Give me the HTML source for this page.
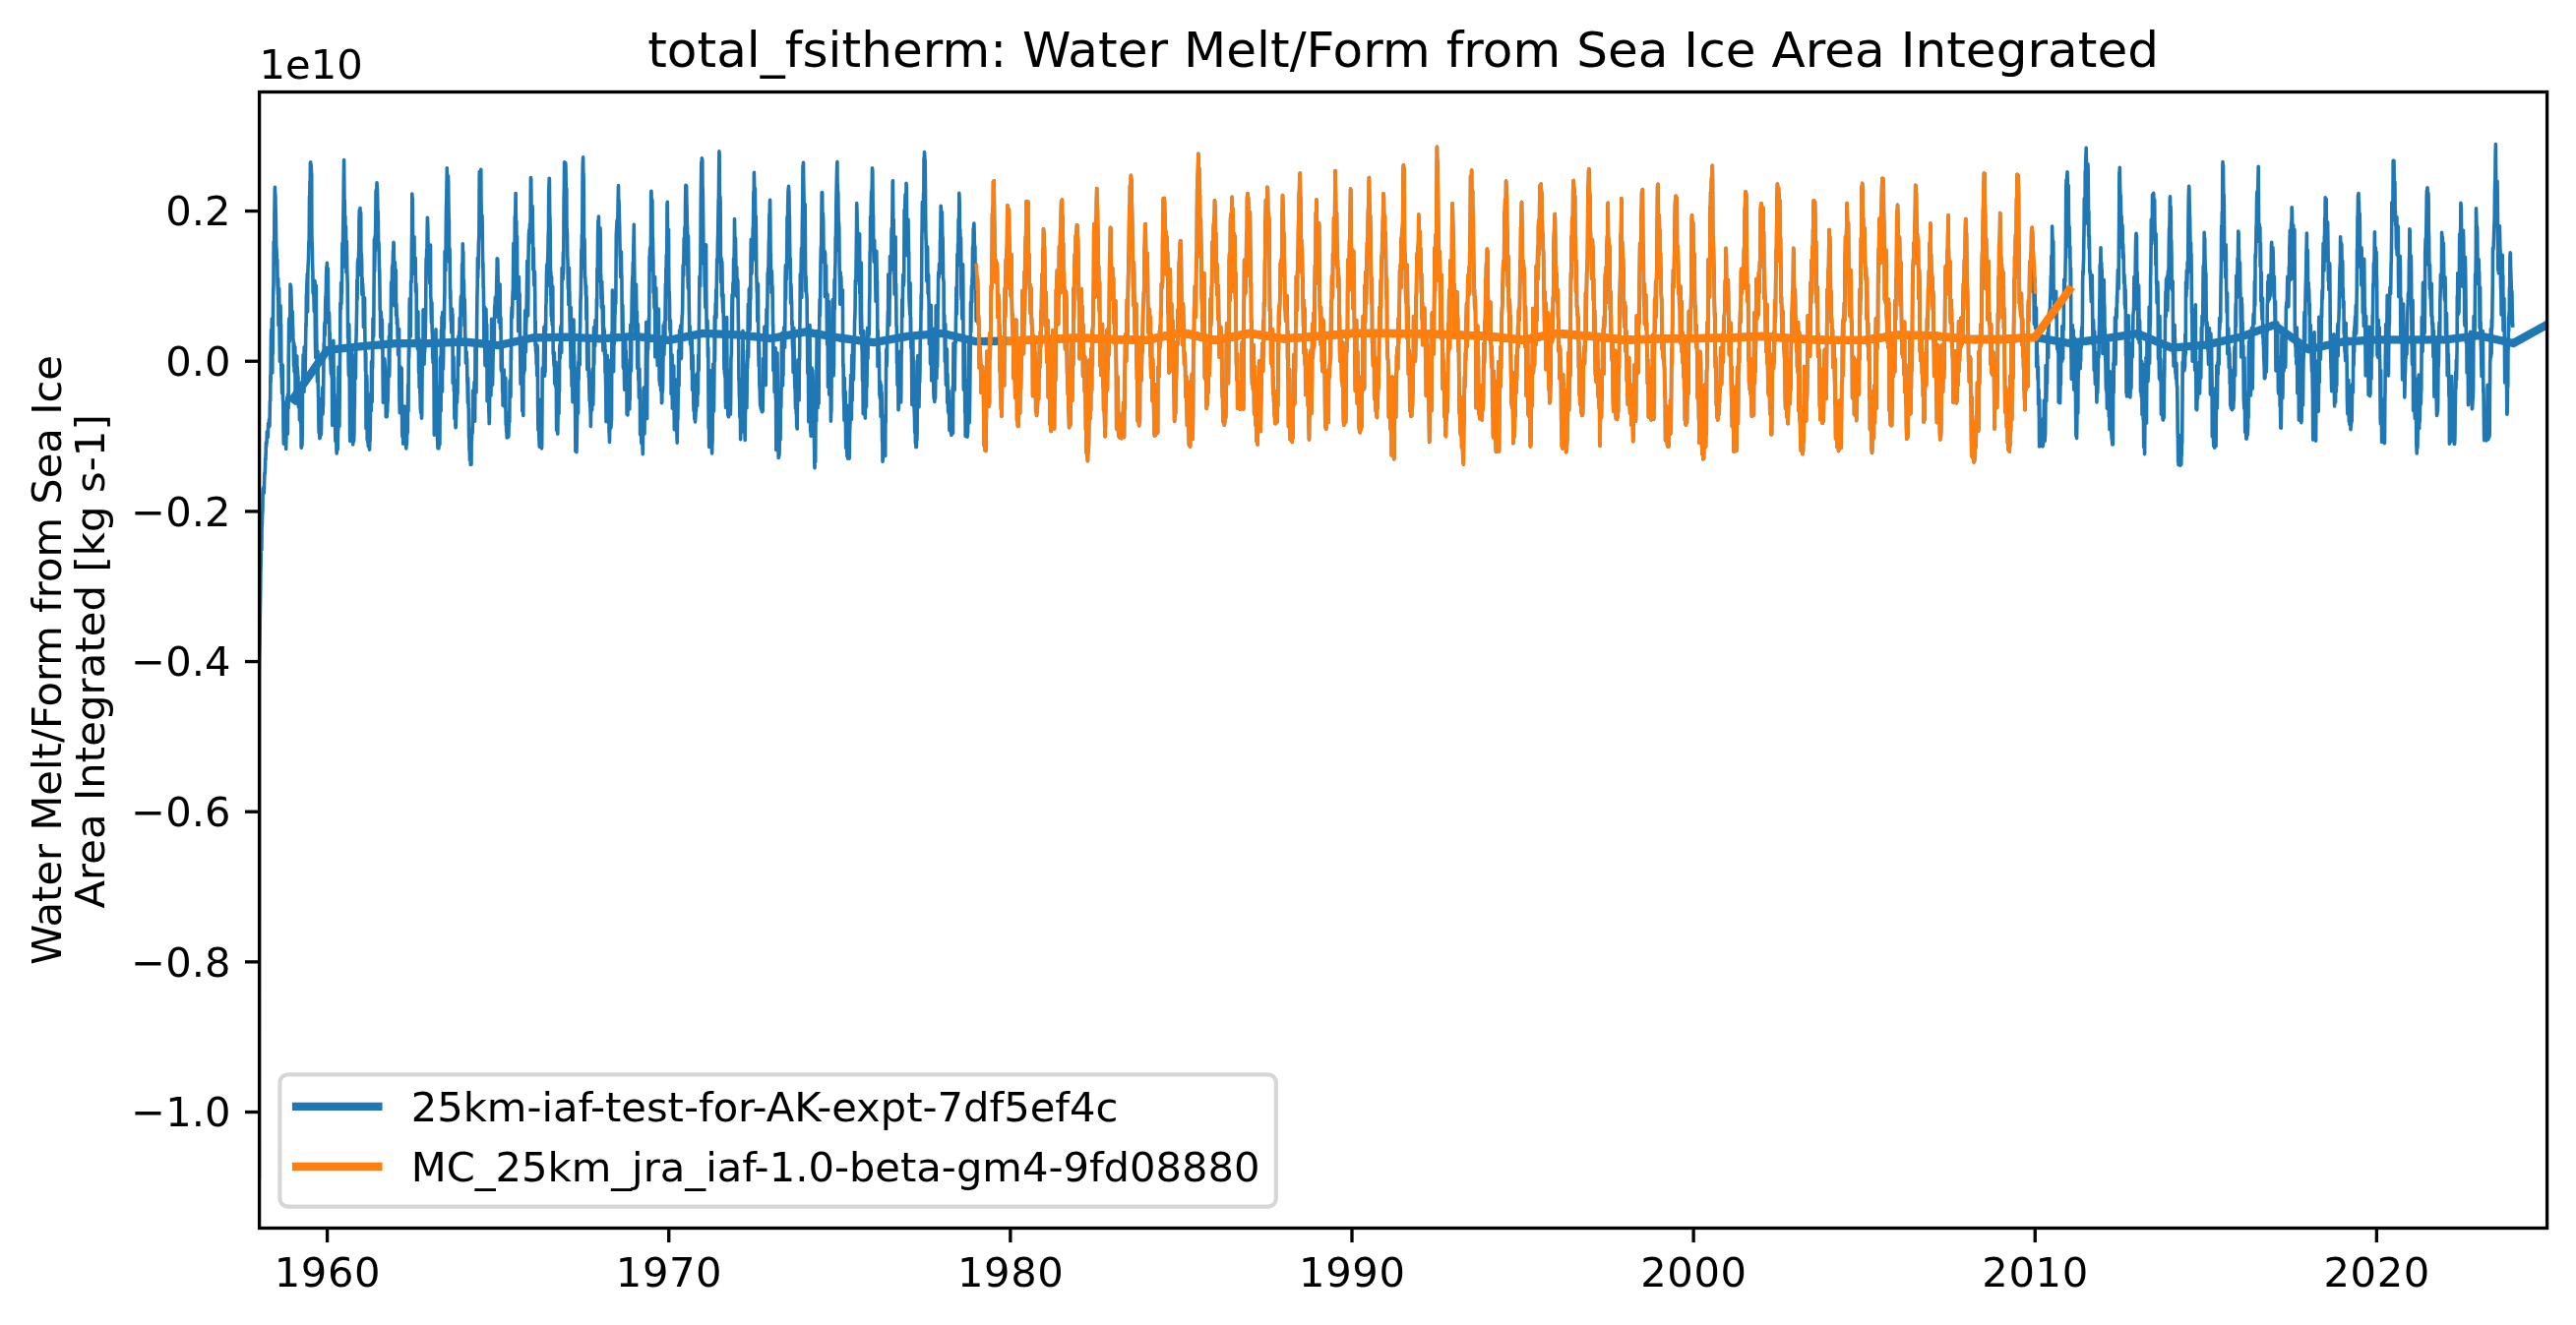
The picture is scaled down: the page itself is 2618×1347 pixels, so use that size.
<!DOCTYPE html>
<html lang="en"><head><meta charset="utf-8"><title>total_fsitherm</title>
<style>html,body{margin:0;padding:0;background:#fff}body{width:2618px;height:1347px;overflow:hidden}</style>
</head><body>
<svg width="2618" height="1347" viewBox="0 0 2618 1347" style="display:block;font-family:'DejaVu Sans','Liberation Sans',sans-serif" font-size="41.667" fill="#000">
<rect width="2618" height="1347" fill="#fff"/>
<clipPath id="ax"><rect x="263.6" y="93.5" width="2325.0" height="1155.0"/></clipPath>
<g clip-path="url(#ax)" fill="none" stroke-linejoin="round">
<polyline stroke="#1f77b4" stroke-width="3.6" stroke-linecap="square" points="263.4,1196.1 263.5,687.8 263.7,666.6 264.0,654.7 264.2,637.2 264.4,618.9 264.7,603.5 264.9,582.9 265.2,572.3 265.4,547.4 265.6,541.1 265.9,559.0 266.1,535.9 266.4,531.7 266.6,523.3 266.9,519.7 267.1,503.4 267.4,496.9 267.6,501.0 267.9,497.6 268.1,494.7 268.3,501.2 268.6,492.3 268.8,484.3 269.0,480.3 269.2,481.8 269.5,475.7 269.7,465.1 269.9,467.4 270.2,459.7 270.4,449.7 270.6,454.1 270.9,450.0 271.1,449.6 271.4,438.6 271.6,444.6 271.9,441.8 272.1,444.8 272.4,443.6 272.6,430.3 272.8,435.3 273.1,430.4 273.3,432.5 273.5,426.4 273.8,427.2 274.0,433.4 274.2,420.7 274.4,407.8 274.7,407.2 274.9,381.0 275.1,389.4 275.4,347.9 275.6,335.4 275.8,362.7 276.1,357.7 276.3,324.1 276.6,353.8 276.8,379.0 277.0,325.2 277.3,359.8 277.5,320.7 277.7,297.4 278.0,289.0 278.2,245.5 278.4,265.4 278.7,259.6 278.9,219.5 279.1,204.9 279.4,190.2 279.6,196.6 279.9,198.4 280.1,212.1 280.3,216.3 280.6,241.7 280.8,252.2 281.1,254.9 281.3,268.8 281.5,267.4 281.8,264.0 282.0,287.1 282.3,293.1 282.5,299.8 282.7,283.3 283.0,330.7 283.2,309.5 283.5,320.7 283.7,293.4 283.9,326.2 284.2,348.3 284.4,367.5 284.7,364.1 284.9,310.3 285.1,312.9 285.4,335.8 285.6,329.7 285.9,378.1 286.1,383.8 286.3,382.5 286.6,399.7 286.8,387.2 287.1,370.8 287.3,372.1 287.5,404.8 287.8,410.3 288.0,434.4 288.3,451.3 288.5,414.7 288.7,421.5 289.0,436.6 289.2,409.0 289.5,424.1 289.7,451.4 289.9,441.7 290.2,439.2 290.4,448.1 290.7,456.5 290.9,443.4 291.2,439.2 291.4,426.6 291.6,409.5 291.9,403.8 292.1,414.9 292.4,441.3 292.6,402.4 292.8,400.4 293.1,415.3 293.3,362.2 293.6,333.2 293.8,323.7 294.1,323.8 294.3,347.3 294.5,334.9 294.8,326.1 295.0,289.0 295.3,292.5 295.5,291.3 295.8,294.0 296.0,301.0 296.2,305.0 296.5,322.5 296.7,329.4 297.0,327.8 297.2,316.5 297.4,327.3 297.7,334.5 297.9,343.9 298.2,347.6 298.4,362.3 298.6,372.1 298.9,348.9 299.1,378.1 299.4,368.8 299.6,357.7 299.8,352.5 300.1,396.5 300.3,410.2 300.6,377.2 300.8,386.3 301.0,391.7 301.3,384.1 301.5,382.8 301.8,362.1 302.0,387.2 302.2,373.3 302.5,377.4 302.7,380.7 303.0,383.4 303.2,409.8 303.4,413.8 303.7,404.5 303.9,394.1 304.2,403.5 304.4,427.0 304.6,415.7 304.9,418.3 305.1,421.7 305.4,422.4 305.6,430.2 305.8,405.9 306.1,453.9 306.3,455.2 306.6,453.3 306.8,424.0 307.0,452.7 307.3,435.1 307.5,390.6 307.8,395.1 308.0,369.5 308.2,360.6 308.5,385.1 308.7,361.5 309.0,398.4 309.2,352.8 309.4,368.0 309.7,375.2 309.9,384.6 310.2,376.3 310.4,359.9 310.6,349.8 310.9,329.0 311.1,332.4 311.4,299.1 311.6,304.7 311.8,290.8 312.1,285.1 312.3,278.2 312.6,316.9 312.8,284.6 313.0,272.7 313.3,266.7 313.5,263.5 313.8,247.4 314.0,244.5 314.2,244.3 314.5,199.5 314.7,204.6 315.0,183.8 315.2,187.5 315.4,165.5 315.7,164.9 315.9,170.9 316.2,167.9 316.4,174.0 316.7,177.1 316.9,237.4 317.1,245.4 317.4,253.2 317.6,270.4 317.9,276.2 318.1,297.9 318.4,284.5 318.6,299.5 318.8,294.4 319.1,308.8 319.3,316.7 319.6,299.2 319.8,285.3 320.1,287.1 320.3,331.5 320.5,350.7 320.8,363.8 321.0,323.4 321.3,290.3 321.5,323.3 321.8,347.5 322.0,357.3 322.3,380.7 322.5,388.1 322.7,369.4 323.0,357.2 323.2,386.8 323.5,399.6 323.7,412.5 324.0,436.2 324.2,439.9 324.4,440.4 324.7,434.7 324.9,445.6 325.2,445.0 325.4,434.7 325.6,431.4 325.9,434.5 326.1,442.4 326.4,440.8 326.6,432.5 326.8,404.7 327.1,408.7 327.3,408.7 327.6,405.1 327.8,393.7 328.0,421.2 328.3,414.1 328.5,413.0 328.8,382.1 329.0,361.3 329.2,349.1 329.5,351.8 329.7,334.4 330.0,327.7 330.2,341.1 330.4,334.0 330.7,309.9 330.9,302.6 331.2,299.7 331.4,295.1 331.6,280.0 331.9,271.4 332.1,276.6 332.4,267.4 332.6,285.4 332.8,273.1 333.1,276.2 333.3,273.0 333.6,303.9 333.8,320.4 334.1,328.6 334.3,326.8 334.5,317.8 334.8,328.0 335.0,350.9 335.3,338.5 335.5,365.5 335.7,347.1 336.0,367.0 336.2,373.9 336.5,380.1 336.7,375.6 336.9,366.3 337.2,383.5 337.4,372.6 337.7,432.5 337.9,413.2 338.2,398.5 338.4,385.2 338.6,372.7 338.9,346.4 339.1,375.2 339.4,400.7 339.6,383.8 339.8,408.5 340.1,400.7 340.3,414.8 340.6,433.8 340.8,445.7 341.0,448.7 341.3,423.3 341.5,449.2 341.8,436.9 342.0,457.8 342.2,461.0 342.5,439.1 342.7,428.4 343.0,455.4 343.2,457.2 343.5,438.9 343.7,436.7 344.0,373.1 344.2,421.3 344.4,407.9 344.7,423.3 344.9,433.5 345.2,396.7 345.4,371.4 345.7,349.8 345.9,308.1 346.1,313.3 346.4,313.9 346.6,287.6 346.9,309.2 347.1,298.2 347.4,297.7 347.6,277.9 347.9,247.4 348.1,269.8 348.3,272.0 348.6,240.1 348.8,223.8 349.1,203.8 349.3,180.4 349.6,162.6 349.8,183.4 350.0,209.3 350.3,203.8 350.5,227.7 350.8,219.8 351.0,244.8 351.2,239.0 351.5,230.0 351.7,258.1 352.0,277.2 352.2,255.5 352.4,245.2 352.7,273.2 352.9,279.4 353.2,289.3 353.4,313.9 353.6,344.1 353.9,334.6 354.1,366.5 354.4,381.4 354.6,360.9 354.8,329.9 355.1,370.3 355.3,395.5 355.6,441.5 355.8,448.4 356.0,428.4 356.3,439.3 356.5,386.9 356.8,386.4 357.0,383.5 357.2,436.3 357.5,432.2 357.7,353.9 358.0,418.3 358.2,417.7 358.4,441.9 358.7,452.0 358.9,437.9 359.2,426.7 359.4,448.8 359.6,448.2 359.9,441.0 360.1,416.0 360.4,414.6 360.6,376.8 360.9,361.6 361.1,379.4 361.4,384.8 361.6,365.9 361.8,348.7 362.1,340.7 362.3,329.0 362.6,315.4 362.8,285.1 363.1,304.5 363.3,280.8 363.5,266.1 363.8,264.9 364.0,262.8 364.3,280.1 364.5,259.2 364.8,251.9 365.0,224.4 365.3,213.6 365.5,215.7 365.7,223.7 366.0,211.6 366.2,235.2 366.5,215.6 366.7,216.4 366.9,253.1 367.2,264.3 367.4,258.3 367.7,270.2 367.9,299.5 368.1,282.6 368.4,293.4 368.6,288.1 368.9,296.4 369.1,296.5 369.4,332.6 369.6,310.0 369.8,306.6 370.1,331.3 370.3,322.7 370.6,302.9 370.8,333.0 371.0,347.5 371.3,360.6 371.5,377.0 371.8,359.0 372.0,435.6 372.2,395.4 372.5,394.2 372.7,381.9 373.0,390.7 373.2,447.0 373.4,436.3 373.7,449.4 373.9,424.9 374.2,452.2 374.4,453.8 374.6,409.6 374.9,445.6 375.1,439.9 375.4,454.0 375.6,457.1 375.8,441.7 376.1,448.3 376.3,437.9 376.6,400.7 376.8,403.7 377.0,398.7 377.3,417.7 377.5,367.5 377.8,378.7 378.0,374.4 378.2,408.6 378.5,356.4 378.7,374.1 379.0,323.9 379.2,342.8 379.4,333.6 379.7,342.2 379.9,318.7 380.2,275.1 380.4,243.4 380.6,276.4 380.9,264.4 381.1,240.4 381.4,255.6 381.6,238.9 381.8,221.1 382.1,193.5 382.3,225.8 382.6,239.3 382.8,197.6 383.0,185.7 383.3,191.0 383.5,193.3 383.8,209.5 384.0,224.4 384.3,215.2 384.5,235.6 384.7,252.4 385.0,246.2 385.2,255.3 385.5,275.2 385.7,273.4 386.0,296.3 386.2,315.1 386.5,315.7 386.7,343.1 386.9,339.8 387.2,317.1 387.4,321.0 387.7,337.9 387.9,353.9 388.2,324.7 388.4,328.6 388.6,352.5 388.9,350.0 389.1,378.3 389.4,409.2 389.6,397.4 389.9,395.0 390.1,366.2 390.3,393.3 390.6,388.6 390.8,364.9 391.1,369.6 391.3,372.4 391.6,389.1 391.8,406.2 392.0,402.1 392.3,423.8 392.5,415.4 392.8,413.1 393.0,417.0 393.2,423.6 393.5,413.5 393.7,418.8 394.0,397.7 394.2,408.9 394.5,391.0 394.7,379.7 394.9,378.8 395.2,371.0 395.4,341.7 395.7,382.5 395.9,370.9 396.1,329.8 396.4,352.5 396.6,341.9 396.9,344.1 397.1,347.2 397.3,322.8 397.6,286.9 397.8,288.0 398.1,292.3 398.3,291.5 398.5,273.2 398.8,269.9 399.0,275.0 399.3,265.3 399.5,254.9 399.7,258.5 400.0,246.4 400.2,248.4 400.5,267.1 400.7,270.6 401.0,311.0 401.2,267.8 401.4,266.5 401.7,277.7 401.9,306.6 402.2,302.6 402.4,274.6 402.6,320.8 402.9,308.7 403.1,316.3 403.4,329.3 403.6,322.9 403.9,325.8 404.1,341.8 404.3,343.2 404.6,360.7 404.8,344.4 405.1,348.4 405.3,345.4 405.6,334.3 405.8,388.4 406.0,407.0 406.3,419.8 406.5,390.6 406.8,396.6 407.0,394.3 407.2,373.1 407.5,402.0 407.7,388.7 408.0,394.3 408.2,374.3 408.5,417.5 408.7,437.8 408.9,444.0 409.2,419.7 409.4,417.9 409.7,451.2 409.9,436.8 410.2,448.5 410.4,438.3 410.6,415.0 410.9,442.4 411.1,413.0 411.4,443.7 411.6,438.4 411.8,416.1 412.1,448.6 412.3,451.3 412.6,453.9 412.8,455.9 413.1,448.4 413.3,452.0 413.5,447.3 413.8,426.1 414.0,425.1 414.3,440.4 414.5,403.6 414.7,390.8 415.0,418.0 415.2,374.9 415.5,349.9 415.7,363.3 415.9,351.2 416.2,310.7 416.4,303.5 416.7,327.8 416.9,334.3 417.2,342.2 417.4,325.0 417.6,286.0 417.9,286.0 418.1,287.3 418.4,249.9 418.6,237.6 418.8,197.0 419.1,205.9 419.3,201.3 419.6,252.3 419.8,278.4 420.0,257.6 420.3,255.5 420.5,270.0 420.8,242.9 421.0,240.8 421.2,276.0 421.5,266.9 421.7,270.1 422.0,263.8 422.2,262.4 422.5,296.6 422.7,290.0 422.9,288.4 423.2,295.8 423.4,350.9 423.7,344.2 423.9,333.6 424.1,345.5 424.4,354.6 424.6,354.2 424.9,316.7 425.1,347.9 425.3,345.9 425.6,379.0 425.8,344.3 426.1,394.0 426.3,387.8 426.5,350.5 426.8,400.0 427.0,399.8 427.3,416.3 427.5,413.6 427.7,419.5 428.0,416.2 428.2,415.9 428.5,425.1 428.7,421.7 428.9,398.4 429.2,371.2 429.4,353.8 429.6,360.5 429.9,367.9 430.1,314.8 430.4,355.7 430.6,360.4 430.8,343.0 431.1,370.2 431.3,350.5 431.5,358.8 431.8,353.9 432.0,330.6 432.2,344.2 432.5,327.0 432.7,312.6 433.0,268.7 433.2,262.4 433.4,275.6 433.7,253.5 433.9,264.2 434.1,240.5 434.4,221.2 434.6,225.0 434.8,231.0 435.1,252.2 435.3,265.4 435.6,279.8 435.8,273.1 436.1,279.8 436.3,269.7 436.5,275.9 436.8,288.1 437.0,260.0 437.3,257.3 437.5,249.1 437.7,302.0 438.0,304.1 438.2,318.9 438.5,328.5 438.7,315.1 438.9,307.6 439.2,337.9 439.4,337.0 439.7,364.5 439.9,359.6 440.1,368.7 440.4,362.5 440.6,365.7 440.9,370.7 441.1,399.0 441.3,442.2 441.6,390.9 441.8,396.5 442.1,414.3 442.3,391.8 442.5,373.9 442.8,379.2 443.0,334.8 443.3,385.3 443.5,392.0 443.8,393.3 444.0,408.2 444.2,417.9 444.5,446.8 444.7,448.6 445.0,455.7 445.2,434.1 445.4,437.4 445.7,440.7 445.9,455.9 446.2,449.9 446.4,446.1 446.6,447.7 446.9,452.1 447.1,426.2 447.3,365.5 447.6,362.9 447.8,389.4 448.1,417.9 448.3,364.6 448.5,335.5 448.8,364.1 449.0,322.0 449.3,366.4 449.5,397.9 449.7,317.6 450.0,356.1 450.2,346.7 450.4,375.1 450.7,359.7 450.9,331.1 451.2,329.4 451.4,333.4 451.6,311.9 451.9,297.7 452.1,255.5 452.3,267.2 452.6,258.8 452.8,275.2 453.1,254.4 453.3,227.9 453.5,211.5 453.8,202.8 454.0,189.7 454.3,170.9 454.5,188.2 454.7,196.5 455.0,206.5 455.2,180.2 455.5,179.1 455.7,186.6 455.9,206.1 456.2,223.0 456.4,223.8 456.6,266.6 456.9,252.4 457.1,254.3 457.4,288.2 457.6,303.5 457.8,295.2 458.1,316.8 458.3,326.6 458.6,327.8 458.8,338.3 459.0,319.9 459.3,335.8 459.5,314.1 459.8,326.5 460.0,319.5 460.2,389.6 460.5,381.7 460.7,389.8 461.0,362.7 461.2,385.4 461.4,398.0 461.7,386.1 461.9,425.6 462.2,391.6 462.4,425.6 462.6,410.3 462.9,432.8 463.1,434.7 463.3,433.2 463.6,419.5 463.8,394.3 464.1,388.7 464.3,402.1 464.5,409.2 464.8,395.1 465.0,400.8 465.3,367.8 465.5,361.9 465.7,357.8 466.0,341.6 466.2,371.5 466.5,358.3 466.7,336.8 466.9,344.0 467.2,323.0 467.4,329.9 467.7,347.2 467.9,346.5 468.1,311.1 468.4,301.6 468.6,321.3 468.9,300.3 469.1,310.0 469.3,306.3 469.6,268.4 469.8,274.5 470.1,273.5 470.3,247.7 470.5,260.5 470.8,255.9 471.0,300.3 471.3,284.5 471.5,289.7 471.7,303.9 472.0,331.3 472.2,304.1 472.5,317.8 472.7,338.0 472.9,343.4 473.2,346.4 473.4,368.9 473.7,363.4 473.9,360.7 474.2,357.7 474.4,370.5 474.6,364.3 474.9,388.2 475.1,390.5 475.4,409.6 475.6,384.2 475.8,394.5 476.1,413.4 476.3,415.5 476.6,445.3 476.8,441.5 477.0,456.9 477.3,458.9 477.5,468.0 477.8,447.8 478.0,446.6 478.2,472.5 478.5,460.0 478.7,466.4 479.0,472.3 479.2,437.3 479.4,447.6 479.7,436.6 479.9,440.7 480.2,439.8 480.4,426.5 480.6,397.1 480.9,405.2 481.1,402.1 481.4,404.7 481.6,419.1 481.8,398.3 482.1,388.2 482.3,425.3 482.6,428.2 482.8,394.8 483.0,355.4 483.3,346.3 483.5,349.0 483.7,373.6 484.0,399.0 484.2,355.9 484.5,344.9 484.7,321.9 484.9,303.0 485.2,289.2 485.4,262.4 485.7,281.9 485.9,265.7 486.1,273.6 486.4,247.5 486.6,243.8 486.9,238.4 487.1,193.7 487.3,174.6 487.6,195.2 487.8,190.8 488.1,182.3 488.3,179.7 488.5,180.7 488.8,172.2 489.0,203.7 489.3,218.9 489.5,228.4 489.7,225.4 490.0,219.1 490.2,227.0 490.5,256.9 490.7,272.0 490.9,266.8 491.2,292.8 491.4,292.0 491.7,320.1 491.9,349.8 492.2,339.4 492.4,329.3 492.6,312.3 492.9,369.5 493.1,371.7 493.4,337.9 493.6,360.2 493.9,314.3 494.1,321.8 494.3,334.1 494.6,334.7 494.8,329.8 495.1,407.8 495.3,387.7 495.5,387.0 495.8,386.3 496.0,351.7 496.3,357.2 496.5,380.9 496.8,418.3 497.0,420.8 497.2,430.8 497.5,421.8 497.7,395.0 498.0,396.0 498.2,400.4 498.4,372.6 498.7,368.2 498.9,402.1 499.2,389.6 499.4,370.1 499.6,324.3 499.9,353.5 500.1,360.5 500.4,369.8 500.6,391.2 500.9,372.5 501.1,362.5 501.3,348.6 501.6,338.6 501.8,342.0 502.1,349.2 502.3,346.9 502.5,322.3 502.8,310.3 503.0,321.4 503.3,302.5 503.5,308.5 503.7,322.4 504.0,316.1 504.2,300.7 504.5,301.7 504.7,287.9 505.0,277.2 505.2,262.9 505.4,263.4 505.7,263.2 505.9,267.3 506.1,282.9 506.4,290.3 506.6,304.3 506.9,299.3 507.1,327.8 507.3,318.6 507.6,293.2 507.8,289.8 508.1,288.9 508.3,310.8 508.5,334.2 508.8,326.1 509.0,323.1 509.2,373.5 509.5,377.0 509.7,368.1 510.0,377.1 510.2,353.8 510.4,377.2 510.7,398.7 510.9,391.6 511.1,412.2 511.4,397.2 511.6,403.4 511.9,387.9 512.1,388.3 512.3,376.1 512.6,401.9 512.8,406.5 513.1,413.6 513.3,396.8 513.5,385.2 513.8,384.2 514.0,417.4 514.2,432.0 514.5,427.7 514.7,438.6 515.0,438.6 515.2,445.0 515.4,444.9 515.7,441.9 515.9,423.9 516.2,419.8 516.4,437.9 516.6,444.4 516.9,443.2 517.1,433.2 517.4,420.3 517.6,423.2 517.8,428.7 518.1,387.9 518.3,386.6 518.5,393.7 518.8,389.9 519.0,403.5 519.3,356.5 519.5,365.9 519.7,322.1 520.0,316.3 520.2,312.2 520.5,323.0 520.7,316.0 520.9,303.6 521.2,295.7 521.4,294.7 521.7,264.3 521.9,247.4 522.1,257.4 522.4,261.3 522.6,267.2 522.9,303.4 523.1,254.9 523.3,221.0 523.6,219.6 523.8,215.7 524.1,196.6 524.3,215.6 524.5,228.3 524.8,224.9 525.0,247.4 525.3,248.7 525.5,240.2 525.7,277.8 526.0,304.4 526.2,299.6 526.5,308.6 526.7,336.8 526.9,323.9 527.2,290.3 527.4,281.6 527.7,317.0 527.9,322.1 528.1,298.6 528.4,350.2 528.6,353.8 528.9,372.1 529.1,390.3 529.3,371.6 529.6,380.0 529.8,367.9 530.1,348.3 530.3,365.9 530.5,391.7 530.8,417.7 531.0,394.7 531.3,415.4 531.5,416.8 531.8,422.5 532.0,373.0 532.2,358.0 532.5,379.7 532.7,355.6 533.0,345.2 533.2,376.4 533.4,335.7 533.7,315.7 533.9,322.2 534.2,349.2 534.4,357.9 534.6,331.9 534.9,323.9 535.1,314.7 535.4,298.3 535.6,279.9 535.8,265.2 536.1,288.2 536.3,278.7 536.6,321.0 536.8,298.6 537.0,263.9 537.3,245.4 537.5,237.9 537.8,233.7 538.0,238.4 538.2,235.7 538.5,227.6 538.7,232.3 539.0,241.7 539.2,204.9 539.4,180.6 539.7,181.6 539.9,196.8 540.2,238.4 540.4,227.9 540.6,244.0 540.9,247.1 541.1,209.6 541.4,229.8 541.6,240.3 541.8,274.2 542.1,261.4 542.3,252.2 542.6,280.5 542.8,290.2 543.0,282.8 543.3,275.9 543.5,278.7 543.8,311.5 544.0,350.9 544.2,326.6 544.5,356.7 544.7,357.4 545.0,359.8 545.2,370.5 545.4,352.0 545.7,381.7 545.9,350.7 546.2,353.4 546.4,355.4 546.6,410.8 546.9,437.2 547.1,436.4 547.4,431.7 547.6,405.9 547.8,442.5 548.1,451.5 548.3,454.2 548.6,430.2 548.8,426.5 549.0,433.4 549.3,447.4 549.5,434.0 549.8,443.5 550.0,447.9 550.2,449.5 550.5,455.9 550.7,452.4 551.0,413.3 551.2,379.6 551.4,373.8 551.7,374.3 551.9,382.5 552.2,380.1 552.4,373.0 552.6,355.5 552.9,332.5 553.1,340.6 553.4,371.0 553.6,382.1 553.9,365.7 554.1,378.1 554.3,328.9 554.6,336.3 554.8,310.8 555.1,307.6 555.3,290.5 555.5,277.0 555.8,269.0 556.0,291.0 556.3,267.5 556.5,270.6 556.7,262.8 557.0,252.8 557.2,238.8 557.5,234.5 557.7,193.7 557.9,190.7 558.2,181.2 558.4,181.5 558.7,219.1 558.9,219.9 559.1,229.3 559.4,263.5 559.6,300.1 559.9,276.5 560.1,311.5 560.3,321.8 560.6,281.5 560.8,326.5 561.0,302.7 561.3,330.5 561.5,310.3 561.8,291.4 562.0,336.8 562.2,359.9 562.5,358.2 562.7,364.2 563.0,371.5 563.2,371.9 563.4,358.6 563.7,389.9 563.9,390.0 564.2,388.1 564.4,388.6 564.6,392.5 564.9,368.1 565.1,386.8 565.3,383.8 565.6,437.5 565.8,420.2 566.1,423.5 566.3,438.2 566.5,437.4 566.8,441.1 567.0,424.8 567.3,409.6 567.5,384.7 567.7,371.8 568.0,420.5 568.2,394.9 568.5,397.9 568.7,353.6 569.0,350.1 569.2,364.1 569.4,356.8 569.7,336.2 569.9,333.0 570.2,331.1 570.4,344.2 570.7,358.5 570.9,312.0 571.1,272.6 571.4,282.2 571.6,278.4 571.9,282.3 572.1,284.1 572.4,256.2 572.6,278.6 572.8,262.6 573.1,201.4 573.3,195.3 573.6,164.9 573.8,183.5 574.1,173.3 574.3,192.2 574.5,171.6 574.8,165.5 575.0,170.8 575.3,196.7 575.5,194.7 575.8,191.9 576.0,238.3 576.2,232.3 576.5,238.4 576.7,260.5 577.0,265.2 577.2,284.2 577.4,293.6 577.7,285.1 577.9,309.8 578.2,291.0 578.4,272.3 578.7,299.3 578.9,296.9 579.1,324.7 579.4,337.9 579.6,340.6 579.9,354.9 580.1,374.1 580.3,312.6 580.6,338.6 580.8,370.4 581.1,392.5 581.3,390.9 581.6,373.3 581.8,390.0 582.0,408.8 582.3,361.8 582.5,342.3 582.8,359.5 583.0,325.0 583.2,351.1 583.5,387.3 583.7,360.4 584.0,388.3 584.2,373.6 584.5,410.3 584.7,427.8 584.9,458.8 585.2,438.1 585.4,454.9 585.7,455.3 585.9,459.7 586.1,454.9 586.4,434.5 586.6,421.5 586.9,400.2 587.1,393.9 587.3,383.5 587.6,420.2 587.8,368.0 588.1,385.8 588.3,370.5 588.5,348.5 588.8,370.4 589.0,348.3 589.2,371.0 589.5,337.3 589.7,331.9 590.0,306.5 590.2,302.2 590.4,292.5 590.7,268.3 590.9,253.5 591.1,266.9 591.4,238.2 591.6,252.8 591.9,215.8 592.1,177.7 592.3,166.3 592.6,159.8 592.8,174.1 593.1,178.5 593.3,196.2 593.5,246.9 593.8,272.9 594.0,243.0 594.2,250.3 594.5,282.2 594.7,281.5 594.9,285.6 595.2,292.9 595.4,300.4 595.7,290.7 595.9,324.7 596.1,301.1 596.4,314.0 596.6,360.2 596.8,375.7 597.1,359.0 597.3,347.3 597.6,349.2 597.8,341.8 598.0,345.3 598.3,383.5 598.5,374.3 598.7,387.6 599.0,399.7 599.2,407.8 599.5,391.0 599.7,413.5 599.9,412.2 600.2,421.5 600.4,433.4 600.6,413.1 600.9,410.3 601.1,402.0 601.4,416.5 601.6,417.3 601.9,409.7 602.1,379.7 602.3,377.7 602.6,374.5 602.8,411.6 603.1,389.9 603.3,347.0 603.5,332.7 603.8,370.5 604.0,338.7 604.3,348.4 604.5,343.6 604.7,352.0 605.0,325.5 605.2,327.1 605.5,326.3 605.7,339.2 605.9,344.3 606.2,332.4 606.4,303.8 606.7,311.2 606.9,273.0 607.2,287.0 607.4,264.1 607.6,240.1 607.9,224.2 608.1,233.6 608.4,220.1 608.6,233.7 608.8,254.6 609.1,243.2 609.3,240.8 609.5,249.0 609.8,246.9 610.0,231.8 610.3,241.8 610.5,281.7 610.7,278.7 611.0,303.8 611.2,297.6 611.4,312.8 611.7,286.1 611.9,293.7 612.2,303.1 612.4,323.3 612.6,331.4 612.9,356.4 613.1,311.1 613.3,331.2 613.6,353.0 613.8,333.4 614.1,337.3 614.3,336.5 614.5,360.7 614.8,350.0 615.0,378.8 615.2,355.7 615.5,385.7 615.7,391.6 616.0,428.7 616.2,419.1 616.4,390.3 616.7,389.0 616.9,379.1 617.1,361.2 617.4,378.8 617.6,383.7 617.9,367.8 618.1,370.7 618.3,366.0 618.6,393.9 618.8,367.7 619.0,438.2 619.3,442.1 619.5,449.4 619.8,426.9 620.0,431.3 620.2,399.6 620.5,420.9 620.7,435.3 621.0,434.0 621.2,428.4 621.5,426.2 621.7,376.6 621.9,337.7 622.2,349.9 622.4,295.1 622.7,319.5 622.9,343.2 623.2,349.7 623.4,360.2 623.6,377.7 623.9,344.8 624.1,351.4 624.4,346.1 624.6,342.0 624.9,313.2 625.1,319.0 625.3,295.7 625.6,299.3 625.8,308.8 626.1,266.6 626.3,239.2 626.6,233.3 626.8,229.0 627.0,225.0 627.3,223.7 627.5,236.5 627.8,226.6 628.0,213.2 628.3,197.6 628.5,188.6 628.7,203.8 629.0,203.5 629.2,210.7 629.5,224.8 629.7,230.9 629.9,244.4 630.2,260.5 630.4,262.9 630.7,281.7 630.9,259.2 631.1,263.9 631.4,256.1 631.6,278.0 631.9,281.2 632.1,309.1 632.3,337.6 632.6,315.2 632.8,310.4 633.1,330.5 633.3,372.5 633.5,374.2 633.8,374.3 634.0,375.0 634.3,364.6 634.5,386.9 634.7,396.1 635.0,393.0 635.2,377.4 635.5,345.6 635.7,347.9 635.9,360.4 636.2,356.5 636.4,390.3 636.7,365.4 636.9,377.0 637.1,421.1 637.4,412.8 637.6,414.8 637.9,421.9 638.1,412.5 638.3,410.8 638.6,414.5 638.8,412.0 639.1,389.2 639.3,399.0 639.5,415.5 639.8,415.9 640.0,391.9 640.2,406.2 640.5,363.7 640.7,330.2 641.0,333.7 641.2,339.2 641.4,377.2 641.7,357.5 641.9,329.0 642.1,313.3 642.4,293.7 642.6,286.1 642.9,281.3 643.1,278.8 643.3,266.7 643.6,273.5 643.8,254.1 644.0,245.4 644.3,228.3 644.5,252.5 644.8,275.5 645.0,297.8 645.3,326.2 645.5,332.9 645.7,339.7 646.0,315.7 646.2,310.6 646.5,289.1 646.7,303.3 647.0,328.9 647.2,317.4 647.4,317.1 647.7,371.7 647.9,374.5 648.2,338.9 648.4,329.6 648.7,349.0 648.9,386.5 649.1,379.6 649.4,404.2 649.6,402.5 649.9,374.9 650.1,403.7 650.4,396.3 650.6,441.9 650.8,411.4 651.1,416.8 651.3,411.0 651.6,428.8 651.8,450.5 652.1,446.7 652.3,451.3 652.5,446.6 652.8,438.9 653.0,452.7 653.3,461.6 653.5,439.8 653.8,428.4 654.0,428.6 654.2,394.0 654.5,405.3 654.7,411.5 655.0,441.1 655.2,415.5 655.4,397.7 655.7,400.4 655.9,401.6 656.2,408.6 656.4,372.9 656.7,327.6 656.9,405.3 657.1,401.5 657.4,383.8 657.6,425.6 657.9,368.7 658.1,358.2 658.4,347.8 658.6,355.9 658.8,341.1 659.1,347.7 659.3,323.9 659.6,343.5 659.8,316.5 660.1,260.2 660.3,272.2 660.5,253.0 660.8,254.1 661.0,250.5 661.3,274.8 661.5,235.9 661.7,194.4 662.0,194.4 662.2,213.9 662.5,233.0 662.7,202.8 662.9,204.3 663.2,243.5 663.4,242.1 663.7,259.7 663.9,264.7 664.1,297.5 664.4,290.5 664.6,281.1 664.9,309.2 665.1,313.5 665.3,310.3 665.6,281.5 665.8,362.9 666.1,345.5 666.3,341.6 666.5,302.5 666.8,292.7 667.0,309.3 667.3,325.6 667.5,346.2 667.7,334.3 668.0,354.9 668.2,371.5 668.4,346.1 668.7,347.8 668.9,318.9 669.2,322.3 669.4,314.1 669.6,346.7 669.9,348.0 670.1,387.2 670.4,381.0 670.6,391.4 670.8,387.6 671.1,376.9 671.3,348.4 671.6,397.1 671.8,394.7 672.0,375.2 672.3,391.0 672.5,409.7 672.8,408.8 673.0,384.9 673.2,398.9 673.5,395.3 673.7,385.6 674.0,361.2 674.2,330.8 674.4,342.3 674.7,356.7 674.9,360.6 675.2,345.4 675.4,327.1 675.6,334.0 675.9,348.9 676.1,315.2 676.4,288.6 676.6,325.5 676.8,273.0 677.1,272.9 677.3,259.0 677.6,270.4 677.8,250.0 678.0,207.9 678.3,205.2 678.5,234.3 678.8,247.1 679.0,260.3 679.2,266.4 679.5,233.3 679.7,279.0 680.0,299.1 680.2,296.5 680.5,307.3 680.7,334.8 680.9,332.4 681.2,337.6 681.4,325.7 681.7,349.9 681.9,364.4 682.1,400.7 682.4,370.2 682.6,376.8 682.9,368.3 683.1,360.9 683.3,415.3 683.6,384.3 683.8,383.5 684.1,373.2 684.3,405.6 684.5,399.9 684.8,371.9 685.0,402.2 685.3,436.6 685.5,431.3 685.8,429.5 686.0,406.7 686.2,398.4 686.5,411.7 686.7,388.8 687.0,393.6 687.2,386.0 687.4,404.2 687.7,438.4 687.9,439.4 688.2,450.1 688.4,436.9 688.6,416.2 688.9,426.3 689.1,408.9 689.4,398.2 689.6,356.2 689.9,389.1 690.1,392.0 690.3,361.8 690.6,335.7 690.8,335.7 691.1,357.1 691.3,349.9 691.6,332.3 691.8,330.7 692.0,343.2 692.3,364.6 692.5,363.0 692.8,336.5 693.0,325.8 693.3,320.5 693.5,319.5 693.7,311.2 694.0,284.0 694.2,269.5 694.5,275.2 694.7,280.3 694.9,260.4 695.2,242.1 695.4,259.6 695.7,268.7 695.9,231.6 696.2,230.5 696.4,231.6 696.6,204.5 696.9,188.3 697.1,198.9 697.4,191.2 697.6,188.9 697.9,206.3 698.1,212.9 698.3,227.9 698.6,231.5 698.8,265.8 699.1,286.9 699.3,293.1 699.5,239.7 699.8,268.0 700.0,282.9 700.3,312.0 700.5,321.6 700.7,342.4 701.0,336.4 701.2,331.9 701.5,350.0 701.7,343.6 701.9,349.2 702.2,343.3 702.4,355.0 702.7,359.4 702.9,375.5 703.1,339.1 703.4,355.0 703.6,396.6 703.9,394.3 704.1,361.1 704.3,365.0 704.6,395.7 704.8,409.7 705.1,417.8 705.3,405.9 705.5,408.1 705.8,425.9 706.0,409.8 706.3,411.7 706.5,428.9 706.8,424.3 707.0,421.4 707.2,408.6 707.5,418.0 707.7,381.6 708.0,412.6 708.2,389.5 708.5,379.5 708.7,412.4 708.9,380.8 709.2,395.2 709.4,400.8 709.7,360.8 709.9,377.2 710.2,375.0 710.4,337.1 710.6,317.8 710.9,281.7 711.1,280.9 711.4,291.2 711.6,290.3 711.9,266.3 712.1,232.6 712.3,204.0 712.6,180.3 712.8,164.9 713.1,171.3 713.3,160.9 713.6,169.6 713.8,162.4 714.0,188.6 714.3,194.8 714.5,210.5 714.7,231.2 715.0,260.4 715.2,252.0 715.5,268.9 715.7,266.2 715.9,261.8 716.2,291.5 716.4,284.5 716.7,306.9 716.9,312.8 717.1,292.2 717.4,275.6 717.6,248.9 717.8,297.4 718.1,333.8 718.3,331.5 718.6,338.9 718.8,328.3 719.0,325.9 719.3,351.8 719.5,363.3 719.8,353.5 720.0,404.8 720.2,435.2 720.5,407.2 720.7,454.4 721.0,446.9 721.2,449.3 721.4,453.7 721.7,424.4 721.9,404.6 722.1,376.7 722.4,390.9 722.6,438.8 722.9,428.6 723.1,417.5 723.3,454.2 723.6,461.0 723.8,452.2 724.1,447.3 724.3,399.3 724.6,383.8 724.8,370.1 725.0,383.6 725.3,377.5 725.5,418.1 725.8,388.8 726.0,368.4 726.3,321.5 726.5,367.1 726.7,346.2 727.0,323.2 727.2,308.6 727.5,315.8 727.7,294.6 728.0,322.7 728.2,299.6 728.5,275.6 728.7,263.4 728.9,267.4 729.2,264.1 729.4,246.2 729.7,236.9 729.9,221.5 730.2,203.1 730.4,202.0 730.6,179.1 730.9,153.9 731.1,156.5 731.4,199.9 731.6,199.8 731.9,200.0 732.1,205.6 732.3,238.2 732.6,284.8 732.8,287.3 733.1,262.5 733.3,266.5 733.5,301.3 733.8,266.0 734.0,275.3 734.3,307.2 734.5,309.0 734.7,317.2 735.0,299.5 735.2,317.5 735.5,333.1 735.7,348.4 735.9,375.3 736.2,362.3 736.4,380.0 736.7,372.8 736.9,383.4 737.1,369.9 737.4,409.0 737.6,414.4 737.9,409.4 738.1,375.8 738.3,385.5 738.6,322.6 738.8,353.2 739.1,380.8 739.3,380.7 739.5,394.5 739.8,422.3 740.0,403.6 740.3,418.2 740.5,423.8 740.8,419.0 741.0,387.4 741.2,382.8 741.5,376.6 741.7,398.4 742.0,393.5 742.2,421.2 742.4,421.2 742.7,403.0 742.9,365.4 743.2,361.1 743.4,359.0 743.6,321.8 743.9,309.5 744.1,299.6 744.4,335.8 744.6,309.4 744.9,287.9 745.1,295.7 745.3,299.9 745.6,262.9 745.8,292.6 746.1,264.1 746.3,251.6 746.5,222.5 746.8,242.3 747.0,272.4 747.3,250.5 747.5,242.3 747.8,262.9 748.0,298.1 748.2,300.5 748.5,289.8 748.7,271.4 749.0,286.6 749.2,302.1 749.4,283.4 749.7,299.6 749.9,285.6 750.2,316.8 750.4,328.3 750.7,354.8 750.9,386.6 751.1,384.5 751.4,404.0 751.6,404.3 751.9,424.1 752.1,398.6 752.4,406.4 752.6,446.7 752.8,439.3 753.1,399.4 753.3,404.2 753.6,439.4 753.8,423.3 754.0,406.3 754.3,426.3 754.5,411.0 754.8,361.6 755.0,336.4 755.3,366.8 755.5,367.1 755.7,409.7 756.0,395.5 756.2,375.0 756.5,388.4 756.7,394.0 756.9,436.5 757.2,447.5 757.4,422.9 757.7,413.4 757.9,371.4 758.2,407.2 758.4,399.8 758.7,407.1 758.9,414.8 759.1,397.7 759.4,356.4 759.6,374.7 759.9,360.8 760.1,337.0 760.4,309.1 760.6,363.3 760.8,338.8 761.1,329.9 761.3,293.8 761.6,323.3 761.8,317.8 762.1,335.4 762.3,316.7 762.5,290.8 762.8,304.2 763.0,264.1 763.3,243.3 763.5,249.8 763.8,271.2 764.0,278.3 764.2,266.7 764.5,264.4 764.7,266.3 765.0,247.2 765.2,231.9 765.5,230.5 765.7,212.9 765.9,194.8 766.2,197.9 766.4,175.4 766.7,191.6 766.9,193.4 767.1,201.7 767.4,191.5 767.6,214.9 767.9,256.1 768.1,263.8 768.3,219.9 768.6,251.5 768.8,280.3 769.0,283.2 769.3,297.2 769.5,296.6 769.8,326.6 770.0,322.5 770.2,288.4 770.5,289.9 770.7,338.2 770.9,357.7 771.2,372.4 771.4,346.0 771.7,359.6 771.9,392.3 772.1,392.7 772.4,404.8 772.6,411.9 772.8,412.5 773.1,412.2 773.3,415.5 773.6,392.9 773.8,392.4 774.0,417.5 774.3,410.3 774.5,418.7 774.8,416.6 775.0,396.6 775.2,417.9 775.5,394.5 775.7,364.3 775.9,376.5 776.2,366.1 776.4,377.0 776.7,366.2 776.9,332.0 777.1,358.4 777.4,359.3 777.6,361.2 777.8,355.8 778.1,345.1 778.3,391.6 778.6,339.8 778.8,336.4 779.0,314.2 779.3,320.9 779.5,344.2 779.7,321.7 780.0,301.7 780.2,277.4 780.5,288.4 780.7,272.7 780.9,280.7 781.2,257.1 781.4,244.1 781.6,244.7 781.9,217.6 782.1,230.7 782.4,204.8 782.6,203.4 782.8,221.3 783.1,258.8 783.3,257.5 783.6,283.7 783.8,275.2 784.0,297.8 784.3,275.4 784.5,278.8 784.7,291.8 785.0,290.7 785.2,304.7 785.5,331.4 785.7,329.8 785.9,376.8 786.2,369.8 786.4,375.8 786.7,354.7 786.9,366.5 787.1,398.5 787.4,377.2 787.6,371.9 787.8,370.8 788.1,353.9 788.3,403.1 788.6,407.6 788.8,457.5 789.0,408.4 789.3,408.8 789.5,414.1 789.8,389.6 790.0,358.8 790.2,380.1 790.5,405.4 790.7,419.1 791.0,450.6 791.2,465.5 791.4,465.0 791.7,458.1 791.9,462.8 792.1,460.4 792.4,427.2 792.6,413.5 792.9,403.8 793.1,447.0 793.3,414.5 793.6,406.9 793.8,414.5 794.1,390.4 794.3,366.5 794.5,338.7 794.8,383.2 795.0,354.2 795.2,373.9 795.5,391.9 795.7,362.5 796.0,381.8 796.2,337.0 796.4,353.2 796.7,332.8 796.9,341.8 797.2,340.2 797.4,344.1 797.6,353.5 797.9,321.2 798.1,283.2 798.4,269.6 798.6,304.2 798.8,280.1 799.1,277.9 799.3,284.1 799.5,275.6 799.8,251.0 800.0,220.5 800.3,247.5 800.5,230.2 800.7,209.0 801.0,194.0 801.2,193.9 801.5,189.3 801.7,194.0 801.9,194.6 802.2,221.9 802.4,219.4 802.7,254.6 802.9,272.8 803.2,262.5 803.4,281.1 803.6,308.2 803.9,288.9 804.1,292.0 804.4,306.8 804.6,305.5 804.8,329.9 805.1,326.0 805.3,345.8 805.6,354.7 805.8,343.9 806.1,378.4 806.3,364.6 806.5,346.0 806.8,333.2 807.0,345.3 807.3,377.4 807.5,380.2 807.8,394.4 808.0,386.3 808.2,398.0 808.5,415.2 808.7,378.2 809.0,395.5 809.2,420.5 809.5,419.6 809.7,433.5 809.9,434.2 810.2,436.0 810.4,412.4 810.7,392.6 810.9,365.8 811.1,370.5 811.4,365.9 811.6,395.7 811.9,389.1 812.1,406.9 812.4,364.1 812.6,366.0 812.8,340.3 813.1,314.3 813.3,278.7 813.6,288.1 813.8,285.8 814.0,285.5 814.3,261.5 814.5,252.4 814.8,302.5 815.0,281.3 815.3,229.9 815.5,218.5 815.7,205.9 816.0,168.2 816.2,178.7 816.5,165.4 816.7,183.8 816.9,193.4 817.2,208.6 817.4,207.2 817.7,238.0 817.9,260.2 818.2,207.6 818.4,240.1 818.6,273.6 818.9,296.2 819.1,281.3 819.4,294.2 819.6,299.0 819.8,298.8 820.1,303.7 820.3,326.6 820.6,351.1 820.8,379.5 821.0,366.2 821.3,365.2 821.5,380.0 821.8,428.8 822.0,385.8 822.2,378.7 822.5,417.3 822.7,371.5 823.0,330.5 823.2,376.1 823.4,414.4 823.7,438.3 823.9,431.6 824.2,443.4 824.4,408.8 824.6,424.5 824.9,398.5 825.1,374.1 825.4,395.3 825.6,380.7 825.9,376.5 826.1,381.5 826.3,394.8 826.6,411.8 826.8,396.0 827.1,404.5 827.3,424.9 827.5,449.6 827.8,469.9 828.0,475.7 828.3,458.8 828.5,416.1 828.7,469.7 829.0,425.3 829.2,409.3 829.5,414.1 829.7,428.3 829.9,376.2 830.2,336.6 830.4,372.4 830.7,358.1 830.9,366.8 831.1,414.7 831.4,381.6 831.6,391.0 831.9,361.0 832.1,410.2 832.3,366.3 832.6,342.9 832.8,321.9 833.1,304.6 833.3,321.1 833.5,312.4 833.8,286.7 834.0,269.0 834.3,254.1 834.5,249.9 834.7,249.8 835.0,214.9 835.2,195.7 835.5,195.6 835.7,196.0 835.9,221.4 836.2,218.7 836.4,216.7 836.7,225.3 836.9,244.7 837.2,266.4 837.4,263.3 837.6,263.5 837.9,256.0 838.1,255.3 838.4,301.8 838.6,257.4 838.9,287.0 839.1,277.3 839.3,288.9 839.6,269.8 839.8,297.4 840.1,297.6 840.3,322.4 840.6,350.2 840.8,316.2 841.0,299.3 841.3,353.9 841.5,393.5 841.8,373.8 842.0,323.1 842.3,306.2 842.5,351.3 842.7,401.3 843.0,382.5 843.2,349.3 843.5,398.1 843.7,358.5 844.0,369.5 844.2,393.6 844.4,428.3 844.7,416.6 844.9,417.9 845.2,356.9 845.4,377.3 845.6,362.5 845.9,344.7 846.1,313.9 846.3,304.6 846.6,316.9 846.8,366.7 847.1,381.9 847.3,376.0 847.5,372.6 847.8,327.4 848.0,284.3 848.2,314.5 848.5,300.2 848.7,274.5 849.0,267.0 849.2,241.1 849.4,255.9 849.7,219.3 849.9,202.5 850.1,194.1 850.4,179.1 850.6,171.3 850.9,164.5 851.1,193.4 851.3,187.6 851.6,199.9 851.8,195.5 852.0,214.8 852.3,227.1 852.5,226.4 852.8,230.9 853.0,254.5 853.2,276.5 853.5,287.6 853.7,309.2 854.0,307.6 854.2,276.9 854.4,296.4 854.7,281.1 854.9,284.9 855.2,308.3 855.4,305.9 855.6,309.3 855.9,300.8 856.1,309.4 856.4,294.7 856.6,339.6 856.8,372.8 857.1,370.1 857.3,399.7 857.5,404.5 857.8,413.0 858.0,427.4 858.3,384.3 858.5,404.8 858.7,397.1 859.0,412.7 859.2,398.4 859.5,440.5 859.7,455.6 859.9,442.2 860.2,448.4 860.4,453.1 860.7,453.8 860.9,463.8 861.1,441.0 861.4,412.2 861.6,466.1 861.8,461.9 862.1,462.6 862.3,449.4 862.6,445.7 862.8,459.4 863.0,466.1 863.3,465.2 863.5,443.1 863.8,433.1 864.0,429.3 864.2,399.0 864.5,391.8 864.7,381.3 865.0,410.3 865.2,391.2 865.4,426.5 865.7,361.0 865.9,392.0 866.2,407.2 866.4,377.5 866.7,342.5 866.9,363.8 867.1,353.1 867.4,385.9 867.6,376.9 867.9,361.3 868.1,348.2 868.3,348.2 868.6,325.4 868.8,323.7 869.1,312.4 869.3,285.0 869.5,285.1 869.8,289.5 870.0,275.2 870.3,250.5 870.5,235.3 870.7,206.5 871.0,215.2 871.2,228.5 871.5,240.6 871.7,239.3 871.9,243.3 872.2,267.6 872.4,267.4 872.7,285.3 872.9,254.7 873.1,269.1 873.4,258.0 873.6,237.8 873.8,298.3 874.1,285.1 874.3,316.0 874.6,336.5 874.8,339.1 875.0,320.3 875.3,267.0 875.5,317.8 875.8,332.9 876.0,356.3 876.2,354.2 876.5,386.0 876.7,387.3 876.9,375.1 877.2,420.7 877.4,394.0 877.7,336.6 877.9,372.6 878.1,392.7 878.4,403.7 878.6,400.4 878.9,406.4 879.1,405.6 879.3,425.1 879.6,408.8 879.8,376.8 880.1,408.6 880.3,410.3 880.5,413.6 880.8,350.0 881.0,393.1 881.3,367.5 881.5,341.6 881.7,333.4 882.0,364.5 882.2,349.4 882.5,343.5 882.7,340.0 882.9,336.8 883.2,340.5 883.4,331.9 883.6,308.2 883.9,299.5 884.1,256.2 884.4,254.3 884.6,220.2 884.8,229.6 885.1,222.7 885.3,208.9 885.6,194.7 885.8,213.9 886.0,198.8 886.3,186.3 886.5,170.7 886.8,173.8 887.0,193.2 887.2,216.0 887.5,219.5 887.7,248.0 888.0,260.6 888.2,266.2 888.4,260.6 888.7,244.2 888.9,265.6 889.2,266.2 889.4,256.8 889.6,272.6 889.9,294.6 890.1,306.4 890.3,295.9 890.6,274.5 890.8,255.3 891.1,274.1 891.3,295.3 891.5,285.2 891.8,329.2 892.0,372.5 892.3,335.9 892.5,355.9 892.7,343.3 893.0,354.2 893.2,357.0 893.5,359.2 893.7,384.1 893.9,402.0 894.2,387.3 894.4,405.1 894.7,388.2 894.9,392.6 895.1,423.4 895.4,423.3 895.6,391.5 895.8,418.4 896.1,398.9 896.3,414.5 896.6,448.8 896.8,441.8 897.0,469.3 897.3,465.5 897.5,440.9 897.8,437.5 898.0,446.5 898.3,433.4 898.5,431.7 898.7,453.3 899.0,454.7 899.2,433.7 899.5,430.1 899.7,463.5 899.9,421.9 900.2,429.2 900.4,398.0 900.7,356.1 900.9,354.7 901.2,371.8 901.4,367.3 901.6,349.3 901.9,342.8 902.1,332.2 902.4,316.4 902.6,319.1 902.8,278.9 903.1,313.2 903.3,327.4 903.6,321.7 903.8,330.6 904.1,305.5 904.3,299.3 904.5,260.6 904.8,278.6 905.0,265.7 905.3,274.8 905.5,274.7 905.8,269.9 906.0,235.3 906.2,232.1 906.5,240.0 906.7,233.6 907.0,205.6 907.2,184.8 907.4,183.8 907.7,215.3 907.9,249.2 908.2,223.2 908.4,247.1 908.6,266.7 908.9,271.7 909.1,299.2 909.4,293.6 909.6,291.3 909.8,258.3 910.1,240.7 910.3,289.8 910.6,288.2 910.8,309.0 911.0,331.5 911.3,331.6 911.5,369.6 911.8,359.5 912.0,391.4 912.2,384.5 912.5,363.3 912.7,371.6 913.0,416.7 913.2,415.4 913.4,409.9 913.7,399.4 913.9,383.5 914.2,402.7 914.4,382.4 914.6,384.9 914.9,357.1 915.1,361.8 915.3,366.7 915.6,408.9 915.8,397.7 916.1,358.9 916.3,358.1 916.5,337.7 916.8,304.2 917.0,322.1 917.2,321.6 917.5,294.6 917.7,279.4 918.0,287.8 918.2,282.9 918.4,290.1 918.7,285.1 918.9,249.5 919.1,213.4 919.4,232.5 919.6,225.5 919.9,202.3 920.1,197.6 920.3,214.1 920.6,206.9 920.8,224.9 921.0,186.3 921.3,189.6 921.5,210.0 921.8,259.7 922.0,241.5 922.3,226.8 922.5,247.3 922.7,228.3 923.0,223.1 923.2,237.6 923.5,259.4 923.7,255.9 923.9,300.8 924.2,308.9 924.4,311.7 924.7,316.5 924.9,320.2 925.1,287.8 925.4,341.0 925.6,322.8 925.9,353.7 926.1,354.1 926.3,351.5 926.6,369.2 926.8,411.5 927.1,402.6 927.3,386.3 927.6,389.2 927.8,341.5 928.0,362.5 928.3,364.4 928.5,376.9 928.8,367.0 929.0,414.2 929.2,417.9 929.5,425.0 929.7,439.5 930.0,440.1 930.2,430.9 930.4,450.5 930.7,449.5 930.9,454.6 931.2,453.0 931.4,454.4 931.6,440.6 931.9,447.5 932.1,440.3 932.4,394.4 932.6,372.1 932.8,361.6 933.1,386.2 933.3,386.7 933.6,396.1 933.8,383.2 934.0,413.8 934.3,391.1 934.5,378.5 934.7,388.8 935.0,376.0 935.2,348.9 935.5,334.9 935.7,342.5 935.9,326.1 936.2,298.9 936.4,314.8 936.7,277.7 936.9,240.8 937.1,233.4 937.4,205.4 937.6,218.4 937.8,232.4 938.1,234.7 938.3,214.2 938.6,196.0 938.8,202.6 939.0,160.9 939.3,162.7 939.5,154.6 939.8,159.7 940.0,164.8 940.2,162.7 940.5,193.1 940.7,219.5 941.0,242.9 941.2,245.7 941.4,253.5 941.7,285.5 941.9,259.3 942.1,286.3 942.4,270.1 942.6,250.9 942.9,279.6 943.1,298.5 943.3,297.1 943.6,279.4 943.8,300.2 944.1,308.0 944.3,349.6 944.5,338.5 944.8,339.7 945.0,319.6 945.3,337.7 945.5,370.0 945.7,344.4 946.0,347.5 946.2,310.4 946.4,334.9 946.7,386.9 946.9,352.8 947.2,353.8 947.4,335.4 947.6,346.0 947.9,335.4 948.1,342.5 948.4,334.4 948.6,366.3 948.8,396.1 949.1,404.9 949.3,379.9 949.5,404.7 949.8,408.4 950.0,400.2 950.3,396.8 950.5,405.3 950.7,394.1 951.0,352.1 951.2,310.7 951.4,316.5 951.7,354.3 951.9,384.8 952.2,365.6 952.4,373.2 952.6,372.6 952.9,353.2 953.1,314.1 953.3,313.6 953.6,285.1 953.8,276.7 954.1,279.3 954.3,281.6 954.5,268.4 954.8,276.8 955.0,278.3 955.3,268.7 955.5,244.0 955.7,245.9 956.0,224.4 956.2,209.4 956.4,211.6 956.7,221.0 956.9,222.2 957.2,235.7 957.4,215.6 957.7,237.5 957.9,249.0 958.1,241.1 958.4,260.8 958.6,282.7 958.9,285.0 959.1,287.6 959.3,333.7 959.6,322.1 959.8,320.6 960.1,342.7 960.3,367.5 960.6,341.6 960.8,329.5 961.0,367.4 961.3,386.8 961.5,391.4 961.8,374.1 962.0,387.7 962.3,354.9 962.5,358.5 962.7,409.4 963.0,379.9 963.2,399.1 963.5,413.9 963.7,419.0 963.9,399.0 964.2,397.2 964.4,421.6 964.7,407.6 964.9,437.4 965.2,429.6 965.4,424.3 965.6,435.8 965.9,426.0 966.1,428.2 966.4,440.1 966.6,427.1 966.9,442.4 967.1,434.8 967.3,432.1 967.6,431.3 967.8,421.9 968.1,395.6 968.3,393.1 968.5,440.4 968.8,377.7 969.0,348.9 969.3,387.3 969.5,396.1 969.7,371.1 970.0,388.2 970.2,396.6 970.5,366.6 970.7,357.5 970.9,338.8 971.2,348.8 971.4,329.5 971.7,310.1 971.9,292.0 972.2,300.0 972.4,319.3 972.6,289.0 972.9,258.2 973.1,264.1 973.4,270.3 973.6,248.0 973.8,260.6 974.1,222.9 974.3,233.1 974.6,226.6 974.8,196.3 975.0,200.5 975.3,210.4 975.5,238.5 975.8,233.3 976.0,247.6 976.2,249.8 976.5,241.6 976.7,258.0 976.9,298.9 977.2,304.5 977.4,282.4 977.7,320.1 977.9,324.1 978.1,280.2 978.4,291.5 978.6,268.9 978.8,290.7 979.1,371.5 979.3,396.3 979.6,377.9 979.8,362.7 980.0,345.7 980.3,352.7 980.5,374.3 980.7,419.5 981.0,415.1 981.2,443.5 981.5,436.0 981.7,391.8 981.9,428.6 982.2,443.1 982.4,442.0 982.7,438.7 982.9,444.3 983.1,443.8 983.4,435.9 983.6,439.8 983.9,401.8 984.1,385.4 984.3,390.5 984.6,344.8 984.8,408.5 985.1,429.9 985.3,423.8 985.6,405.8 985.8,393.0 986.1,362.9 986.3,344.0 986.5,307.4 986.8,337.8 987.0,328.5 987.3,293.8 987.5,290.2 987.8,307.2 988.0,282.7 988.2,285.7 988.5,252.6 988.7,250.5 989.0,250.8 989.2,232.3 989.5,236.9 989.7,228.3 989.9,227.0 990.2,238.2 990.4,256.8 990.7,261.6 990.9,250.4 991.1,272.1 991.4,269.8 991.6,292.4 991.9,298.7 992.1,326.3 992.3,298.6 992.6,296.0 992.8,288.0 993.0,281.3 993.3,294.7 993.5,283.2 993.8,298.0 994.0,321.7 994.2,329.5 994.5,320.8 994.7,324.8 995.0,345.9 995.2,373.9 995.4,360.5 995.7,363.8 995.9,362.3 996.1,352.7 996.4,363.4 996.6,368.7 996.9,399.1 997.1,381.0 997.3,384.4 997.6,390.5 997.8,383.5 998.1,379.0 998.3,386.5 998.5,372.6 998.8,383.8 999.0,377.3 999.3,386.0 999.5,393.7 999.7,414.1 1000.0,442.9 1000.2,453.3 1000.4,447.2 1000.7,451.6 1000.9,457.6 1001.2,424.5 1001.4,451.9 1001.6,457.0 1001.9,458.4 1002.1,420.7 1002.4,425.9 1002.6,383.5 1002.8,357.4 1003.1,377.6 1003.3,398.8 1003.5,365.7 1003.8,377.9 1004.0,394.9 1004.3,382.6 1004.5,357.4 1004.7,362.1 1005.0,383.6 1005.2,412.9 1005.5,409.2 1005.7,339.1 1005.9,355.2 1006.2,364.7 1006.4,353.5 1006.6,340.6 1006.9,348.5 1007.1,316.8 1007.4,291.4 1007.6,289.3 1007.8,293.8 1008.1,272.1 1008.3,255.3 1008.5,217.3 1008.8,234.5 1009.0,211.1 1009.3,212.3 1009.5,184.4 1009.7,207.2 1010.0,208.5 1010.2,183.8 1010.5,218.2 1010.7,233.2 1010.9,256.2 1011.2,263.7 1011.4,286.7 1011.7,279.0 1011.9,272.4 1012.1,264.6 1012.4,270.5 1012.6,279.1 1012.9,275.7 1013.1,280.0 1013.3,267.4 1013.6,276.8 1013.8,322.4 1014.1,313.2 1014.3,302.6 1014.5,302.7 1014.8,299.7 1015.0,312.0 1015.3,306.3 1015.5,342.8 1015.7,329.5 1016.0,340.2 1016.2,377.8 1016.5,369.0 1016.7,396.6 1017.0,387.0 1017.2,401.5 1017.4,416.1 1017.7,409.3 1017.9,423.1 1018.2,414.5 1018.4,401.0 1018.6,344.3 1018.9,343.2 1019.1,347.4 1019.4,354.9 1019.6,353.4 1019.8,357.1 1020.1,380.6 1020.3,382.0 1020.6,392.3 1020.8,341.6 1021.1,315.7 1021.3,292.9 1021.5,322.4 1021.8,317.2 1022.0,290.8 1022.3,266.7 1022.5,263.2 1022.7,294.2 1023.0,286.0 1023.2,254.9 1023.5,248.0 1023.7,222.9 1023.9,208.8 1024.2,216.4 1024.4,246.3 1024.7,236.0 1024.9,234.3 1025.2,218.6 1025.4,212.9 1025.6,236.4 1025.9,246.8 1026.1,291.6 1026.4,274.2 1026.6,264.6 1026.9,299.5 1027.1,270.4 1027.3,301.4 1027.6,292.3 1027.8,258.5 1028.1,259.4 1028.3,304.6 1028.6,320.6 1028.8,333.1 1029.0,319.0 1029.3,338.1 1029.5,349.8 1029.8,351.4 1030.0,382.0 1030.2,384.8 1030.5,352.6 1030.7,351.0 1031.0,343.1 1031.2,357.0 1031.5,390.1 1031.7,404.5 1031.9,391.1 1032.2,382.2 1032.4,347.7 1032.7,325.1 1032.9,398.5 1033.2,397.5 1033.4,395.2 1033.6,428.0 1033.9,420.3 1034.1,425.9 1034.4,433.1 1034.6,408.7 1034.9,433.4 1035.1,400.3 1035.3,348.1 1035.6,377.1 1035.8,410.5 1036.1,405.9 1036.3,382.4 1036.6,420.2 1036.8,403.5 1037.0,362.0 1037.3,367.4 1037.5,395.8 1037.8,374.3 1038.0,375.3 1038.2,357.8 1038.5,354.3 1038.7,354.7 1039.0,295.5 1039.2,343.9 1039.5,357.9 1039.7,354.5 1039.9,351.0 1040.2,329.9 1040.4,359.7 1040.7,332.1 1040.9,326.1 1041.2,276.2 1041.4,315.9 1041.6,304.6 1041.9,283.5 1042.1,254.9 1042.4,240.4 1042.6,261.9 1042.9,205.0 1043.1,227.8 1043.3,205.2 1043.6,210.8 1043.8,204.5 1044.1,209.9 1044.3,236.2 1044.6,235.4 1044.8,205.1 1045.0,239.9 1045.3,268.5 1045.5,264.0 1045.8,258.4 1046.0,279.5 1046.2,287.9 1046.5,294.7 1046.7,288.8 1047.0,297.7 1047.2,318.5 1047.4,315.0 1047.7,292.0 1047.9,293.2 1048.2,313.9 1048.4,328.9 1048.6,323.8 1048.9,347.7 1049.1,333.5 1049.4,361.3 1049.6,402.8 1049.8,396.1 1050.1,382.5 1050.3,392.4 1050.6,341.2 1050.8,387.9 1051.0,359.0 1051.3,346.4 1051.5,361.2 1051.8,357.6 1052.0,375.6 1052.3,377.7 1052.5,385.1 1052.7,418.4 1053.0,414.4 1053.2,406.3 1053.5,422.5 1053.7,410.3 1053.9,415.5 1054.2,419.0 1054.4,413.0 1054.7,405.6 1054.9,406.0 1055.2,377.1 1055.4,386.5 1055.6,405.4 1055.9,365.8 1056.1,383.5 1056.4,350.5 1056.6,374.4 1056.9,367.6 1057.1,365.4 1057.3,337.5 1057.6,352.8 1057.8,337.7 1058.1,316.0 1058.3,332.6 1058.6,300.3 1058.8,288.1 1059.1,282.7 1059.3,278.2 1059.5,282.1 1059.8,288.4 1060.0,252.5 1060.3,263.8 1060.5,232.8 1060.8,237.1 1061.0,236.8 1061.2,251.4 1061.5,250.7 1061.7,263.3 1062.0,291.3 1062.2,317.7 1062.4,331.4 1062.7,312.5 1062.9,297.1 1063.2,326.5 1063.4,329.6 1063.6,352.7 1063.9,368.3 1064.1,364.3 1064.4,354.6 1064.6,336.1 1064.8,325.2 1065.1,359.2 1065.3,404.1 1065.6,360.7 1065.8,347.2 1066.0,365.6 1066.3,393.8 1066.5,356.9 1066.8,385.4 1067.0,431.3 1067.2,384.1 1067.5,390.4 1067.7,422.1 1068.0,437.5 1068.2,438.5 1068.4,424.2 1068.7,422.4 1068.9,419.6 1069.2,392.5 1069.4,406.4 1069.6,423.8 1069.9,389.5 1070.1,335.6 1070.3,336.9 1070.6,349.8 1070.8,388.0 1071.1,376.9 1071.3,379.2 1071.5,435.9 1071.8,397.2 1072.0,362.7 1072.2,369.2 1072.5,379.2 1072.7,387.2 1073.0,367.4 1073.2,328.8 1073.4,295.0 1073.7,294.0 1073.9,303.5 1074.1,283.6 1074.4,274.8 1074.6,287.5 1074.9,295.4 1075.1,294.5 1075.3,329.7 1075.6,329.4 1075.8,287.8 1076.0,302.7 1076.3,274.6 1076.5,250.5 1076.8,254.2 1077.0,298.8 1077.2,281.6 1077.5,250.3 1077.7,235.4 1077.9,241.3 1078.2,231.0 1078.4,214.6 1078.7,204.2 1078.9,204.4 1079.1,211.1 1079.4,203.0 1079.6,222.4 1079.9,219.3 1080.1,260.9 1080.3,271.9 1080.6,247.3 1080.8,297.3 1081.0,297.4 1081.3,277.3 1081.5,289.9 1081.8,293.6 1082.0,316.4 1082.2,329.3 1082.5,354.9 1082.7,319.1 1083.0,337.8 1083.2,325.6 1083.4,296.3 1083.7,304.0 1083.9,312.2 1084.2,352.2 1084.4,364.0 1084.6,380.2 1084.9,380.0 1085.1,389.0 1085.4,401.2 1085.6,385.2 1085.8,402.7 1086.1,416.4 1086.3,420.7 1086.6,434.7 1086.8,431.3 1087.0,430.1 1087.3,430.4 1087.5,409.6 1087.8,432.2 1088.0,424.9 1088.2,408.4 1088.5,344.6 1088.7,342.5 1089.0,361.8 1089.2,343.7 1089.5,373.4 1089.7,407.4 1089.9,383.3 1090.2,361.7 1090.4,367.1 1090.7,371.4 1090.9,304.0 1091.1,292.7 1091.4,324.0 1091.6,306.7 1091.9,269.6 1092.1,287.7 1092.3,258.5 1092.6,276.1 1092.8,285.5 1093.1,261.1 1093.3,240.0 1093.5,239.0 1093.8,239.6 1094.0,237.6 1094.3,232.1 1094.5,228.7 1094.8,229.0 1095.0,243.6 1095.2,239.7 1095.5,244.2 1095.7,251.1 1096.0,271.0 1096.2,297.7 1096.5,305.9 1096.7,297.5 1096.9,335.5 1097.2,364.7 1097.4,348.2 1097.7,317.1 1097.9,330.4 1098.1,358.7 1098.4,327.5 1098.6,307.2 1098.9,293.6 1099.1,315.2 1099.4,317.1 1099.6,328.4 1099.8,332.1 1100.1,311.4 1100.3,345.5 1100.6,382.4 1100.8,329.8 1101.1,349.0 1101.3,356.4 1101.5,360.3 1101.8,383.1 1102.0,362.0 1102.3,398.2 1102.5,387.3 1102.8,363.3 1103.0,390.9 1103.2,397.6 1103.5,436.7 1103.7,425.5 1104.0,414.5 1104.2,460.7 1104.4,449.7 1104.7,455.7 1104.9,463.2 1105.2,463.3 1105.4,468.7 1105.7,458.0 1105.9,460.1 1106.1,456.3 1106.4,454.8 1106.6,441.0 1106.9,417.1 1107.1,366.0 1107.4,381.3 1107.6,377.9 1107.8,426.1 1108.1,404.3 1108.3,411.8 1108.6,417.1 1108.8,378.5 1109.1,354.4 1109.3,386.9 1109.6,396.7 1109.8,336.0 1110.0,342.4 1110.3,371.8 1110.5,335.9 1110.8,329.3 1111.0,319.9 1111.3,299.0 1111.5,280.5 1111.7,235.9 1112.0,227.5 1112.2,247.8 1112.5,262.5 1112.7,287.8 1113.0,302.0 1113.2,294.2 1113.4,262.6 1113.7,235.6 1113.9,222.7 1114.2,228.8 1114.4,205.4 1114.7,191.5 1114.9,213.5 1115.1,207.4 1115.4,214.4 1115.6,227.6 1115.8,239.4 1116.1,244.1 1116.3,282.8 1116.6,270.3 1116.8,295.2 1117.0,296.7 1117.3,316.4 1117.5,286.3 1117.8,341.5 1118.0,372.1 1118.2,351.7 1118.5,362.6 1118.7,360.3 1118.9,381.5 1119.2,375.9 1119.4,345.4 1119.7,346.3 1119.9,352.5 1120.1,358.4 1120.4,329.5 1120.6,346.6 1120.9,386.4 1121.1,393.9 1121.3,369.6 1121.6,417.0 1121.8,410.3 1122.0,414.6 1122.3,415.9 1122.5,420.9 1122.8,435.3 1123.0,443.7 1123.2,443.5 1123.5,426.7 1123.7,413.6 1124.0,400.9 1124.2,401.8 1124.4,371.3 1124.7,349.8 1124.9,335.7 1125.2,368.2 1125.4,396.8 1125.6,378.5 1125.9,373.8 1126.1,367.9 1126.4,333.4 1126.6,338.4 1126.8,361.3 1127.1,354.4 1127.3,317.3 1127.6,282.6 1127.8,261.0 1128.0,279.8 1128.3,246.7 1128.5,231.2 1128.8,239.6 1129.0,232.1 1129.2,264.7 1129.5,276.7 1129.7,275.2 1129.9,295.6 1130.2,280.3 1130.4,276.0 1130.7,272.7 1130.9,304.7 1131.1,303.4 1131.4,282.5 1131.6,282.7 1131.8,312.3 1132.1,328.7 1132.3,323.5 1132.6,320.4 1132.8,348.9 1133.0,343.3 1133.3,333.5 1133.5,329.5 1133.7,305.7 1134.0,347.6 1134.2,353.2 1134.5,379.5 1134.7,436.0 1134.9,404.8 1135.2,409.1 1135.4,391.5 1135.6,382.2 1135.9,384.3 1136.1,391.8 1136.4,411.1 1136.6,438.3 1136.8,443.3 1137.1,427.0 1137.3,438.4 1137.5,429.9 1137.8,439.6 1138.0,444.9 1138.3,435.1 1138.5,439.9 1138.7,430.1 1139.0,432.6 1139.2,433.7 1139.4,428.2 1139.7,445.6 1139.9,441.6 1140.2,441.0 1140.4,420.0 1140.6,431.3 1140.9,426.4 1141.1,419.9 1141.3,423.0 1141.6,416.0 1141.8,409.2 1142.1,423.6 1142.3,411.2 1142.5,444.4 1142.8,377.9 1143.0,416.1 1143.2,379.8 1143.5,356.2 1143.7,339.8 1144.0,345.3 1144.2,362.2 1144.4,363.1 1144.7,367.1 1144.9,340.6 1145.1,323.1 1145.4,304.9 1145.6,313.2 1145.9,314.8 1146.1,339.8 1146.3,305.4 1146.6,283.0 1146.8,274.4 1147.0,262.8 1147.3,254.7 1147.5,234.8 1147.8,212.6 1148.0,209.2 1148.2,212.7 1148.5,188.4 1148.7,188.3 1149.0,199.2 1149.2,189.6 1149.4,178.2 1149.7,184.6 1149.9,182.2 1150.2,203.1 1150.4,209.6 1150.6,221.8 1150.9,243.3 1151.1,243.9 1151.4,277.6 1151.6,291.8 1151.8,297.4 1152.1,310.5 1152.3,266.6 1152.6,278.9 1152.8,318.7 1153.0,301.6 1153.3,336.2 1153.5,339.4 1153.8,342.9 1154.0,343.4 1154.3,329.5 1154.5,316.5 1154.7,308.5 1155.0,350.2 1155.2,366.6 1155.5,385.8 1155.7,367.0 1155.9,389.0 1156.2,428.1 1156.4,407.8 1156.7,404.2 1156.9,408.9 1157.2,422.8 1157.4,423.4 1157.6,432.8 1157.9,427.9 1158.1,413.2 1158.4,428.2 1158.6,380.6 1158.8,366.4 1159.1,354.4 1159.3,346.9 1159.6,381.5 1159.8,387.0 1160.1,381.4 1160.3,374.8 1160.5,359.7 1160.8,352.3 1161.0,358.4 1161.3,335.1 1161.5,327.1 1161.8,309.9 1162.0,310.2 1162.2,309.6 1162.5,296.8 1162.7,297.2 1163.0,269.1 1163.2,253.8 1163.5,246.2 1163.7,227.7 1163.9,238.1 1164.2,227.6 1164.4,244.3 1164.7,266.7 1164.9,257.3 1165.2,258.9 1165.4,269.6 1165.6,278.3 1165.9,270.0 1166.1,257.6 1166.4,282.2 1166.6,307.6 1166.9,316.1 1167.1,338.2 1167.3,315.2 1167.6,336.3 1167.8,341.4 1168.1,332.0 1168.3,314.2 1168.6,326.6 1168.8,339.1 1169.0,361.8 1169.3,322.6 1169.5,369.7 1169.8,383.5 1170.0,370.2 1170.3,340.5 1170.5,344.5 1170.7,381.1 1171.0,401.7 1171.2,407.8 1171.5,365.0 1171.7,369.6 1172.0,392.8 1172.2,403.2 1172.4,399.8 1172.7,419.4 1172.9,441.1 1173.2,433.9 1173.4,443.0 1173.7,428.3 1173.9,416.2 1174.1,415.5 1174.4,442.6 1174.6,402.1 1174.9,415.3 1175.1,397.8 1175.3,403.7 1175.6,390.5 1175.8,410.0 1176.1,410.9 1176.3,427.1 1176.6,440.1 1176.8,382.2 1177.0,373.2 1177.3,375.3 1177.5,379.0 1177.8,370.4 1178.0,341.0 1178.2,382.5 1178.5,336.2 1178.7,353.8 1179.0,340.0 1179.2,330.9 1179.4,347.6 1179.7,315.6 1179.9,321.3 1180.2,314.3 1180.4,288.3 1180.6,293.4 1180.9,291.6 1181.1,288.7 1181.4,287.5 1181.6,248.8 1181.9,223.3 1182.1,222.1 1182.3,201.5 1182.6,237.0 1182.8,216.7 1183.1,209.4 1183.3,201.5 1183.5,205.8 1183.8,218.4 1184.0,225.7 1184.3,248.8 1184.5,244.6 1184.7,278.2 1185.0,268.9 1185.2,235.9 1185.4,252.8 1185.7,256.9 1185.9,241.0 1186.2,280.3 1186.4,279.2 1186.6,256.3 1186.9,276.2 1187.1,318.2 1187.4,309.2 1187.6,345.9 1187.8,349.6 1188.1,378.9 1188.3,367.0 1188.6,374.8 1188.8,284.8 1189.0,273.8 1189.3,281.5 1189.5,314.3 1189.7,365.4 1190.0,376.8 1190.2,376.0 1190.5,317.3 1190.7,309.0 1190.9,331.3 1191.2,357.0 1191.4,362.8 1191.7,348.2 1191.9,325.8 1192.1,375.8 1192.4,363.6 1192.6,369.3 1192.8,380.7 1193.1,397.0 1193.3,403.0 1193.6,428.3 1193.8,424.2 1194.0,397.2 1194.3,348.1 1194.5,383.0 1194.7,420.6 1195.0,390.2 1195.2,389.1 1195.5,380.8 1195.7,372.9 1195.9,356.6 1196.2,352.8 1196.4,351.1 1196.6,350.3 1196.9,350.2 1197.1,314.9 1197.3,335.2 1197.6,321.2 1197.8,310.0 1198.0,295.9 1198.3,266.4 1198.5,269.7 1198.8,257.4 1199.0,255.4 1199.2,253.2 1199.5,244.7 1199.7,251.0 1199.9,244.8 1200.2,245.3 1200.4,262.2 1200.7,298.2 1200.9,312.3 1201.2,312.7 1201.4,325.3 1201.6,350.4 1201.9,321.9 1202.1,326.4 1202.4,308.8 1202.6,314.4 1202.8,326.7 1203.1,351.7 1203.3,356.9 1203.6,370.5 1203.8,358.1 1204.1,360.0 1204.3,360.3 1204.5,369.6 1204.8,392.6 1205.0,403.8 1205.3,384.4 1205.5,385.0 1205.7,382.5 1206.0,401.5 1206.2,416.7 1206.5,432.7 1206.7,408.1 1206.9,415.3 1207.2,402.0 1207.4,388.1 1207.7,409.2 1207.9,418.4 1208.2,434.6 1208.4,452.2 1208.6,440.2 1208.9,453.2 1209.1,452.0 1209.4,449.5 1209.6,453.9 1209.8,443.2 1210.1,420.6 1210.3,445.0 1210.6,430.2 1210.8,394.7 1211.0,414.2 1211.3,380.3 1211.5,409.3 1211.7,400.9 1212.0,398.8 1212.2,446.3 1212.5,420.8 1212.7,373.4 1212.9,335.9 1213.2,354.2 1213.4,346.3 1213.7,312.5 1213.9,314.3 1214.1,321.4 1214.4,291.0 1214.6,301.2 1214.8,307.1 1215.1,295.4 1215.3,322.2 1215.6,285.2 1215.8,262.4 1216.0,272.3 1216.3,250.8 1216.5,218.0 1216.7,192.6 1217.0,197.7 1217.2,182.1 1217.5,172.7 1217.7,163.4 1217.9,156.2 1218.2,192.2 1218.4,205.6 1218.7,170.8 1218.9,192.0 1219.1,197.5 1219.4,199.0 1219.6,228.4 1219.8,260.9 1220.1,259.6 1220.3,222.9 1220.6,242.2 1220.8,259.3 1221.0,261.2 1221.3,301.4 1221.5,305.0 1221.8,316.1 1222.0,317.3 1222.2,337.0 1222.5,324.7 1222.7,301.5 1223.0,321.9 1223.2,315.9 1223.4,291.5 1223.7,277.5 1223.9,306.5 1224.1,331.0 1224.4,384.3 1224.6,362.9 1224.9,350.6 1225.1,359.2 1225.3,386.3 1225.6,349.4 1225.8,366.8 1226.1,409.4 1226.3,415.4 1226.5,408.4 1226.8,408.6 1227.0,411.7 1227.3,382.7 1227.5,366.7 1227.7,352.6 1228.0,399.2 1228.2,365.6 1228.5,353.7 1228.7,373.7 1228.9,364.6 1229.2,381.7 1229.4,367.9 1229.7,355.6 1229.9,342.8 1230.2,303.9 1230.4,332.1 1230.6,330.8 1230.9,325.6 1231.1,320.3 1231.4,290.9 1231.6,291.9 1231.8,267.5 1232.1,262.0 1232.3,245.5 1232.6,247.9 1232.8,265.9 1233.1,261.9 1233.3,231.8 1233.5,227.0 1233.8,232.7 1234.0,220.3 1234.3,226.0 1234.5,203.7 1234.7,207.9 1235.0,220.6 1235.2,233.6 1235.5,243.3 1235.7,236.7 1235.9,267.4 1236.2,287.3 1236.4,286.9 1236.6,286.9 1236.9,299.7 1237.1,268.7 1237.4,293.0 1237.6,297.4 1237.8,324.2 1238.1,290.2 1238.3,293.5 1238.5,315.9 1238.8,335.3 1239.0,331.3 1239.3,363.3 1239.5,349.7 1239.7,360.5 1240.0,360.2 1240.2,347.4 1240.4,334.2 1240.7,332.4 1240.9,334.7 1241.2,361.4 1241.4,351.6 1241.6,346.8 1241.9,384.4 1242.1,393.0 1242.4,404.3 1242.6,397.0 1242.8,427.8 1243.1,428.9 1243.3,424.5 1243.5,423.2 1243.8,418.3 1244.0,427.9 1244.3,432.1 1244.5,430.6 1244.7,428.9 1245.0,414.1 1245.2,411.0 1245.5,405.3 1245.7,424.7 1245.9,410.8 1246.2,389.3 1246.4,352.5 1246.7,328.7 1246.9,357.4 1247.1,356.6 1247.4,372.8 1247.6,372.5 1247.9,378.1 1248.1,357.1 1248.4,389.8 1248.6,371.2 1248.8,347.3 1249.1,333.9 1249.3,265.8 1249.6,257.8 1249.8,289.8 1250.0,305.5 1250.3,271.9 1250.5,225.8 1250.8,218.1 1251.0,239.1 1251.2,227.2 1251.5,239.1 1251.7,216.1 1252.0,210.4 1252.2,200.2 1252.4,221.4 1252.7,215.4 1252.9,212.0 1253.2,212.4 1253.4,261.3 1253.6,296.4 1253.9,272.9 1254.1,237.4 1254.4,253.1 1254.6,273.1 1254.8,239.2 1255.1,248.5 1255.3,289.8 1255.5,304.0 1255.8,277.2 1256.0,307.2 1256.3,337.3 1256.5,368.4 1256.7,372.0 1257.0,382.7 1257.2,386.6 1257.5,359.4 1257.7,415.1 1257.9,402.3 1258.2,398.9 1258.4,387.2 1258.6,402.8 1258.9,413.3 1259.1,413.7 1259.4,413.3 1259.6,413.2 1259.8,394.8 1260.1,399.7 1260.3,411.9 1260.5,416.1 1260.8,402.1 1261.0,401.3 1261.3,410.8 1261.5,410.7 1261.7,394.3 1262.0,374.6 1262.2,349.2 1262.5,347.5 1262.7,392.3 1262.9,375.1 1263.2,348.5 1263.4,361.6 1263.7,416.0 1263.9,371.0 1264.1,327.7 1264.4,297.6 1264.6,264.4 1264.9,289.1 1265.1,299.3 1265.3,289.0 1265.6,295.3 1265.8,297.8 1266.1,265.3 1266.3,271.0 1266.5,273.0 1266.8,236.8 1267.0,249.4 1267.3,244.5 1267.5,200.0 1267.7,228.4 1268.0,196.9 1268.2,222.5 1268.5,216.8 1268.7,201.4 1269.0,231.3 1269.2,230.6 1269.4,242.9 1269.7,280.5 1269.9,235.8 1270.2,222.5 1270.4,215.8 1270.6,244.1 1270.9,269.5 1271.1,291.5 1271.4,287.1 1271.6,327.8 1271.9,325.4 1272.1,345.4 1272.3,381.0 1272.6,390.8 1272.8,380.0 1273.1,367.7 1273.3,376.8 1273.5,395.9 1273.8,367.8 1274.0,350.5 1274.3,363.8 1274.5,409.1 1274.7,421.1 1275.0,413.5 1275.2,388.5 1275.5,372.6 1275.7,407.4 1276.0,395.7 1276.2,432.6 1276.4,408.7 1276.7,433.5 1276.9,448.3 1277.2,447.8 1277.4,449.0 1277.6,422.8 1277.9,443.3 1278.1,452.0 1278.4,432.6 1278.6,392.1 1278.8,389.1 1279.1,388.5 1279.3,409.9 1279.6,383.0 1279.8,395.3 1280.0,366.8 1280.3,385.1 1280.5,372.3 1280.7,384.7 1281.0,438.6 1281.2,436.1 1281.5,413.6 1281.7,404.1 1281.9,390.7 1282.2,379.8 1282.4,374.9 1282.7,355.0 1282.9,349.0 1283.1,367.5 1283.4,371.1 1283.6,377.5 1283.8,348.3 1284.1,325.2 1284.3,362.9 1284.6,307.3 1284.8,312.0 1285.0,309.4 1285.3,303.6 1285.5,268.8 1285.8,260.1 1286.0,225.9 1286.2,220.9 1286.5,203.4 1286.7,237.2 1286.9,228.4 1287.2,213.5 1287.4,233.4 1287.7,218.7 1287.9,191.3 1288.1,190.4 1288.4,192.1 1288.6,207.3 1288.8,221.5 1289.1,216.6 1289.3,235.1 1289.6,220.3 1289.8,224.5 1290.0,242.0 1290.3,278.6 1290.5,316.4 1290.8,314.0 1291.0,343.6 1291.2,339.5 1291.5,335.9 1291.7,367.9 1291.9,369.3 1292.2,352.1 1292.4,357.8 1292.7,334.8 1292.9,372.9 1293.1,369.6 1293.4,334.7 1293.6,388.1 1293.9,400.7 1294.1,383.7 1294.3,393.2 1294.6,408.8 1294.8,397.1 1295.0,409.3 1295.3,423.0 1295.5,420.7 1295.8,430.3 1296.0,404.4 1296.2,425.0 1296.5,430.8 1296.7,418.0 1297.0,419.4 1297.2,413.8 1297.4,414.4 1297.7,402.2 1297.9,410.8 1298.2,428.7 1298.4,396.9 1298.7,412.7 1298.9,384.1 1299.1,346.0 1299.4,356.1 1299.6,317.5 1299.9,310.8 1300.1,330.1 1300.4,315.1 1300.6,311.0 1300.9,297.0 1301.1,297.3 1301.3,267.6 1301.6,271.4 1301.8,281.0 1302.1,264.4 1302.3,276.1 1302.6,272.5 1302.8,252.1 1303.0,223.8 1303.3,213.0 1303.5,198.5 1303.8,207.3 1304.0,231.5 1304.3,217.3 1304.5,244.4 1304.7,236.3 1305.0,239.5 1305.2,260.3 1305.5,275.3 1305.7,303.0 1305.9,308.2 1306.2,313.8 1306.4,316.9 1306.7,326.2 1306.9,319.1 1307.1,308.7 1307.4,304.7 1307.6,312.7 1307.9,300.6 1308.1,322.6 1308.3,318.8 1308.6,365.0 1308.8,336.7 1309.1,377.4 1309.3,389.2 1309.5,433.7 1309.8,397.4 1310.0,401.3 1310.3,380.3 1310.5,375.6 1310.7,392.5 1311.0,421.8 1311.2,446.9 1311.5,428.7 1311.7,406.1 1311.9,409.9 1312.2,436.8 1312.4,439.4 1312.7,447.5 1312.9,443.6 1313.2,449.4 1313.4,440.0 1313.6,445.6 1313.9,430.3 1314.1,445.0 1314.3,404.0 1314.6,406.2 1314.8,412.6 1315.1,360.4 1315.3,382.4 1315.5,369.9 1315.8,410.5 1316.0,401.9 1316.2,381.7 1316.5,374.5 1316.7,339.4 1317.0,328.6 1317.2,324.6 1317.4,281.0 1317.7,303.4 1317.9,309.5 1318.1,310.2 1318.4,315.2 1318.6,275.5 1318.9,276.6 1319.1,261.5 1319.3,253.3 1319.6,230.6 1319.8,223.2 1320.0,221.7 1320.3,196.0 1320.5,197.7 1320.8,181.9 1321.0,185.3 1321.2,176.1 1321.5,199.5 1321.7,200.2 1322.0,219.0 1322.2,247.9 1322.5,276.9 1322.7,243.6 1322.9,259.0 1323.2,250.7 1323.4,258.8 1323.7,282.7 1323.9,281.4 1324.2,308.1 1324.4,316.4 1324.6,331.4 1324.9,305.1 1325.1,359.1 1325.4,325.2 1325.6,322.8 1325.9,313.6 1326.1,361.0 1326.3,370.8 1326.6,363.8 1326.8,401.4 1327.1,373.7 1327.3,355.7 1327.6,372.6 1327.8,364.4 1328.0,367.2 1328.3,373.1 1328.5,378.0 1328.8,389.6 1329.0,361.8 1329.3,412.6 1329.5,408.2 1329.7,400.0 1330.0,402.8 1330.2,433.1 1330.5,446.9 1330.7,425.7 1331.0,417.2 1331.2,415.7 1331.4,396.7 1331.7,408.0 1331.9,362.8 1332.2,356.6 1332.4,355.9 1332.6,392.7 1332.9,420.5 1333.1,403.5 1333.4,390.3 1333.6,347.6 1333.8,329.0 1334.1,343.0 1334.3,363.6 1334.6,352.4 1334.8,325.4 1335.0,318.4 1335.3,338.5 1335.5,352.9 1335.8,336.0 1336.0,306.2 1336.2,296.8 1336.5,269.8 1336.7,269.8 1337.0,275.7 1337.2,257.9 1337.4,216.0 1337.7,238.6 1337.9,203.0 1338.2,218.1 1338.4,237.0 1338.6,256.4 1338.9,259.1 1339.1,281.0 1339.4,281.1 1339.6,254.0 1339.8,250.2 1340.1,289.0 1340.3,264.4 1340.6,227.0 1340.8,251.9 1341.0,278.9 1341.3,310.8 1341.5,315.0 1341.8,330.6 1342.0,334.7 1342.3,350.8 1342.5,312.4 1342.7,338.1 1343.0,348.7 1343.2,349.3 1343.5,367.9 1343.7,323.9 1343.9,355.6 1344.2,377.7 1344.4,349.2 1344.7,358.8 1344.9,370.8 1345.1,325.9 1345.4,353.3 1345.6,357.4 1345.9,368.9 1346.1,337.9 1346.3,369.0 1346.6,410.7 1346.8,431.7 1347.1,428.4 1347.3,435.4 1347.6,433.5 1347.8,436.0 1348.0,424.3 1348.3,422.1 1348.5,405.8 1348.8,411.8 1349.0,393.9 1349.3,394.2 1349.5,376.9 1349.7,381.6 1350.0,410.1 1350.2,429.3 1350.5,375.4 1350.7,384.9 1351.0,382.2 1351.2,383.1 1351.4,371.9 1351.7,368.1 1351.9,339.4 1352.2,344.2 1352.4,364.8 1352.7,312.1 1352.9,339.8 1353.1,305.9 1353.4,305.4 1353.6,280.7 1353.9,296.6 1354.1,287.0 1354.4,302.0 1354.6,257.8 1354.8,259.0 1355.1,269.2 1355.3,262.7 1355.6,221.2 1355.8,225.6 1356.1,247.8 1356.3,238.2 1356.5,232.9 1356.8,189.2 1357.0,173.5 1357.3,190.6 1357.5,203.0 1357.8,231.2 1358.0,221.9 1358.2,221.0 1358.5,216.5 1358.7,241.3 1359.0,254.8 1359.2,272.6 1359.5,264.8 1359.7,291.3 1359.9,273.8 1360.2,273.5 1360.4,279.4 1360.7,284.4 1360.9,321.1 1361.2,339.2 1361.4,320.7 1361.6,356.4 1361.9,367.3 1362.1,356.6 1362.4,348.2 1362.6,338.8 1362.8,348.3 1363.1,361.9 1363.3,370.2 1363.6,385.3 1363.8,388.8 1364.1,369.2 1364.3,387.3 1364.5,393.2 1364.8,348.1 1365.0,382.2 1365.3,419.1 1365.5,428.4 1365.8,432.1 1366.0,424.0 1366.2,409.6 1366.5,409.7 1366.7,404.0 1367.0,355.4 1367.2,380.4 1367.5,386.6 1367.7,428.9 1367.9,393.4 1368.2,384.9 1368.4,354.2 1368.7,357.9 1368.9,338.4 1369.2,335.0 1369.4,343.9 1369.6,300.7 1369.9,264.1 1370.1,276.4 1370.4,278.8 1370.6,293.0 1370.9,294.9 1371.1,269.3 1371.3,261.9 1371.6,244.3 1371.8,243.9 1372.1,246.6 1372.3,215.0 1372.6,192.1 1372.8,194.2 1373.0,221.7 1373.3,255.5 1373.5,264.0 1373.8,253.0 1374.0,262.1 1374.2,272.1 1374.5,293.3 1374.7,293.8 1375.0,299.2 1375.2,314.0 1375.4,275.7 1375.7,255.3 1375.9,300.5 1376.2,272.4 1376.4,323.9 1376.6,340.5 1376.9,348.9 1377.1,373.4 1377.4,397.6 1377.6,378.1 1377.8,381.1 1378.1,349.5 1378.3,328.7 1378.6,325.6 1378.8,377.3 1379.1,378.6 1379.3,410.6 1379.5,372.1 1379.8,357.5 1380.0,379.7 1380.3,407.2 1380.5,388.0 1380.7,396.7 1381.0,390.7 1381.2,433.4 1381.5,437.1 1381.7,434.2 1381.9,430.5 1382.2,439.8 1382.4,439.1 1382.7,410.2 1382.9,389.0 1383.2,436.4 1383.4,427.4 1383.6,428.2 1383.9,434.3 1384.1,382.2 1384.4,384.5 1384.6,389.0 1384.9,383.5 1385.1,343.9 1385.3,321.4 1385.6,383.8 1385.8,360.8 1386.1,378.3 1386.3,395.8 1386.6,394.4 1386.8,301.4 1387.0,290.1 1387.3,292.7 1387.5,327.4 1387.8,304.6 1388.0,276.3 1388.3,298.5 1388.5,308.9 1388.7,296.0 1389.0,262.4 1389.2,264.0 1389.5,246.4 1389.7,253.0 1390.0,251.9 1390.2,235.0 1390.4,216.8 1390.7,210.0 1390.9,211.3 1391.2,194.9 1391.4,180.6 1391.7,201.0 1391.9,216.7 1392.1,215.3 1392.4,240.6 1392.6,219.0 1392.9,237.5 1393.1,250.4 1393.3,275.8 1393.6,294.9 1393.8,306.9 1394.1,308.4 1394.3,282.7 1394.6,348.7 1394.8,339.7 1395.0,351.7 1395.3,363.6 1395.5,371.9 1395.8,360.0 1396.0,366.3 1396.2,342.1 1396.5,339.6 1396.7,402.6 1397.0,405.9 1397.2,380.6 1397.4,366.4 1397.7,363.7 1397.9,375.0 1398.2,417.7 1398.4,415.2 1398.6,409.5 1398.9,378.3 1399.1,421.7 1399.4,424.4 1399.6,393.5 1399.9,415.4 1400.1,411.4 1400.3,404.0 1400.6,393.3 1400.8,395.6 1401.1,393.2 1401.3,375.1 1401.6,348.7 1401.8,312.7 1402.0,328.3 1402.3,314.5 1402.5,320.1 1402.8,337.0 1403.0,305.4 1403.3,284.9 1403.5,312.3 1403.7,285.7 1404.0,267.9 1404.2,259.5 1404.5,263.0 1404.7,248.6 1404.9,237.1 1405.2,247.5 1405.4,224.9 1405.7,218.5 1405.9,196.9 1406.2,198.3 1406.4,199.9 1406.6,222.5 1406.9,249.8 1407.1,239.9 1407.4,219.4 1407.6,248.4 1407.8,236.7 1408.1,236.8 1408.3,245.3 1408.6,280.8 1408.8,302.2 1409.0,297.7 1409.3,282.7 1409.5,310.0 1409.7,349.1 1410.0,347.4 1410.2,362.0 1410.5,366.3 1410.7,365.9 1410.9,378.9 1411.2,375.0 1411.4,424.2 1411.7,412.3 1411.9,397.7 1412.1,405.5 1412.4,422.8 1412.6,419.4 1412.9,429.4 1413.1,436.5 1413.3,431.4 1413.6,386.1 1413.8,432.5 1414.1,433.9 1414.3,462.9 1414.5,397.7 1414.8,431.0 1415.0,383.1 1415.3,403.5 1415.5,412.6 1415.7,444.7 1416.0,395.2 1416.2,436.6 1416.5,430.8 1416.7,466.8 1416.9,464.2 1417.2,398.4 1417.4,395.3 1417.6,410.9 1417.9,415.9 1418.1,387.1 1418.4,385.7 1418.6,424.5 1418.8,406.2 1419.1,379.3 1419.3,381.8 1419.5,360.9 1419.8,362.0 1420.0,353.6 1420.3,366.9 1420.5,356.1 1420.7,375.0 1421.0,337.1 1421.2,323.8 1421.5,348.7 1421.7,337.9 1421.9,331.4 1422.2,310.2 1422.4,299.2 1422.6,274.8 1422.9,287.9 1423.1,283.0 1423.4,268.3 1423.6,275.5 1423.8,292.8 1424.1,242.1 1424.3,267.4 1424.5,245.8 1424.8,232.9 1425.0,238.1 1425.3,236.4 1425.5,229.3 1425.7,224.8 1426.0,186.9 1426.2,170.0 1426.4,167.7 1426.7,173.4 1426.9,170.7 1427.2,187.0 1427.4,236.8 1427.6,261.3 1427.9,273.4 1428.1,258.0 1428.3,268.7 1428.6,295.8 1428.8,307.2 1429.0,275.0 1429.3,293.1 1429.5,300.6 1429.8,343.6 1430.0,320.5 1430.2,269.3 1430.5,302.0 1430.7,342.5 1430.9,312.0 1431.2,354.3 1431.4,380.5 1431.6,376.8 1431.9,355.7 1432.1,366.9 1432.4,363.5 1432.6,387.4 1432.8,417.4 1433.1,417.6 1433.3,403.9 1433.5,416.6 1433.8,413.2 1434.0,423.1 1434.3,416.1 1434.5,411.6 1434.7,422.6 1435.0,406.4 1435.2,361.2 1435.4,412.6 1435.7,401.8 1435.9,397.5 1436.1,389.5 1436.4,368.5 1436.6,321.6 1436.9,343.4 1437.1,337.5 1437.3,344.0 1437.6,354.4 1437.8,348.1 1438.0,335.7 1438.3,367.2 1438.5,362.4 1438.8,344.7 1439.0,305.3 1439.2,301.3 1439.5,297.5 1439.7,279.1 1439.9,268.8 1440.2,257.5 1440.4,268.3 1440.7,264.0 1440.9,255.9 1441.1,251.0 1441.4,249.4 1441.6,244.1 1441.8,218.0 1442.1,231.6 1442.3,250.3 1442.6,240.3 1442.8,245.0 1443.1,235.0 1443.3,273.9 1443.5,260.7 1443.8,252.5 1444.0,276.8 1444.3,285.0 1444.5,297.9 1444.7,278.2 1445.0,298.1 1445.2,324.7 1445.5,307.8 1445.7,350.7 1446.0,331.7 1446.2,337.1 1446.4,338.1 1446.7,324.9 1446.9,350.0 1447.2,313.3 1447.4,333.2 1447.7,313.1 1447.9,349.0 1448.1,323.1 1448.4,351.0 1448.6,345.2 1448.9,376.0 1449.1,363.2 1449.4,402.5 1449.6,397.4 1449.8,386.1 1450.1,370.0 1450.3,365.9 1450.6,342.4 1450.8,383.5 1451.1,351.4 1451.3,384.1 1451.5,383.1 1451.8,396.9 1452.0,402.2 1452.3,418.8 1452.5,435.0 1452.7,449.4 1453.0,434.4 1453.2,401.5 1453.5,406.0 1453.7,377.4 1453.9,390.9 1454.2,418.3 1454.4,391.1 1454.7,404.4 1454.9,417.6 1455.2,369.5 1455.4,318.0 1455.6,335.3 1455.9,355.9 1456.1,333.1 1456.4,343.5 1456.6,347.1 1456.8,354.4 1457.1,359.9 1457.3,344.7 1457.6,307.9 1457.8,285.7 1458.0,252.0 1458.3,271.3 1458.5,295.3 1458.8,243.6 1459.0,243.6 1459.2,238.6 1459.5,255.9 1459.7,245.8 1460.0,195.9 1460.2,183.4 1460.4,149.4 1460.7,169.0 1460.9,163.1 1461.2,182.7 1461.4,195.6 1461.7,225.3 1461.9,246.7 1462.1,285.5 1462.4,253.7 1462.6,269.5 1462.9,266.5 1463.1,255.2 1463.4,268.3 1463.6,297.3 1463.8,311.9 1464.1,339.1 1464.3,331.6 1464.6,344.0 1464.8,339.0 1465.1,279.2 1465.3,316.4 1465.5,333.6 1465.8,338.6 1466.0,369.5 1466.3,395.7 1466.5,358.5 1466.8,380.5 1467.0,366.6 1467.2,377.8 1467.5,381.6 1467.7,382.1 1468.0,423.7 1468.2,411.9 1468.5,412.9 1468.7,379.4 1468.9,442.4 1469.2,441.6 1469.4,443.7 1469.7,422.3 1469.9,427.8 1470.1,413.8 1470.4,397.2 1470.6,396.1 1470.9,419.3 1471.1,397.0 1471.3,405.9 1471.6,362.1 1471.8,345.7 1472.0,328.2 1472.3,357.4 1472.5,317.0 1472.8,295.0 1473.0,320.4 1473.2,339.3 1473.5,354.2 1473.7,293.0 1474.0,264.8 1474.2,295.5 1474.4,299.5 1474.7,280.2 1474.9,277.8 1475.1,285.9 1475.4,282.2 1475.6,235.2 1475.9,221.6 1476.1,206.9 1476.3,211.4 1476.6,228.2 1476.8,234.7 1477.0,245.0 1477.3,254.5 1477.5,292.6 1477.8,336.7 1478.0,315.2 1478.2,289.5 1478.5,303.5 1478.7,299.8 1478.9,326.0 1479.2,313.9 1479.4,302.6 1479.7,310.0 1479.9,309.1 1480.1,314.5 1480.4,323.3 1480.6,328.9 1480.8,296.9 1481.1,322.6 1481.3,343.0 1481.6,323.5 1481.8,350.8 1482.0,344.7 1482.3,357.8 1482.5,345.3 1482.7,376.5 1483.0,393.5 1483.2,420.2 1483.5,416.1 1483.7,424.4 1483.9,427.2 1484.2,440.4 1484.4,424.1 1484.6,442.7 1484.9,404.0 1485.1,427.9 1485.4,420.4 1485.6,454.9 1485.8,453.2 1486.1,426.4 1486.3,450.3 1486.5,453.3 1486.8,469.0 1487.0,468.9 1487.3,471.9 1487.5,447.9 1487.7,431.1 1488.0,424.0 1488.2,403.4 1488.5,382.9 1488.7,393.7 1488.9,383.5 1489.2,378.9 1489.4,358.4 1489.6,366.5 1489.9,345.7 1490.1,331.6 1490.4,315.8 1490.6,308.6 1490.8,336.6 1491.1,352.4 1491.3,344.1 1491.5,311.5 1491.8,280.1 1492.0,282.9 1492.3,279.4 1492.5,290.0 1492.7,282.8 1493.0,294.8 1493.2,271.2 1493.5,298.9 1493.7,261.6 1493.9,246.4 1494.2,234.0 1494.4,207.4 1494.6,179.0 1494.9,216.2 1495.1,244.8 1495.4,221.1 1495.6,173.1 1495.8,198.9 1496.1,205.2 1496.3,195.6 1496.6,194.1 1496.8,224.3 1497.1,214.7 1497.3,226.0 1497.5,253.8 1497.8,273.6 1498.0,284.6 1498.3,300.5 1498.5,294.1 1498.7,311.9 1499.0,314.0 1499.2,302.1 1499.5,315.2 1499.7,339.1 1500.0,368.2 1500.2,414.7 1500.4,372.3 1500.7,350.6 1500.9,337.9 1501.2,367.2 1501.4,333.5 1501.7,331.2 1501.9,360.7 1502.1,385.4 1502.4,361.1 1502.6,393.2 1502.9,408.4 1503.1,421.0 1503.3,410.4 1503.6,422.2 1503.8,425.6 1504.1,415.4 1504.3,409.8 1504.6,423.2 1504.8,391.8 1505.0,424.6 1505.3,421.2 1505.5,422.7 1505.8,424.6 1506.0,418.4 1506.2,427.0 1506.5,413.7 1506.7,402.0 1507.0,395.7 1507.2,416.1 1507.5,403.1 1507.7,370.9 1508.0,373.9 1508.2,348.6 1508.4,369.9 1508.7,363.4 1508.9,339.8 1509.2,325.5 1509.4,330.2 1509.7,307.9 1509.9,283.7 1510.2,297.6 1510.4,274.6 1510.6,268.0 1510.9,267.4 1511.1,282.7 1511.4,253.0 1511.6,256.6 1511.9,255.7 1512.1,294.3 1512.4,305.6 1512.6,340.1 1512.8,321.1 1513.1,311.6 1513.3,308.0 1513.6,345.2 1513.8,345.2 1514.1,310.6 1514.3,307.3 1514.5,310.4 1514.8,307.3 1515.0,349.4 1515.3,347.5 1515.5,359.4 1515.8,372.9 1516.0,352.2 1516.2,360.0 1516.5,363.1 1516.7,407.2 1517.0,422.9 1517.2,406.2 1517.5,443.4 1517.7,444.6 1517.9,425.8 1518.2,377.6 1518.4,406.0 1518.7,426.8 1518.9,391.7 1519.1,387.0 1519.4,404.0 1519.6,441.0 1519.9,448.8 1520.1,442.4 1520.4,459.1 1520.6,455.0 1520.8,441.6 1521.1,451.4 1521.3,441.1 1521.6,456.0 1521.8,456.5 1522.0,411.8 1522.3,422.5 1522.5,395.6 1522.8,367.8 1523.0,435.4 1523.2,444.8 1523.5,458.9 1523.7,433.6 1523.9,406.0 1524.2,393.2 1524.4,387.6 1524.7,387.4 1524.9,352.9 1525.1,393.3 1525.4,358.1 1525.6,374.2 1525.9,334.7 1526.1,334.2 1526.3,318.7 1526.6,312.6 1526.8,311.1 1527.0,289.2 1527.3,290.0 1527.5,276.7 1527.8,265.9 1528.0,267.0 1528.2,268.8 1528.5,274.7 1528.7,252.3 1529.0,217.9 1529.2,215.3 1529.4,216.0 1529.7,202.6 1529.9,211.5 1530.1,226.8 1530.4,207.4 1530.6,184.0 1530.9,190.4 1531.1,193.9 1531.4,201.5 1531.6,224.9 1531.8,238.4 1532.1,235.7 1532.3,290.9 1532.6,274.2 1532.8,260.3 1533.1,282.1 1533.3,308.2 1533.6,318.1 1533.8,304.2 1534.0,341.3 1534.3,305.8 1534.5,312.5 1534.8,336.1 1535.0,320.7 1535.3,353.8 1535.5,368.9 1535.7,383.4 1536.0,395.5 1536.2,411.1 1536.5,411.4 1536.7,414.4 1537.0,378.4 1537.2,403.8 1537.5,411.6 1537.7,428.6 1537.9,450.7 1538.2,441.4 1538.4,445.7 1538.7,444.3 1538.9,443.5 1539.1,442.9 1539.4,428.5 1539.6,423.5 1539.9,423.1 1540.1,416.7 1540.3,400.5 1540.6,385.1 1540.8,399.8 1541.0,378.9 1541.3,361.3 1541.5,386.6 1541.8,366.5 1542.0,355.1 1542.2,360.6 1542.5,343.3 1542.7,331.2 1543.0,339.9 1543.2,352.4 1543.4,316.6 1543.7,313.6 1543.9,314.3 1544.2,325.5 1544.4,313.7 1544.6,296.9 1544.9,265.3 1545.1,266.4 1545.4,262.7 1545.6,231.4 1545.8,231.0 1546.1,228.2 1546.3,211.0 1546.5,205.6 1546.8,226.9 1547.0,239.8 1547.3,266.5 1547.5,279.2 1547.8,280.5 1548.0,271.3 1548.2,265.2 1548.5,270.7 1548.7,287.8 1549.0,281.2 1549.2,273.3 1549.5,306.9 1549.7,330.9 1549.9,352.4 1550.2,323.1 1550.4,311.7 1550.7,338.9 1550.9,377.2 1551.2,402.6 1551.4,400.5 1551.6,399.8 1551.9,355.6 1552.1,389.0 1552.4,390.7 1552.6,344.6 1552.9,397.1 1553.1,421.8 1553.3,402.7 1553.6,371.5 1553.8,423.3 1554.1,419.2 1554.3,392.4 1554.6,399.4 1554.8,427.6 1555.0,429.3 1555.3,453.4 1555.5,453.9 1555.8,449.6 1556.0,427.5 1556.3,412.5 1556.5,403.3 1556.7,386.2 1557.0,413.1 1557.2,392.1 1557.5,339.5 1557.7,354.0 1557.9,313.5 1558.2,341.9 1558.4,379.0 1558.7,365.1 1558.9,333.5 1559.2,337.4 1559.4,371.5 1559.6,366.7 1559.9,329.6 1560.1,314.2 1560.4,329.9 1560.6,336.2 1560.9,350.4 1561.1,328.4 1561.3,270.3 1561.6,293.3 1561.8,326.0 1562.1,324.9 1562.3,270.5 1562.5,269.9 1562.8,250.2 1563.0,283.6 1563.3,268.7 1563.5,230.8 1563.8,223.7 1564.0,259.0 1564.2,258.3 1564.5,237.8 1564.7,208.2 1565.0,188.7 1565.2,233.6 1565.5,208.9 1565.7,192.0 1565.9,190.1 1566.2,187.0 1566.4,194.0 1566.7,195.4 1566.9,197.1 1567.1,216.4 1567.4,230.6 1567.6,236.4 1567.8,237.5 1568.1,242.0 1568.3,253.3 1568.6,256.0 1568.8,275.7 1569.0,299.4 1569.3,304.4 1569.5,320.6 1569.8,336.8 1570.0,296.8 1570.2,309.1 1570.5,317.5 1570.7,320.5 1571.0,307.7 1571.2,375.7 1571.4,325.6 1571.7,334.5 1571.9,360.8 1572.1,321.7 1572.4,332.5 1572.6,356.8 1572.9,349.1 1573.1,372.2 1573.3,318.0 1573.6,318.6 1573.8,392.0 1574.1,389.6 1574.3,396.6 1574.5,381.7 1574.8,409.7 1575.0,393.9 1575.3,408.7 1575.5,402.0 1575.8,388.0 1576.0,390.5 1576.2,355.5 1576.5,341.3 1576.7,324.3 1577.0,327.1 1577.2,341.5 1577.5,348.0 1577.7,314.3 1578.0,323.3 1578.2,344.9 1578.4,302.1 1578.7,302.1 1578.9,267.9 1579.2,246.9 1579.4,239.4 1579.7,232.9 1579.9,226.3 1580.2,217.5 1580.4,222.7 1580.6,238.6 1580.9,266.4 1581.1,277.2 1581.4,270.4 1581.6,280.4 1581.8,283.6 1582.1,278.9 1582.3,303.0 1582.6,307.0 1582.8,305.5 1583.0,299.7 1583.3,294.8 1583.5,321.7 1583.8,325.3 1584.0,357.1 1584.3,347.0 1584.5,352.9 1584.7,353.9 1585.0,384.9 1585.2,352.4 1585.5,354.4 1585.7,366.1 1585.9,362.9 1586.2,369.6 1586.4,381.3 1586.7,425.7 1586.9,439.1 1587.1,437.0 1587.4,454.2 1587.6,443.6 1587.9,450.4 1588.1,455.9 1588.3,405.8 1588.6,380.8 1588.8,391.0 1589.1,389.5 1589.3,417.7 1589.5,406.8 1589.8,437.1 1590.0,423.2 1590.3,434.7 1590.5,410.0 1590.7,431.4 1591.0,397.3 1591.2,430.0 1591.5,456.7 1591.7,459.7 1592.0,458.3 1592.2,459.1 1592.4,452.4 1592.7,448.4 1592.9,428.8 1593.2,420.4 1593.4,396.1 1593.6,394.4 1593.9,358.7 1594.1,385.8 1594.4,415.6 1594.6,416.9 1594.8,404.0 1595.1,378.4 1595.3,336.9 1595.6,339.6 1595.8,382.1 1596.0,375.8 1596.3,309.6 1596.5,277.3 1596.8,283.9 1597.0,258.5 1597.2,239.7 1597.5,264.9 1597.7,224.1 1598.0,221.0 1598.2,235.3 1598.4,235.9 1598.7,194.1 1598.9,188.2 1599.2,183.5 1599.4,187.9 1599.6,191.4 1599.9,205.9 1600.1,192.0 1600.4,213.5 1600.6,199.0 1600.8,235.4 1601.1,246.3 1601.3,242.3 1601.6,296.5 1601.8,293.8 1602.1,288.3 1602.3,265.3 1602.5,312.4 1602.8,311.4 1603.0,314.5 1603.3,320.9 1603.5,318.9 1603.8,346.0 1604.0,322.2 1604.2,332.9 1604.5,373.7 1604.7,347.1 1605.0,368.0 1605.2,401.7 1605.5,365.8 1605.7,410.0 1605.9,411.1 1606.2,406.1 1606.4,402.6 1606.7,402.2 1606.9,418.5 1607.1,419.6 1607.4,396.4 1607.6,407.5 1607.9,422.5 1608.1,421.4 1608.4,421.5 1608.6,420.2 1608.8,402.2 1609.1,393.4 1609.3,372.2 1609.5,362.3 1609.8,354.8 1610.0,355.3 1610.3,351.9 1610.5,369.9 1610.7,339.5 1611.0,357.3 1611.2,348.2 1611.5,297.5 1611.7,305.8 1611.9,343.5 1612.2,320.7 1612.4,295.0 1612.7,276.0 1612.9,276.3 1613.1,269.3 1613.4,260.2 1613.6,237.7 1613.8,205.4 1614.1,190.6 1614.3,188.8 1614.6,173.2 1614.8,171.8 1615.0,173.5 1615.3,194.6 1615.5,195.9 1615.8,198.6 1616.0,221.0 1616.2,232.6 1616.5,239.3 1616.7,258.9 1617.0,256.1 1617.2,247.6 1617.4,267.5 1617.7,283.2 1617.9,275.8 1618.2,274.2 1618.4,243.8 1618.6,252.5 1618.9,250.6 1619.1,280.3 1619.4,305.4 1619.6,283.6 1619.8,301.1 1620.1,341.1 1620.3,345.2 1620.6,315.6 1620.8,323.9 1621.1,349.5 1621.3,376.4 1621.5,381.4 1621.8,380.8 1622.0,383.1 1622.3,388.4 1622.5,371.4 1622.7,381.4 1623.0,372.6 1623.2,389.3 1623.5,341.9 1623.7,366.4 1623.9,365.7 1624.2,403.5 1624.4,377.0 1624.7,403.0 1624.9,399.3 1625.1,410.6 1625.4,415.6 1625.6,408.8 1625.9,446.7 1626.1,453.3 1626.3,432.6 1626.6,417.6 1626.8,389.3 1627.0,395.0 1627.3,413.0 1627.5,424.6 1627.8,393.1 1628.0,408.1 1628.2,375.6 1628.5,380.2 1628.7,347.4 1628.9,373.0 1629.2,366.4 1629.4,334.1 1629.7,367.6 1629.9,380.3 1630.1,328.8 1630.4,321.6 1630.6,332.3 1630.9,325.8 1631.1,300.7 1631.3,284.1 1631.6,277.6 1631.8,278.2 1632.0,308.2 1632.3,271.4 1632.5,274.8 1632.8,278.1 1633.0,248.3 1633.2,248.8 1633.5,239.9 1633.7,255.1 1633.9,214.2 1634.2,206.2 1634.4,236.0 1634.7,253.3 1634.9,246.1 1635.2,243.1 1635.4,267.3 1635.6,254.0 1635.9,249.7 1636.1,294.1 1636.4,314.9 1636.6,305.8 1636.9,296.4 1637.1,337.6 1637.3,320.4 1637.6,344.9 1637.8,348.1 1638.1,356.4 1638.3,366.4 1638.6,350.4 1638.8,349.1 1639.0,353.1 1639.3,399.1 1639.5,410.9 1639.8,418.2 1640.0,394.9 1640.3,395.8 1640.5,358.2 1640.7,372.0 1641.0,386.4 1641.2,357.3 1641.5,372.6 1641.7,356.3 1642.0,385.3 1642.2,422.6 1642.4,425.8 1642.7,415.6 1642.9,423.9 1643.2,425.6 1643.4,426.4 1643.7,416.3 1643.9,424.6 1644.1,393.4 1644.4,413.2 1644.6,419.1 1644.8,378.7 1645.1,381.0 1645.3,365.8 1645.5,373.7 1645.8,330.6 1646.0,303.3 1646.3,299.6 1646.5,288.1 1646.7,280.0 1647.0,254.8 1647.2,238.2 1647.4,241.3 1647.7,220.0 1647.9,201.7 1648.1,232.7 1648.4,251.6 1648.6,245.0 1648.9,257.1 1649.1,252.5 1649.4,263.9 1649.6,263.7 1649.8,274.9 1650.1,273.6 1650.3,318.9 1650.6,326.1 1650.8,329.6 1651.0,332.3 1651.3,307.4 1651.5,324.0 1651.8,311.2 1652.0,325.1 1652.2,357.6 1652.5,345.5 1652.7,335.8 1653.0,349.3 1653.2,365.2 1653.4,387.8 1653.7,383.1 1653.9,402.6 1654.2,400.5 1654.4,411.4 1654.7,382.5 1654.9,370.3 1655.1,387.0 1655.4,387.2 1655.6,363.6 1655.9,394.0 1656.1,402.0 1656.3,411.1 1656.6,420.1 1656.8,413.7 1657.1,400.0 1657.3,412.2 1657.5,406.1 1657.8,418.1 1658.0,432.1 1658.3,430.8 1658.5,403.9 1658.7,391.3 1659.0,421.3 1659.2,408.4 1659.5,437.4 1659.7,448.8 1660.0,438.6 1660.2,429.4 1660.4,395.3 1660.7,409.3 1660.9,393.1 1661.2,370.8 1661.4,399.0 1661.6,384.8 1661.9,402.3 1662.1,395.6 1662.4,428.1 1662.6,419.4 1662.8,371.3 1663.1,381.5 1663.3,321.0 1663.6,330.8 1663.8,368.0 1664.0,350.3 1664.3,360.0 1664.5,371.7 1664.8,371.1 1665.0,378.9 1665.2,337.0 1665.5,325.8 1665.7,326.1 1666.0,328.4 1666.2,286.3 1666.4,267.4 1666.7,247.2 1666.9,260.4 1667.2,274.5 1667.4,259.1 1667.7,248.9 1667.9,257.7 1668.1,218.3 1668.4,210.1 1668.6,195.3 1668.9,212.0 1669.1,204.1 1669.3,192.5 1669.6,228.6 1669.8,259.8 1670.1,249.3 1670.3,264.1 1670.5,299.9 1670.8,310.4 1671.0,296.4 1671.3,288.8 1671.5,329.8 1671.8,319.1 1672.0,314.6 1672.2,317.3 1672.5,315.4 1672.7,299.8 1673.0,330.5 1673.2,335.5 1673.5,328.6 1673.7,351.2 1673.9,356.8 1674.2,366.3 1674.4,390.0 1674.7,365.2 1674.9,387.4 1675.2,372.5 1675.4,424.1 1675.6,383.4 1675.9,402.6 1676.1,374.1 1676.4,414.9 1676.6,415.9 1676.8,417.5 1677.1,402.8 1677.3,397.3 1677.6,397.2 1677.8,408.2 1678.1,427.0 1678.3,420.0 1678.5,425.3 1678.8,419.3 1679.0,419.2 1679.3,396.2 1679.5,349.8 1679.8,360.6 1680.0,340.0 1680.2,351.2 1680.5,374.5 1680.7,426.3 1681.0,408.9 1681.2,367.2 1681.5,340.2 1681.7,303.8 1681.9,310.2 1682.2,336.8 1682.4,319.5 1682.7,286.2 1682.9,322.6 1683.2,307.9 1683.4,284.7 1683.6,282.7 1683.9,271.1 1684.1,245.3 1684.4,213.6 1684.6,189.7 1684.9,187.4 1685.1,215.4 1685.3,217.9 1685.6,224.5 1685.8,218.1 1686.1,225.9 1686.3,220.2 1686.5,235.1 1686.8,233.5 1687.0,282.6 1687.3,262.2 1687.5,257.2 1687.8,278.8 1688.0,271.9 1688.2,297.4 1688.5,303.1 1688.7,303.4 1689.0,328.9 1689.2,355.2 1689.4,353.7 1689.7,347.3 1689.9,362.0 1690.2,358.4 1690.4,365.0 1690.7,346.2 1690.9,362.1 1691.1,365.9 1691.4,372.8 1691.6,374.3 1691.9,403.8 1692.1,401.6 1692.3,395.7 1692.6,447.7 1692.8,434.6 1693.1,446.8 1693.3,434.7 1693.5,412.2 1693.8,431.0 1694.0,425.0 1694.3,442.8 1694.5,452.5 1694.8,440.6 1695.0,453.9 1695.2,453.7 1695.5,452.2 1695.7,450.4 1695.9,453.9 1696.2,415.3 1696.4,437.0 1696.7,428.3 1696.9,422.1 1697.1,413.9 1697.4,441.4 1697.6,406.5 1697.8,436.1 1698.1,440.3 1698.3,432.8 1698.6,390.8 1698.8,355.0 1699.0,369.6 1699.3,370.3 1699.5,341.1 1699.7,330.1 1700.0,289.2 1700.2,303.6 1700.5,274.2 1700.7,278.3 1700.9,283.8 1701.2,291.8 1701.4,277.5 1701.7,256.9 1701.9,257.0 1702.1,234.0 1702.4,210.4 1702.6,204.9 1702.8,201.2 1703.1,199.2 1703.3,227.0 1703.6,215.7 1703.8,215.9 1704.0,204.2 1704.3,201.3 1704.5,258.9 1704.7,262.2 1705.0,250.1 1705.2,254.1 1705.5,265.3 1705.7,271.5 1705.9,298.7 1706.2,286.5 1706.4,291.7 1706.7,308.3 1706.9,300.1 1707.1,311.0 1707.4,314.8 1707.6,338.4 1707.9,348.8 1708.1,291.2 1708.3,319.7 1708.6,337.6 1708.8,327.7 1709.0,306.2 1709.3,357.9 1709.5,336.9 1709.8,350.0 1710.0,338.5 1710.2,369.0 1710.5,352.8 1710.7,356.3 1711.0,383.4 1711.2,375.4 1711.4,363.9 1711.7,396.0 1711.9,342.7 1712.1,379.6 1712.4,427.2 1712.6,415.7 1712.9,430.1 1713.1,415.6 1713.3,432.1 1713.6,425.4 1713.8,419.3 1714.1,410.7 1714.3,427.6 1714.5,429.7 1714.8,402.4 1715.0,373.6 1715.2,354.1 1715.5,355.5 1715.7,370.1 1715.9,400.4 1716.2,366.2 1716.4,316.4 1716.7,323.0 1716.9,332.9 1717.1,340.0 1717.4,323.9 1717.6,344.2 1717.8,327.5 1718.1,334.1 1718.3,320.9 1718.6,306.6 1718.8,295.1 1719.0,256.4 1719.3,225.7 1719.5,218.7 1719.7,240.7 1720.0,239.3 1720.2,233.4 1720.5,225.8 1720.7,229.0 1720.9,248.9 1721.2,273.6 1721.4,267.9 1721.6,274.1 1721.9,257.9 1722.1,261.4 1722.4,296.9 1722.6,313.0 1722.8,313.1 1723.1,311.5 1723.3,329.5 1723.5,339.9 1723.8,352.6 1724.0,330.5 1724.3,353.2 1724.5,343.8 1724.7,358.8 1725.0,362.4 1725.2,402.2 1725.4,405.3 1725.7,366.6 1725.9,382.7 1726.2,400.2 1726.4,413.2 1726.6,427.0 1726.9,419.8 1727.1,450.4 1727.4,400.5 1727.6,392.2 1727.8,357.3 1728.1,360.2 1728.3,360.2 1728.5,368.9 1728.8,418.3 1729.0,414.6 1729.3,448.8 1729.5,445.4 1729.7,455.8 1730.0,462.0 1730.2,459.6 1730.4,460.8 1730.7,463.3 1730.9,466.8 1731.2,464.2 1731.4,464.2 1731.6,466.1 1731.9,433.7 1732.1,391.7 1732.4,412.4 1732.6,406.2 1732.8,391.1 1733.1,419.9 1733.3,447.5 1733.6,453.9 1733.8,410.0 1734.0,442.1 1734.3,437.9 1734.5,378.4 1734.8,373.9 1735.0,358.6 1735.2,327.6 1735.5,343.6 1735.7,345.0 1736.0,312.4 1736.2,263.6 1736.4,269.9 1736.7,277.9 1736.9,271.8 1737.2,279.8 1737.4,302.0 1737.6,283.6 1737.9,247.1 1738.1,209.4 1738.4,212.9 1738.6,195.3 1738.8,204.0 1739.1,216.8 1739.3,187.1 1739.6,179.9 1739.8,192.0 1740.0,185.1 1740.3,168.4 1740.5,187.1 1740.8,250.3 1741.0,240.3 1741.2,243.2 1741.5,256.4 1741.7,266.3 1742.0,277.2 1742.2,295.4 1742.4,309.8 1742.7,323.2 1742.9,318.8 1743.2,365.7 1743.4,373.8 1743.6,362.4 1743.9,371.2 1744.1,378.3 1744.4,412.0 1744.6,404.4 1744.8,413.5 1745.1,424.7 1745.3,420.8 1745.6,413.8 1745.8,427.0 1746.0,410.2 1746.3,418.3 1746.5,416.2 1746.8,421.8 1747.0,408.3 1747.2,389.5 1747.5,408.8 1747.7,388.7 1747.9,400.0 1748.2,395.0 1748.4,381.3 1748.7,353.7 1748.9,371.0 1749.1,384.8 1749.4,373.6 1749.6,391.0 1749.9,373.4 1750.1,361.1 1750.3,366.1 1750.6,344.5 1750.8,350.8 1751.0,368.7 1751.3,364.5 1751.5,338.1 1751.8,336.8 1752.0,340.7 1752.2,323.1 1752.5,320.5 1752.7,317.5 1753.0,315.4 1753.2,294.4 1753.4,285.1 1753.7,290.0 1753.9,272.7 1754.1,252.4 1754.4,258.9 1754.6,286.5 1754.9,283.5 1755.1,295.0 1755.3,290.9 1755.6,295.4 1755.8,294.5 1756.1,298.6 1756.3,284.6 1756.6,301.6 1756.8,323.8 1757.0,344.0 1757.3,346.2 1757.5,361.0 1757.8,343.4 1758.0,347.5 1758.2,343.3 1758.5,332.4 1758.7,341.3 1759.0,328.2 1759.2,360.0 1759.4,384.8 1759.7,403.2 1759.9,373.0 1760.2,422.5 1760.4,433.8 1760.7,412.0 1760.9,392.9 1761.1,416.6 1761.4,428.1 1761.6,433.0 1761.9,444.7 1762.1,459.1 1762.3,453.4 1762.6,456.1 1762.8,433.0 1763.1,427.2 1763.3,393.5 1763.5,426.7 1763.8,422.5 1764.0,424.8 1764.2,416.6 1764.5,433.2 1764.7,458.4 1765.0,453.0 1765.2,435.5 1765.4,402.5 1765.7,373.0 1765.9,393.1 1766.2,397.0 1766.4,430.5 1766.6,407.3 1766.9,355.2 1767.1,375.7 1767.3,356.4 1767.6,368.2 1767.8,336.8 1768.1,336.7 1768.3,329.9 1768.5,323.6 1768.8,312.0 1769.0,327.4 1769.3,307.3 1769.5,276.1 1769.7,273.3 1770.0,285.8 1770.2,298.2 1770.5,291.8 1770.7,285.5 1770.9,293.7 1771.2,290.9 1771.4,279.1 1771.6,279.9 1771.9,293.3 1772.1,279.2 1772.4,255.2 1772.6,251.8 1772.8,249.6 1773.1,227.2 1773.3,212.4 1773.6,209.7 1773.8,196.4 1774.0,194.9 1774.3,195.5 1774.5,204.0 1774.7,196.8 1775.0,227.6 1775.2,246.2 1775.5,274.0 1775.7,306.2 1775.9,296.9 1776.2,297.0 1776.4,295.7 1776.6,289.2 1776.9,363.6 1777.1,366.6 1777.4,348.0 1777.6,389.1 1777.8,370.0 1778.1,369.7 1778.3,396.0 1778.5,387.9 1778.8,397.2 1779.0,400.4 1779.3,364.7 1779.5,392.1 1779.7,403.9 1780.0,408.6 1780.2,420.0 1780.4,423.1 1780.7,419.8 1780.9,411.4 1781.2,421.4 1781.4,412.2 1781.6,395.2 1781.9,374.9 1782.1,376.0 1782.4,421.9 1782.6,355.4 1782.9,318.1 1783.1,341.8 1783.3,389.6 1783.6,362.9 1783.8,378.1 1784.1,356.3 1784.3,354.5 1784.5,345.4 1784.8,301.9 1785.0,283.5 1785.3,296.8 1785.5,307.5 1785.7,324.2 1786.0,313.7 1786.2,317.0 1786.5,300.6 1786.7,315.2 1786.9,320.5 1787.2,295.3 1787.4,277.0 1787.7,285.3 1787.9,297.7 1788.1,288.5 1788.4,269.7 1788.6,265.3 1788.9,271.8 1789.1,247.1 1789.3,213.8 1789.6,208.8 1789.8,225.2 1790.1,206.9 1790.3,232.4 1790.5,212.8 1790.8,214.8 1791.0,213.0 1791.3,213.2 1791.5,215.4 1791.7,217.3 1792.0,211.2 1792.2,235.0 1792.5,235.7 1792.7,260.6 1792.9,303.4 1793.2,274.9 1793.4,291.1 1793.7,300.1 1793.9,300.8 1794.1,322.6 1794.4,338.2 1794.6,337.1 1794.9,357.7 1795.1,321.1 1795.3,334.2 1795.6,336.8 1795.8,309.4 1796.0,369.4 1796.3,358.0 1796.5,362.2 1796.8,389.2 1797.0,399.5 1797.2,396.8 1797.5,401.8 1797.7,379.4 1798.0,355.6 1798.2,346.8 1798.4,374.4 1798.7,417.5 1798.9,381.2 1799.2,421.6 1799.4,392.5 1799.6,405.8 1799.9,441.6 1800.1,430.9 1800.3,420.1 1800.6,441.7 1800.8,416.6 1801.1,399.2 1801.3,372.2 1801.6,369.1 1801.8,372.8 1802.0,359.8 1802.3,364.6 1802.5,374.7 1802.8,349.9 1803.0,369.5 1803.2,336.5 1803.5,351.0 1803.7,305.5 1804.0,326.8 1804.2,324.8 1804.4,321.2 1804.7,283.7 1804.9,275.4 1805.2,253.6 1805.4,267.7 1805.6,237.6 1805.9,221.2 1806.1,201.3 1806.4,187.0 1806.6,197.3 1806.8,206.3 1807.1,199.9 1807.3,195.9 1807.6,191.1 1807.8,227.2 1808.1,196.7 1808.3,213.6 1808.5,220.8 1808.8,203.5 1809.0,252.4 1809.3,266.1 1809.5,242.0 1809.8,265.8 1810.0,277.2 1810.2,308.1 1810.5,301.7 1810.7,321.4 1811.0,343.6 1811.2,311.8 1811.4,323.1 1811.7,320.0 1811.9,316.5 1812.2,324.6 1812.4,345.0 1812.7,340.7 1812.9,355.3 1813.1,344.7 1813.4,357.8 1813.6,363.8 1813.9,365.0 1814.1,372.5 1814.3,400.7 1814.6,415.2 1814.8,403.7 1815.1,370.6 1815.3,346.8 1815.6,348.1 1815.8,366.6 1816.0,423.9 1816.3,417.3 1816.5,398.2 1816.8,418.1 1817.0,430.8 1817.2,426.2 1817.5,415.4 1817.7,392.1 1818.0,385.1 1818.2,391.1 1818.4,384.8 1818.7,365.6 1818.9,389.6 1819.1,410.6 1819.4,385.9 1819.6,379.0 1819.8,396.7 1820.1,382.7 1820.3,357.8 1820.5,340.9 1820.8,345.6 1821.0,333.9 1821.2,318.6 1821.5,311.9 1821.7,302.2 1822.0,295.7 1822.2,300.8 1822.4,284.2 1822.7,252.4 1822.9,256.9 1823.1,278.7 1823.4,292.2 1823.6,295.2 1823.9,298.6 1824.1,305.7 1824.3,294.2 1824.6,307.0 1824.8,339.8 1825.1,323.1 1825.3,340.0 1825.5,340.2 1825.8,357.2 1826.0,337.2 1826.3,328.4 1826.5,373.1 1826.7,360.7 1827.0,364.4 1827.2,378.7 1827.5,327.9 1827.7,369.0 1827.9,417.4 1828.2,409.1 1828.4,370.5 1828.7,337.7 1828.9,375.8 1829.1,428.0 1829.4,425.4 1829.6,432.0 1829.9,454.5 1830.1,430.8 1830.3,458.3 1830.6,413.6 1830.8,418.4 1831.1,424.8 1831.3,433.8 1831.5,419.5 1831.8,445.3 1832.0,461.6 1832.3,457.0 1832.5,458.8 1832.7,441.4 1833.0,441.9 1833.2,449.2 1833.5,406.2 1833.7,372.5 1833.9,405.0 1834.2,378.7 1834.4,401.5 1834.7,409.3 1834.9,396.7 1835.1,375.8 1835.4,402.7 1835.6,428.1 1835.9,388.6 1836.1,398.6 1836.3,406.7 1836.6,395.7 1836.8,366.8 1837.1,358.4 1837.3,320.9 1837.5,341.2 1837.8,323.4 1838.0,345.4 1838.3,350.5 1838.5,345.0 1838.7,342.8 1839.0,361.4 1839.2,333.8 1839.5,362.1 1839.7,348.3 1840.0,312.4 1840.2,286.7 1840.4,308.8 1840.7,307.3 1840.9,264.5 1841.2,279.7 1841.4,299.5 1841.6,293.4 1841.9,251.0 1842.1,259.2 1842.4,264.7 1842.6,233.4 1842.8,232.3 1843.1,204.9 1843.3,203.7 1843.6,208.7 1843.8,209.5 1844.0,217.7 1844.3,208.7 1844.5,205.1 1844.8,220.6 1845.0,261.5 1845.3,278.2 1845.5,272.8 1845.7,245.8 1846.0,277.1 1846.2,307.6 1846.5,296.0 1846.7,313.2 1847.0,291.5 1847.2,297.6 1847.4,341.5 1847.7,362.5 1847.9,353.3 1848.2,339.7 1848.4,359.7 1848.7,359.7 1848.9,355.6 1849.1,378.1 1849.4,413.1 1849.6,403.3 1849.9,426.8 1850.1,417.4 1850.4,418.3 1850.6,379.8 1850.8,375.4 1851.1,386.6 1851.3,379.1 1851.6,412.3 1851.8,430.0 1852.1,428.2 1852.3,430.2 1852.5,420.4 1852.8,416.1 1853.0,428.8 1853.2,423.3 1853.5,407.1 1853.7,388.6 1854.0,370.3 1854.2,360.6 1854.4,355.2 1854.7,371.3 1854.9,378.9 1855.2,381.0 1855.4,356.8 1855.6,357.9 1855.9,369.5 1856.1,405.5 1856.3,383.9 1856.6,343.3 1856.8,321.2 1857.1,294.2 1857.3,312.6 1857.5,293.5 1857.8,310.2 1858.0,278.7 1858.3,272.9 1858.5,273.3 1858.7,255.0 1859.0,233.5 1859.2,244.5 1859.4,242.1 1859.7,241.0 1859.9,249.9 1860.2,262.2 1860.4,294.4 1860.6,296.2 1860.9,295.6 1861.1,327.8 1861.3,322.2 1861.6,325.4 1861.8,334.8 1862.1,347.8 1862.3,339.4 1862.5,335.2 1862.8,373.4 1863.0,359.7 1863.2,349.9 1863.5,353.4 1863.7,347.5 1864.0,350.4 1864.2,368.1 1864.4,374.8 1864.7,390.5 1864.9,411.5 1865.1,364.9 1865.4,414.9 1865.6,445.9 1865.9,416.4 1866.1,429.1 1866.3,407.2 1866.6,422.9 1866.8,454.1 1867.0,438.0 1867.3,447.3 1867.5,426.4 1867.8,435.0 1868.0,415.1 1868.2,443.2 1868.5,458.4 1868.7,455.3 1868.9,456.2 1869.2,411.7 1869.4,407.3 1869.7,435.6 1869.9,436.4 1870.1,407.0 1870.4,421.5 1870.6,447.5 1870.9,428.5 1871.1,455.4 1871.3,434.6 1871.6,411.9 1871.8,387.4 1872.1,390.0 1872.3,389.4 1872.5,347.3 1872.8,325.9 1873.0,354.0 1873.2,381.8 1873.5,352.8 1873.7,322.4 1874.0,320.8 1874.2,319.8 1874.4,307.7 1874.7,326.1 1874.9,303.0 1875.2,263.2 1875.4,255.0 1875.6,240.6 1875.9,266.2 1876.1,264.4 1876.4,256.6 1876.6,235.7 1876.8,229.7 1877.1,206.5 1877.3,215.0 1877.5,223.8 1877.8,240.0 1878.0,250.6 1878.3,277.2 1878.5,226.8 1878.8,265.7 1879.0,280.7 1879.2,286.0 1879.5,307.4 1879.7,316.7 1880.0,321.1 1880.2,286.3 1880.4,315.8 1880.7,293.6 1880.9,274.5 1881.2,276.7 1881.4,311.2 1881.6,328.0 1881.9,325.3 1882.1,338.1 1882.4,363.8 1882.6,404.8 1882.8,393.7 1883.1,374.9 1883.3,373.8 1883.6,390.5 1883.8,363.6 1884.0,363.5 1884.3,383.5 1884.5,421.7 1884.8,412.4 1885.0,371.9 1885.2,366.1 1885.5,417.2 1885.7,379.8 1886.0,369.8 1886.2,384.1 1886.5,410.6 1886.7,427.6 1886.9,411.5 1887.2,391.4 1887.4,379.8 1887.6,367.9 1887.9,400.0 1888.1,376.9 1888.3,372.8 1888.6,366.2 1888.8,369.3 1889.1,363.5 1889.3,401.1 1889.5,342.9 1889.8,366.1 1890.0,338.6 1890.2,294.1 1890.5,320.1 1890.7,295.0 1890.9,305.0 1891.2,267.3 1891.4,242.1 1891.6,245.0 1891.9,245.5 1892.1,189.8 1892.4,203.6 1892.6,186.3 1892.8,193.9 1893.1,190.5 1893.3,221.6 1893.6,222.0 1893.8,239.7 1894.0,265.6 1894.3,249.5 1894.5,249.4 1894.8,235.5 1895.0,231.8 1895.2,246.8 1895.5,266.6 1895.7,273.7 1896.0,280.1 1896.2,284.2 1896.4,272.0 1896.7,286.8 1896.9,323.9 1897.2,306.1 1897.4,282.5 1897.7,317.5 1897.9,326.5 1898.1,329.4 1898.4,352.1 1898.6,328.5 1898.9,357.6 1899.1,366.3 1899.3,351.1 1899.6,350.1 1899.8,374.6 1900.1,405.9 1900.3,397.8 1900.5,436.7 1900.8,396.9 1901.0,400.3 1901.3,409.2 1901.5,414.9 1901.7,436.0 1902.0,429.3 1902.2,456.1 1902.5,460.4 1902.7,457.5 1903.0,431.0 1903.2,426.2 1903.4,416.6 1903.7,422.3 1903.9,398.7 1904.1,429.8 1904.4,445.8 1904.6,400.6 1904.9,392.0 1905.1,411.9 1905.3,429.8 1905.6,409.6 1905.8,407.1 1906.1,368.3 1906.3,338.8 1906.5,323.5 1906.8,377.6 1907.0,415.3 1907.3,353.9 1907.5,341.5 1907.7,346.3 1908.0,354.4 1908.2,345.5 1908.5,334.6 1908.7,278.4 1908.9,287.5 1909.2,260.0 1909.4,252.4 1909.6,254.5 1909.9,224.7 1910.1,222.1 1910.4,242.3 1910.6,260.2 1910.8,259.1 1911.1,267.6 1911.3,247.4 1911.6,255.8 1911.8,232.6 1912.0,226.0 1912.3,203.4 1912.5,194.3 1912.8,182.8 1913.0,181.2 1913.2,201.3 1913.5,195.8 1913.7,203.9 1914.0,196.1 1914.2,182.0 1914.4,213.6 1914.7,226.6 1914.9,239.7 1915.2,265.2 1915.4,304.3 1915.6,304.9 1915.9,300.9 1916.1,285.2 1916.4,308.1 1916.6,275.5 1916.8,254.1 1917.1,272.9 1917.3,319.7 1917.6,325.3 1917.8,334.1 1918.0,332.8 1918.3,348.0 1918.5,326.6 1918.8,353.2 1919.0,304.1 1919.2,315.1 1919.5,335.4 1919.7,307.7 1920.0,379.2 1920.2,417.6 1920.5,412.6 1920.7,384.0 1920.9,425.0 1921.2,427.9 1921.4,432.2 1921.7,423.5 1921.9,424.1 1922.1,423.2 1922.4,429.0 1922.6,432.8 1922.9,411.4 1923.1,388.5 1923.3,340.7 1923.6,352.6 1923.8,342.5 1924.0,373.8 1924.3,382.8 1924.5,368.4 1924.7,345.4 1925.0,347.0 1925.2,353.0 1925.4,370.1 1925.7,378.1 1925.9,322.5 1926.2,305.6 1926.4,313.2 1926.6,324.9 1926.9,288.7 1927.1,282.2 1927.3,285.7 1927.6,250.8 1927.8,214.8 1928.0,230.6 1928.3,227.0 1928.5,208.4 1928.8,217.0 1929.0,245.1 1929.2,256.6 1929.5,242.6 1929.7,261.0 1930.0,264.5 1930.2,267.5 1930.5,241.0 1930.7,254.7 1930.9,301.2 1931.2,302.0 1931.4,310.7 1931.7,279.2 1931.9,266.5 1932.2,281.9 1932.4,316.1 1932.7,336.3 1932.9,341.7 1933.1,360.0 1933.4,351.9 1933.6,350.6 1933.9,363.2 1934.1,362.2 1934.4,363.9 1934.6,348.8 1934.8,369.1 1935.1,381.2 1935.3,380.3 1935.6,327.3 1935.8,398.8 1936.1,389.7 1936.3,393.5 1936.5,380.9 1936.8,370.6 1937.0,411.3 1937.3,406.4 1937.5,433.1 1937.8,446.2 1938.0,444.0 1938.2,435.6 1938.5,420.1 1938.7,426.9 1939.0,444.2 1939.2,424.6 1939.5,409.6 1939.7,415.3 1939.9,393.2 1940.2,421.8 1940.4,388.8 1940.7,405.3 1940.9,359.8 1941.2,340.7 1941.4,394.9 1941.6,370.9 1941.9,420.6 1942.1,396.7 1942.4,395.0 1942.6,365.2 1942.9,377.1 1943.1,338.3 1943.3,356.9 1943.6,312.7 1943.8,282.5 1944.1,277.1 1944.3,269.1 1944.6,263.1 1944.8,268.8 1945.0,246.9 1945.3,249.2 1945.5,248.6 1945.8,250.9 1946.0,234.2 1946.3,221.6 1946.5,210.6 1946.7,188.3 1947.0,189.3 1947.2,222.7 1947.5,196.3 1947.7,214.4 1947.9,229.8 1948.2,266.4 1948.4,256.7 1948.6,237.6 1948.9,268.1 1949.1,266.9 1949.4,243.0 1949.6,255.1 1949.8,292.2 1950.1,303.6 1950.3,303.5 1950.5,274.1 1950.8,284.3 1951.0,305.1 1951.3,357.7 1951.5,346.3 1951.7,341.5 1952.0,366.7 1952.2,359.7 1952.5,355.6 1952.7,365.7 1952.9,370.4 1953.2,342.2 1953.4,380.1 1953.6,379.8 1953.9,386.1 1954.1,359.1 1954.4,402.7 1954.6,400.5 1954.8,405.3 1955.1,428.9 1955.3,424.7 1955.6,405.7 1955.8,415.6 1956.0,426.4 1956.3,401.8 1956.5,375.5 1956.8,360.1 1957.0,365.5 1957.3,373.1 1957.5,391.9 1957.7,391.3 1958.0,355.4 1958.2,352.3 1958.5,323.6 1958.7,335.2 1959.0,329.6 1959.2,318.3 1959.4,312.9 1959.7,292.0 1959.9,294.0 1960.2,293.1 1960.4,275.3 1960.7,282.6 1960.9,247.6 1961.1,248.1 1961.4,260.5 1961.6,250.3 1961.9,227.0 1962.1,230.7 1962.4,272.6 1962.6,258.8 1962.8,273.3 1963.1,281.2 1963.3,278.1 1963.6,285.3 1963.8,310.8 1964.0,282.1 1964.3,314.4 1964.5,295.5 1964.8,298.5 1965.0,318.6 1965.3,351.1 1965.5,355.9 1965.7,382.5 1966.0,367.8 1966.2,374.4 1966.5,379.7 1966.7,350.5 1966.9,343.3 1967.2,347.0 1967.4,348.6 1967.7,386.5 1967.9,385.2 1968.1,399.6 1968.4,429.6 1968.6,395.2 1968.9,414.7 1969.1,390.0 1969.3,396.6 1969.6,391.9 1969.8,351.1 1970.1,367.4 1970.3,390.0 1970.6,409.3 1970.8,383.0 1971.0,387.6 1971.3,426.1 1971.5,440.2 1971.8,446.9 1972.0,442.9 1972.2,444.0 1972.5,443.1 1972.7,436.9 1972.9,411.5 1973.2,411.4 1973.4,383.5 1973.7,366.6 1973.9,388.6 1974.1,350.2 1974.4,369.8 1974.6,398.2 1974.9,373.1 1975.1,373.9 1975.3,349.4 1975.6,384.8 1975.8,362.7 1976.0,375.9 1976.3,338.4 1976.5,335.5 1976.8,295.0 1977.0,286.6 1977.2,274.5 1977.5,270.3 1977.7,297.5 1978.0,298.6 1978.2,299.3 1978.4,291.4 1978.7,290.9 1978.9,282.9 1979.1,253.7 1979.4,266.9 1979.6,239.3 1979.9,229.7 1980.1,218.7 1980.3,249.6 1980.6,263.7 1980.8,268.8 1981.0,274.3 1981.3,281.7 1981.5,266.2 1981.8,265.5 1982.0,291.1 1982.2,321.6 1982.5,328.5 1982.7,322.8 1982.9,304.8 1983.2,324.3 1983.4,314.0 1983.7,353.1 1983.9,328.2 1984.1,351.3 1984.4,362.6 1984.6,365.7 1984.9,409.0 1985.1,359.4 1985.3,384.0 1985.6,379.3 1985.8,367.3 1986.0,376.2 1986.3,374.6 1986.5,372.9 1986.8,357.7 1987.0,357.0 1987.2,405.0 1987.5,402.3 1987.7,409.2 1987.9,408.5 1988.2,409.7 1988.4,409.0 1988.7,406.2 1988.9,408.2 1989.1,381.2 1989.4,373.7 1989.6,382.2 1989.9,385.0 1990.1,391.6 1990.3,362.2 1990.6,326.7 1990.8,377.8 1991.1,335.5 1991.3,356.1 1991.5,366.8 1991.8,356.5 1992.0,352.7 1992.3,348.5 1992.5,346.8 1992.8,331.1 1993.0,323.0 1993.2,352.5 1993.5,333.6 1993.7,345.1 1994.0,339.5 1994.2,349.9 1994.4,340.8 1994.7,341.4 1994.9,328.0 1995.2,302.1 1995.4,288.9 1995.6,314.5 1995.9,284.4 1996.1,294.1 1996.4,266.1 1996.6,263.5 1996.8,285.1 1997.1,264.0 1997.3,245.5 1997.6,225.8 1997.8,222.5 1998.0,257.2 1998.3,243.6 1998.5,237.1 1998.8,268.6 1999.0,283.2 1999.2,288.6 1999.5,295.7 1999.7,303.6 1999.9,336.2 2000.2,333.8 2000.4,345.6 2000.7,368.0 2000.9,362.2 2001.1,368.5 2001.4,388.2 2001.6,367.9 2001.9,377.4 2002.1,375.5 2002.3,362.9 2002.6,364.7 2002.8,406.4 2003.0,407.2 2003.3,413.7 2003.5,443.5 2003.8,463.7 2004.0,403.7 2004.2,423.7 2004.5,440.9 2004.7,459.3 2005.0,465.4 2005.2,428.8 2005.4,441.7 2005.7,432.2 2005.9,461.7 2006.1,470.0 2006.4,451.9 2006.6,468.9 2006.9,462.2 2007.1,460.5 2007.3,453.0 2007.6,456.0 2007.8,446.4 2008.1,454.3 2008.3,445.9 2008.5,422.7 2008.8,426.8 2009.0,421.3 2009.2,432.7 2009.5,389.1 2009.7,403.6 2010.0,425.2 2010.2,402.8 2010.4,401.8 2010.7,438.1 2010.9,433.9 2011.2,357.1 2011.4,373.0 2011.6,390.4 2011.9,376.4 2012.1,376.8 2012.3,351.2 2012.6,350.4 2012.8,330.1 2013.1,334.3 2013.3,351.5 2013.5,348.5 2013.8,339.1 2014.0,297.0 2014.3,270.4 2014.5,258.9 2014.7,255.7 2015.0,248.5 2015.2,239.2 2015.5,213.7 2015.7,209.5 2015.9,191.0 2016.2,184.5 2016.4,176.1 2016.6,185.4 2016.9,176.3 2017.1,197.9 2017.4,215.7 2017.6,218.3 2017.8,251.9 2018.1,293.8 2018.3,267.6 2018.6,242.8 2018.8,255.0 2019.0,287.1 2019.3,269.9 2019.5,282.7 2019.8,296.9 2020.0,325.0 2020.2,322.1 2020.5,290.4 2020.7,314.1 2020.9,265.6 2021.2,283.4 2021.4,322.2 2021.7,326.8 2021.9,318.1 2022.1,330.7 2022.4,329.2 2022.6,347.4 2022.9,349.5 2023.1,370.4 2023.3,357.1 2023.6,329.5 2023.8,378.9 2024.1,372.9 2024.3,351.5 2024.5,375.8 2024.8,375.6 2025.0,381.3 2025.3,371.2 2025.5,366.0 2025.7,358.5 2026.0,377.3 2026.2,358.3 2026.4,365.6 2026.7,399.5 2026.9,436.0 2027.2,417.0 2027.4,383.5 2027.6,411.5 2027.9,385.2 2028.1,401.2 2028.4,401.5 2028.6,412.2 2028.9,381.7 2029.1,369.8 2029.3,381.1 2029.6,414.6 2029.8,398.9 2030.1,382.0 2030.3,360.4 2030.5,318.2 2030.8,326.2 2031.0,314.0 2031.3,281.3 2031.5,290.0 2031.7,247.8 2032.0,253.9 2032.2,246.8 2032.5,234.4 2032.7,216.5 2032.9,222.0 2033.2,239.9 2033.4,259.9 2033.7,262.1 2033.9,272.0 2034.1,289.7 2034.4,268.3 2034.6,285.3 2034.9,273.5 2035.1,288.3 2035.3,323.4 2035.6,286.6 2035.8,276.3 2036.1,283.5 2036.3,291.3 2036.5,333.7 2036.8,313.6 2037.0,335.0 2037.3,366.4 2037.5,388.7 2037.8,419.1 2038.0,397.1 2038.2,397.1 2038.5,393.2 2038.7,414.4 2039.0,397.5 2039.2,415.0 2039.4,434.4 2039.7,428.8 2039.9,397.0 2040.2,430.6 2040.4,450.5 2040.6,438.6 2040.9,456.9 2041.1,438.2 2041.4,439.7 2041.6,437.2 2041.8,455.1 2042.1,450.9 2042.3,459.1 2042.6,447.9 2042.8,453.0 2043.0,382.0 2043.3,431.1 2043.5,438.7 2043.8,409.0 2044.0,382.0 2044.2,347.4 2044.5,398.4 2044.7,426.7 2045.0,386.1 2045.2,406.0 2045.5,361.5 2045.7,385.4 2045.9,380.8 2046.2,343.0 2046.4,349.7 2046.7,324.3 2046.9,283.5 2047.1,312.9 2047.4,304.2 2047.6,260.6 2047.9,283.5 2048.1,280.1 2048.3,245.1 2048.6,238.3 2048.8,253.6 2049.1,244.9 2049.3,220.7 2049.5,201.5 2049.8,205.1 2050.0,177.3 2050.3,191.7 2050.5,182.2 2050.7,180.3 2051.0,178.2 2051.2,183.9 2051.5,198.0 2051.7,242.8 2052.0,273.7 2052.2,276.8 2052.4,308.6 2052.7,298.8 2052.9,304.4 2053.2,311.4 2053.4,313.4 2053.6,319.8 2053.9,321.8 2054.1,307.6 2054.4,298.2 2054.6,313.0 2054.8,350.4 2055.1,339.2 2055.3,329.4 2055.6,324.0 2055.8,352.6 2056.0,363.5 2056.3,350.0 2056.5,371.7 2056.8,377.1 2057.0,396.5 2057.3,383.8 2057.5,404.9 2057.7,406.9 2058.0,416.7 2058.2,398.5 2058.5,390.7 2058.7,388.3 2058.9,388.6 2059.2,396.1 2059.4,363.1 2059.7,354.0 2059.9,360.2 2060.1,366.5 2060.4,343.8 2060.6,344.1 2060.9,393.1 2061.1,353.8 2061.3,310.0 2061.6,305.2 2061.8,318.9 2062.0,326.2 2062.3,309.0 2062.5,292.6 2062.8,266.1 2063.0,272.5 2063.2,289.4 2063.5,296.1 2063.7,279.1 2064.0,259.7 2064.2,259.7 2064.4,255.2 2064.7,233.1 2064.9,236.7 2065.2,231.2 2065.4,237.6 2065.6,235.0 2065.9,245.4 2066.1,246.4 2066.4,281.3 2066.6,296.9 2066.8,275.4 2067.1,303.6 2067.3,328.5 2067.6,330.0 2067.8,313.8 2068.0,282.8 2068.3,308.0 2068.5,333.5 2068.8,330.7 2069.0,315.8 2069.2,324.6 2069.5,312.9 2069.7,372.7 2070.0,366.9 2070.2,345.9 2070.4,364.0 2070.7,361.4 2070.9,381.1 2071.1,386.1 2071.4,373.3 2071.6,411.0 2071.9,407.8 2072.1,396.3 2072.3,417.8 2072.6,453.9 2072.8,405.8 2073.1,450.2 2073.3,443.3 2073.5,440.3 2073.8,447.0 2074.0,425.8 2074.3,448.3 2074.5,432.2 2074.7,453.3 2075.0,451.0 2075.2,448.7 2075.5,446.6 2075.7,447.5 2075.9,453.9 2076.2,445.2 2076.4,453.1 2076.7,449.6 2076.9,445.9 2077.1,437.4 2077.4,407.0 2077.6,433.6 2077.9,440.3 2078.1,448.5 2078.3,445.4 2078.6,442.9 2078.8,427.6 2079.1,371.5 2079.3,399.5 2079.5,398.9 2079.8,407.7 2080.0,394.4 2080.3,371.9 2080.5,389.8 2080.8,354.8 2081.0,338.0 2081.2,342.3 2081.5,343.6 2081.7,363.8 2082.0,319.7 2082.2,331.7 2082.4,318.1 2082.7,317.0 2082.9,318.7 2083.2,314.0 2083.4,318.2 2083.6,306.8 2083.9,300.5 2084.1,292.6 2084.4,280.4 2084.6,282.1 2084.8,260.3 2085.1,264.1 2085.3,278.0 2085.6,230.0 2085.8,237.6 2086.0,241.8 2086.3,259.5 2086.5,254.9 2086.8,245.4 2087.0,288.1 2087.2,303.9 2087.5,300.2 2087.7,302.3 2087.9,313.4 2088.2,301.5 2088.4,296.6 2088.7,322.1 2088.9,317.5 2089.1,309.6 2089.4,303.3 2089.6,296.4 2089.8,309.2 2090.1,317.3 2090.3,343.6 2090.6,351.6 2090.8,355.0 2091.0,347.0 2091.3,345.2 2091.5,347.5 2091.7,358.4 2092.0,356.8 2092.2,409.1 2092.5,400.0 2092.7,382.9 2092.9,396.2 2093.2,407.7 2093.4,397.1 2093.6,409.7 2093.9,392.4 2094.1,373.2 2094.4,391.1 2094.6,356.5 2094.9,360.7 2095.1,347.2 2095.4,359.1 2095.6,367.5 2095.8,331.5 2096.1,352.4 2096.3,342.3 2096.6,364.9 2096.8,336.0 2097.1,335.2 2097.3,329.8 2097.5,301.4 2097.8,284.0 2098.0,298.3 2098.3,299.4 2098.5,284.8 2098.8,286.1 2099.0,272.6 2099.3,258.7 2099.5,229.8 2099.7,195.8 2100.0,182.8 2100.2,194.3 2100.5,183.8 2100.7,179.2 2101.0,174.8 2101.2,181.8 2101.4,202.5 2101.7,227.4 2101.9,217.1 2102.2,188.6 2102.4,216.4 2102.6,236.1 2102.9,251.1 2103.1,230.5 2103.4,261.8 2103.6,262.1 2103.8,250.6 2104.1,273.8 2104.3,298.7 2104.6,272.8 2104.8,351.5 2105.0,359.8 2105.3,385.4 2105.5,378.9 2105.8,340.1 2106.0,359.9 2106.3,330.6 2106.5,376.9 2106.7,372.1 2107.0,373.6 2107.2,335.5 2107.5,368.3 2107.7,396.3 2107.9,374.6 2108.2,364.7 2108.4,343.5 2108.7,346.0 2108.9,356.2 2109.1,374.3 2109.4,390.0 2109.6,418.9 2109.9,443.2 2110.1,431.2 2110.3,420.7 2110.6,445.6 2110.8,430.2 2111.1,392.5 2111.3,401.9 2111.5,420.4 2111.8,420.0 2112.0,387.5 2112.3,379.3 2112.5,351.7 2112.7,348.3 2113.0,365.7 2113.2,364.9 2113.5,367.3 2113.7,366.4 2113.9,371.3 2114.2,374.6 2114.4,363.1 2114.7,367.0 2114.9,345.3 2115.2,353.9 2115.4,335.8 2115.6,340.7 2115.9,332.4 2116.1,344.7 2116.4,325.1 2116.6,288.4 2116.8,275.7 2117.1,279.1 2117.3,270.2 2117.6,264.4 2117.8,244.5 2118.0,237.1 2118.3,201.8 2118.5,218.8 2118.8,224.1 2119.0,227.7 2119.2,174.2 2119.5,178.6 2119.7,163.2 2120.0,156.8 2120.2,150.4 2120.4,161.7 2120.7,174.9 2120.9,199.9 2121.2,186.8 2121.4,183.2 2121.7,197.9 2121.9,166.9 2122.1,171.1 2122.4,199.3 2122.6,239.9 2122.9,214.7 2123.1,252.5 2123.4,240.1 2123.6,257.4 2123.8,275.1 2124.1,278.2 2124.3,275.4 2124.6,283.6 2124.8,290.6 2125.0,296.6 2125.3,306.7 2125.5,302.3 2125.8,300.1 2126.0,292.6 2126.3,279.7 2126.5,300.1 2126.7,326.2 2127.0,350.1 2127.2,327.7 2127.5,325.4 2127.7,329.3 2127.9,348.3 2128.2,376.4 2128.4,358.2 2128.7,336.9 2128.9,365.8 2129.2,383.4 2129.4,390.4 2129.6,373.1 2129.9,358.2 2130.1,375.6 2130.4,372.2 2130.6,391.4 2130.9,409.0 2131.1,400.0 2131.3,382.9 2131.6,388.4 2131.8,399.3 2132.1,386.5 2132.3,378.9 2132.5,359.4 2132.8,363.6 2133.0,362.2 2133.3,338.0 2133.5,330.2 2133.8,305.7 2134.0,302.1 2134.2,269.3 2134.5,280.9 2134.7,268.0 2135.0,251.8 2135.2,266.9 2135.4,270.6 2135.7,266.7 2135.9,273.5 2136.2,274.3 2136.4,293.8 2136.6,288.1 2136.9,359.5 2137.1,334.2 2137.3,307.4 2137.6,312.6 2137.8,323.1 2138.1,300.6 2138.3,284.6 2138.5,307.1 2138.8,311.5 2139.0,332.8 2139.3,334.4 2139.5,359.4 2139.7,363.1 2140.0,371.8 2140.2,385.8 2140.4,396.3 2140.7,384.0 2140.9,398.6 2141.2,397.0 2141.4,415.3 2141.6,393.7 2141.9,371.6 2142.1,411.1 2142.4,349.1 2142.6,408.4 2142.8,411.3 2143.1,407.4 2143.3,423.6 2143.6,394.8 2143.8,417.8 2144.0,436.8 2144.3,393.1 2144.5,377.8 2144.7,403.4 2145.0,413.3 2145.2,409.3 2145.5,419.2 2145.7,428.4 2145.9,441.0 2146.2,446.1 2146.4,446.7 2146.7,450.2 2146.9,452.0 2147.1,450.3 2147.4,451.8 2147.6,410.1 2147.9,369.1 2148.1,399.6 2148.3,374.3 2148.6,349.4 2148.8,351.8 2149.1,339.7 2149.3,343.0 2149.5,322.5 2149.8,338.8 2150.0,370.4 2150.3,356.2 2150.5,327.9 2150.7,314.1 2151.0,312.8 2151.2,323.1 2151.5,300.2 2151.7,307.6 2151.9,294.1 2152.2,283.5 2152.4,274.3 2152.7,288.3 2152.9,283.3 2153.1,293.6 2153.4,248.5 2153.6,229.1 2153.9,175.0 2154.1,176.5 2154.3,170.3 2154.6,189.2 2154.8,195.7 2155.1,209.5 2155.3,198.9 2155.5,210.9 2155.8,229.6 2156.0,235.1 2156.2,220.0 2156.5,241.1 2156.7,252.0 2157.0,228.9 2157.2,236.7 2157.4,261.9 2157.7,248.2 2157.9,257.2 2158.2,260.2 2158.4,273.9 2158.6,287.8 2158.9,279.4 2159.1,282.2 2159.4,310.0 2159.6,289.8 2159.8,313.5 2160.1,294.7 2160.3,312.3 2160.5,361.5 2160.8,355.9 2161.0,399.2 2161.3,395.5 2161.5,402.9 2161.7,388.8 2162.0,365.0 2162.2,344.3 2162.5,357.7 2162.7,353.4 2162.9,326.2 2163.2,320.9 2163.4,348.8 2163.7,393.9 2163.9,372.6 2164.1,396.0 2164.4,397.0 2164.6,388.3 2164.9,403.9 2165.1,395.7 2165.3,382.7 2165.6,396.1 2165.8,388.2 2166.0,394.2 2166.3,356.6 2166.5,356.0 2166.7,359.9 2167.0,348.2 2167.2,363.0 2167.5,331.0 2167.7,341.2 2167.9,320.2 2168.2,317.4 2168.4,316.2 2168.6,309.6 2168.9,281.6 2169.1,287.9 2169.4,314.3 2169.6,313.3 2169.8,295.3 2170.1,281.8 2170.3,264.6 2170.5,249.5 2170.8,239.0 2171.0,237.3 2171.3,240.3 2171.5,239.8 2171.7,274.3 2172.0,278.9 2172.2,277.3 2172.4,305.3 2172.7,304.4 2172.9,344.8 2173.2,319.5 2173.4,290.0 2173.6,291.0 2173.9,315.9 2174.1,348.5 2174.4,348.2 2174.6,325.9 2174.8,339.7 2175.1,348.9 2175.3,357.0 2175.5,398.4 2175.8,394.8 2176.0,392.5 2176.3,403.4 2176.5,398.0 2176.7,367.2 2177.0,421.8 2177.2,383.3 2177.5,378.3 2177.7,370.1 2177.9,392.2 2178.2,427.0 2178.4,415.6 2178.7,454.6 2178.9,446.4 2179.1,429.3 2179.4,439.8 2179.6,461.6 2179.8,440.5 2180.1,392.0 2180.3,384.2 2180.6,392.1 2180.8,430.6 2181.0,363.3 2181.3,391.0 2181.5,430.1 2181.8,380.5 2182.0,344.7 2182.2,358.8 2182.5,380.6 2182.7,379.6 2183.0,387.6 2183.2,382.5 2183.4,380.2 2183.7,361.4 2183.9,348.4 2184.2,312.0 2184.4,346.1 2184.6,369.4 2184.9,337.4 2185.1,331.9 2185.4,325.1 2185.6,282.0 2185.8,276.4 2186.1,250.2 2186.3,223.1 2186.6,234.0 2186.8,248.0 2187.0,237.8 2187.3,239.2 2187.5,198.0 2187.8,209.6 2188.0,204.3 2188.2,205.3 2188.5,203.7 2188.7,196.3 2189.0,204.9 2189.2,226.5 2189.5,239.5 2189.7,203.1 2189.9,225.6 2190.2,240.7 2190.4,244.4 2190.7,243.6 2190.9,269.5 2191.1,237.5 2191.4,262.7 2191.6,288.8 2191.9,290.2 2192.1,308.1 2192.3,304.9 2192.6,304.2 2192.8,286.5 2193.1,296.5 2193.3,340.3 2193.5,365.0 2193.8,358.4 2194.0,356.1 2194.3,373.2 2194.5,384.9 2194.7,351.4 2195.0,321.4 2195.2,361.4 2195.5,386.8 2195.7,365.2 2195.9,365.0 2196.2,385.3 2196.4,421.3 2196.7,415.6 2196.9,409.0 2197.1,411.4 2197.4,391.8 2197.6,419.9 2197.9,422.6 2198.1,426.6 2198.4,427.0 2198.6,417.7 2198.8,411.4 2199.1,425.0 2199.3,422.8 2199.5,388.8 2199.8,376.1 2200.0,351.6 2200.3,356.3 2200.5,321.2 2200.7,317.5 2201.0,296.3 2201.2,321.7 2201.5,284.5 2201.7,311.3 2201.9,282.9 2202.2,288.2 2202.4,307.2 2202.7,280.5 2202.9,315.7 2203.1,300.5 2203.4,275.6 2203.6,294.1 2203.9,289.7 2204.1,268.9 2204.3,248.8 2204.6,232.1 2204.8,236.4 2205.1,222.2 2205.3,203.2 2205.5,199.8 2205.8,220.4 2206.0,209.3 2206.3,215.6 2206.5,250.8 2206.7,243.8 2207.0,260.2 2207.2,293.6 2207.4,291.2 2207.7,295.5 2207.9,295.6 2208.2,285.9 2208.4,318.5 2208.6,359.4 2208.9,362.0 2209.1,372.1 2209.4,347.9 2209.6,347.2 2209.8,360.3 2210.1,330.3 2210.3,346.2 2210.5,343.9 2210.8,373.4 2211.0,379.6 2211.3,378.4 2211.5,384.9 2211.7,368.7 2212.0,371.1 2212.2,388.5 2212.5,393.4 2212.7,392.8 2212.9,407.9 2213.2,439.9 2213.4,444.1 2213.7,469.8 2213.9,456.2 2214.1,472.8 2214.4,442.1 2214.6,453.0 2214.8,463.8 2215.1,464.1 2215.3,467.5 2215.6,458.9 2215.8,473.2 2216.0,472.8 2216.3,471.7 2216.5,453.2 2216.8,472.2 2217.0,457.2 2217.2,463.0 2217.5,448.0 2217.7,450.8 2218.0,409.7 2218.2,367.9 2218.4,369.3 2218.7,371.9 2218.9,370.4 2219.2,351.4 2219.4,367.2 2219.6,353.6 2219.9,376.8 2220.1,374.2 2220.3,374.0 2220.6,372.1 2220.8,340.1 2221.1,361.0 2221.3,355.7 2221.5,286.5 2221.8,301.8 2222.0,299.7 2222.3,275.1 2222.5,276.4 2222.7,293.9 2223.0,279.8 2223.2,266.2 2223.5,270.2 2223.7,277.1 2223.9,232.7 2224.2,206.8 2224.4,196.1 2224.7,189.3 2224.9,192.9 2225.1,204.6 2225.4,219.3 2225.6,220.9 2225.8,235.3 2226.1,254.7 2226.3,253.9 2226.6,246.7 2226.8,269.7 2227.0,258.2 2227.3,290.0 2227.5,318.3 2227.7,313.3 2228.0,341.1 2228.2,367.2 2228.5,359.9 2228.7,340.2 2228.9,324.0 2229.2,338.2 2229.4,336.4 2229.6,362.9 2229.9,352.2 2230.1,328.1 2230.4,339.5 2230.6,374.3 2230.8,376.4 2231.1,324.9 2231.3,309.7 2231.5,355.6 2231.8,384.0 2232.0,415.9 2232.3,392.8 2232.5,416.1 2232.7,416.7 2233.0,405.1 2233.2,402.0 2233.5,405.3 2233.7,388.8 2233.9,377.3 2234.2,382.0 2234.4,381.3 2234.7,376.2 2234.9,392.5 2235.1,368.3 2235.4,375.0 2235.6,400.0 2235.9,370.5 2236.1,352.5 2236.3,360.4 2236.6,367.8 2236.8,384.2 2237.1,356.3 2237.3,332.9 2237.5,334.4 2237.8,351.3 2238.0,321.2 2238.3,326.7 2238.5,330.7 2238.7,326.7 2239.0,289.7 2239.2,270.6 2239.5,286.3 2239.7,268.4 2239.9,275.3 2240.2,236.4 2240.4,256.3 2240.7,241.9 2240.9,258.5 2241.1,267.7 2241.4,274.5 2241.6,278.4 2241.9,278.0 2242.1,307.3 2242.3,325.9 2242.6,334.8 2242.8,349.1 2243.0,327.6 2243.3,332.2 2243.5,355.1 2243.8,338.8 2244.0,346.3 2244.2,358.9 2244.5,370.4 2244.7,365.8 2245.0,348.0 2245.2,338.1 2245.4,333.9 2245.7,361.7 2245.9,366.8 2246.2,365.3 2246.4,401.1 2246.6,387.6 2246.9,339.1 2247.1,349.3 2247.4,360.7 2247.6,347.9 2247.8,371.8 2248.1,391.6 2248.3,443.9 2248.5,435.9 2248.8,424.4 2249.0,394.2 2249.3,444.8 2249.5,443.6 2249.7,453.5 2250.0,421.2 2250.2,448.0 2250.5,448.7 2250.7,455.2 2250.9,446.0 2251.2,442.7 2251.4,440.7 2251.7,447.1 2251.9,421.3 2252.1,453.6 2252.4,407.5 2252.6,404.7 2252.8,371.6 2253.1,410.3 2253.3,415.3 2253.6,396.0 2253.8,373.0 2254.0,367.9 2254.3,380.3 2254.5,351.3 2254.7,348.5 2255.0,353.2 2255.2,370.5 2255.5,339.5 2255.7,323.2 2255.9,334.6 2256.2,323.0 2256.4,327.7 2256.7,326.5 2256.9,303.1 2257.1,285.7 2257.4,271.3 2257.6,235.5 2257.8,229.4 2258.1,235.9 2258.3,215.8 2258.6,222.5 2258.8,175.1 2259.0,164.5 2259.3,191.9 2259.5,168.2 2259.8,201.8 2260.0,214.3 2260.2,198.1 2260.5,222.4 2260.7,263.6 2261.0,251.2 2261.2,265.4 2261.4,259.9 2261.7,282.1 2261.9,258.6 2262.2,248.7 2262.4,261.0 2262.6,294.2 2262.9,300.0 2263.1,317.8 2263.4,313.7 2263.6,297.7 2263.8,359.7 2264.1,354.8 2264.3,357.3 2264.6,338.0 2264.8,333.7 2265.0,355.8 2265.3,373.6 2265.5,353.6 2265.8,359.0 2266.0,359.4 2266.2,389.9 2266.5,373.0 2266.7,412.0 2267.0,412.4 2267.2,398.2 2267.4,415.1 2267.7,409.6 2267.9,399.8 2268.2,410.0 2268.4,416.7 2268.6,393.7 2268.9,391.8 2269.1,394.8 2269.4,376.6 2269.6,409.2 2269.8,415.0 2270.1,405.8 2270.3,407.3 2270.5,395.4 2270.8,358.8 2271.0,352.6 2271.3,365.3 2271.5,381.9 2271.7,381.3 2272.0,321.7 2272.2,308.7 2272.4,332.2 2272.7,280.3 2272.9,298.5 2273.2,297.7 2273.4,302.5 2273.6,289.9 2273.9,279.1 2274.1,262.2 2274.3,281.5 2274.6,249.0 2274.8,235.1 2275.1,236.9 2275.3,257.8 2275.5,253.4 2275.8,282.8 2276.0,296.2 2276.3,281.0 2276.5,266.9 2276.7,290.1 2277.0,302.4 2277.2,320.1 2277.4,327.5 2277.7,363.0 2277.9,347.5 2278.2,303.1 2278.4,316.4 2278.6,308.8 2278.9,331.9 2279.1,327.7 2279.3,354.5 2279.6,354.6 2279.8,350.8 2280.1,380.7 2280.3,403.6 2280.5,408.8 2280.8,415.3 2281.0,363.5 2281.3,390.8 2281.5,418.9 2281.7,439.4 2282.0,419.7 2282.2,398.7 2282.4,436.1 2282.7,438.7 2282.9,446.2 2283.2,446.2 2283.4,442.9 2283.6,433.1 2283.9,442.8 2284.1,442.2 2284.4,438.2 2284.6,433.1 2284.8,412.0 2285.1,424.5 2285.3,360.9 2285.6,347.2 2285.8,380.1 2286.1,343.5 2286.3,373.5 2286.5,381.4 2286.8,341.8 2287.0,339.1 2287.3,389.7 2287.5,401.9 2287.7,388.1 2288.0,364.3 2288.2,367.6 2288.5,333.4 2288.7,341.6 2288.9,368.3 2289.2,395.3 2289.4,381.1 2289.7,352.4 2289.9,326.8 2290.2,319.0 2290.4,319.8 2290.6,327.2 2290.9,329.3 2291.1,314.9 2291.4,286.0 2291.6,297.8 2291.8,310.5 2292.1,258.5 2292.3,263.0 2292.6,255.8 2292.8,244.7 2293.0,231.1 2293.3,227.6 2293.5,205.6 2293.8,195.0 2294.0,199.4 2294.3,212.9 2294.5,202.8 2294.7,193.3 2295.0,178.6 2295.2,169.4 2295.5,217.9 2295.7,245.5 2295.9,241.4 2296.2,228.0 2296.4,238.1 2296.6,240.5 2296.9,231.0 2297.1,270.8 2297.4,246.9 2297.6,263.2 2297.8,306.1 2298.1,290.7 2298.3,277.1 2298.5,314.6 2298.8,318.1 2299.0,324.8 2299.2,323.1 2299.5,303.0 2299.7,343.1 2300.0,330.2 2300.2,350.6 2300.4,348.5 2300.7,364.2 2300.9,366.7 2301.1,370.4 2301.4,384.7 2301.6,384.5 2301.9,384.3 2302.1,381.5 2302.4,362.4 2302.6,368.9 2302.8,368.7 2303.1,372.1 2303.3,378.3 2303.6,365.4 2303.8,338.4 2304.1,337.8 2304.3,309.9 2304.5,306.5 2304.8,286.2 2305.0,307.2 2305.3,303.2 2305.5,280.1 2305.8,280.6 2306.0,288.1 2306.3,299.6 2306.5,304.2 2306.7,296.7 2307.0,288.2 2307.2,300.6 2307.5,286.0 2307.7,289.6 2308.0,278.3 2308.2,269.0 2308.4,249.8 2308.7,246.4 2308.9,256.9 2309.2,252.7 2309.4,266.2 2309.7,270.5 2309.9,251.6 2310.1,255.3 2310.4,266.5 2310.6,286.2 2310.9,291.9 2311.1,302.4 2311.3,281.1 2311.6,303.1 2311.8,306.0 2312.1,327.3 2312.3,334.2 2312.5,306.5 2312.8,356.9 2313.0,377.0 2313.3,357.6 2313.5,373.1 2313.7,345.4 2314.0,349.7 2314.2,361.3 2314.5,365.8 2314.7,328.1 2314.9,357.6 2315.2,379.5 2315.4,397.4 2315.7,400.0 2315.9,385.3 2316.2,386.7 2316.4,377.1 2316.6,363.0 2316.9,378.4 2317.1,412.9 2317.4,386.6 2317.6,417.6 2317.8,434.9 2318.1,420.9 2318.3,435.3 2318.6,410.9 2318.8,348.7 2319.0,340.2 2319.3,361.3 2319.5,370.9 2319.8,404.9 2320.0,399.0 2320.3,363.1 2320.5,371.4 2320.7,354.3 2321.0,367.7 2321.2,376.9 2321.5,352.4 2321.7,367.9 2322.0,338.7 2322.2,363.1 2322.4,342.7 2322.7,373.5 2322.9,367.6 2323.2,326.9 2323.4,311.5 2323.6,314.3 2323.9,307.6 2324.1,307.6 2324.4,303.3 2324.6,289.0 2324.9,281.1 2325.1,288.6 2325.3,310.8 2325.6,293.3 2325.8,311.8 2326.1,296.8 2326.3,271.6 2326.6,279.1 2326.8,251.9 2327.0,247.8 2327.3,234.3 2327.5,274.4 2327.8,284.4 2328.0,261.1 2328.3,260.7 2328.5,229.1 2328.7,226.0 2329.0,227.2 2329.2,210.7 2329.5,216.6 2329.7,239.3 2329.9,250.1 2330.2,234.0 2330.4,245.4 2330.7,228.9 2330.9,283.6 2331.1,245.7 2331.4,274.4 2331.6,261.4 2331.9,233.5 2332.1,266.3 2332.3,334.1 2332.6,339.3 2332.8,352.1 2333.1,338.0 2333.3,362.6 2333.6,338.5 2333.8,369.9 2334.0,349.8 2334.3,333.1 2334.5,344.9 2334.8,399.7 2335.0,378.3 2335.2,364.3 2335.5,387.1 2335.7,382.8 2336.0,345.9 2336.2,400.1 2336.4,427.1 2336.7,413.4 2336.9,418.4 2337.2,380.4 2337.4,387.3 2337.6,349.3 2337.9,401.3 2338.1,398.0 2338.4,414.8 2338.6,419.9 2338.8,429.6 2339.1,428.1 2339.3,407.3 2339.6,400.3 2339.8,392.7 2340.0,393.6 2340.3,384.2 2340.5,412.0 2340.8,377.2 2341.0,366.2 2341.2,362.2 2341.5,350.5 2341.7,325.8 2342.0,317.4 2342.2,318.5 2342.4,328.4 2342.7,347.3 2342.9,309.3 2343.2,293.7 2343.4,287.2 2343.6,281.1 2343.9,258.2 2344.1,251.3 2344.4,237.0 2344.6,264.5 2344.8,262.6 2345.1,259.4 2345.3,254.3 2345.6,298.1 2345.8,305.8 2346.1,287.4 2346.3,295.4 2346.5,292.7 2346.8,300.3 2347.0,320.3 2347.3,308.7 2347.5,349.6 2347.8,343.2 2348.0,343.5 2348.3,330.3 2348.5,339.1 2348.7,348.8 2349.0,356.3 2349.2,366.9 2349.5,376.8 2349.7,378.1 2350.0,373.7 2350.2,390.4 2350.4,398.6 2350.7,447.1 2350.9,409.9 2351.2,413.8 2351.4,402.7 2351.7,415.0 2351.9,366.3 2352.1,337.7 2352.4,376.8 2352.6,444.8 2352.9,441.7 2353.1,435.6 2353.4,441.0 2353.6,448.2 2353.8,418.6 2354.1,392.6 2354.3,367.4 2354.6,384.5 2354.8,416.7 2355.0,404.8 2355.3,369.2 2355.5,388.4 2355.8,397.8 2356.0,411.1 2356.2,418.1 2356.5,396.8 2356.7,322.4 2357.0,342.1 2357.2,388.7 2357.4,343.6 2357.7,351.3 2357.9,337.6 2358.2,338.7 2358.4,365.2 2358.7,349.3 2358.9,345.9 2359.1,346.6 2359.4,313.7 2359.6,323.4 2359.9,299.7 2360.1,295.2 2360.3,304.2 2360.6,293.1 2360.8,274.4 2361.1,247.6 2361.3,263.9 2361.5,255.4 2361.8,264.4 2362.0,275.4 2362.3,240.0 2362.5,250.7 2362.7,221.5 2363.0,224.4 2363.2,200.7 2363.5,243.7 2363.7,234.9 2363.9,205.3 2364.2,202.3 2364.4,242.8 2364.7,253.8 2364.9,265.3 2365.1,255.5 2365.4,249.8 2365.6,226.0 2365.9,245.1 2366.1,257.2 2366.3,286.1 2366.6,268.5 2366.8,294.5 2367.1,292.1 2367.3,283.4 2367.5,267.5 2367.8,270.1 2368.0,299.1 2368.3,339.2 2368.5,353.7 2368.7,361.0 2369.0,374.9 2369.2,370.9 2369.5,390.6 2369.7,397.6 2369.9,357.8 2370.2,374.2 2370.4,355.6 2370.7,348.8 2370.9,364.9 2371.1,345.9 2371.4,374.6 2371.6,380.1 2371.9,339.7 2372.1,381.7 2372.3,394.5 2372.6,412.9 2372.8,401.2 2373.1,394.4 2373.3,394.2 2373.6,409.1 2373.8,367.5 2374.0,396.0 2374.3,398.0 2374.5,378.4 2374.8,392.4 2375.0,351.9 2375.2,341.9 2375.5,343.4 2375.7,332.4 2376.0,329.1 2376.2,362.0 2376.4,339.8 2376.7,327.2 2376.9,324.9 2377.2,315.2 2377.4,303.1 2377.7,288.1 2377.9,275.1 2378.1,272.3 2378.4,266.0 2378.6,240.9 2378.9,252.2 2379.1,246.4 2379.3,248.8 2379.6,262.8 2379.8,248.0 2380.1,265.6 2380.3,284.0 2380.6,289.3 2380.8,265.5 2381.0,302.2 2381.3,293.0 2381.5,312.9 2381.8,306.0 2382.0,306.7 2382.2,339.6 2382.5,325.7 2382.7,347.1 2383.0,357.7 2383.2,353.2 2383.5,362.8 2383.7,366.7 2383.9,351.1 2384.2,328.5 2384.4,359.3 2384.7,342.4 2384.9,364.4 2385.1,360.9 2385.4,403.0 2385.6,413.4 2385.9,421.0 2386.1,395.7 2386.4,400.0 2386.6,389.3 2386.8,386.3 2387.1,412.9 2387.3,428.6 2387.6,392.4 2387.8,422.0 2388.0,431.8 2388.3,430.1 2388.5,431.4 2388.8,430.0 2389.0,436.6 2389.3,429.4 2389.5,430.8 2389.7,430.4 2390.0,418.4 2390.2,428.3 2390.5,402.8 2390.7,390.3 2390.9,399.0 2391.2,396.9 2391.4,399.1 2391.7,351.5 2391.9,369.1 2392.1,371.7 2392.4,336.9 2392.6,357.9 2392.9,332.3 2393.1,331.3 2393.3,329.3 2393.6,321.9 2393.8,340.8 2394.1,323.0 2394.3,310.4 2394.6,339.1 2394.8,334.2 2395.0,314.6 2395.3,287.4 2395.5,254.2 2395.8,251.7 2396.0,219.8 2396.2,221.2 2396.5,198.3 2396.7,201.0 2397.0,196.6 2397.2,204.9 2397.4,204.8 2397.7,221.8 2397.9,244.6 2398.2,217.0 2398.4,229.0 2398.6,260.7 2398.9,271.7 2399.1,262.4 2399.4,258.8 2399.6,274.2 2399.9,290.3 2400.1,251.9 2400.3,264.6 2400.6,275.8 2400.8,286.1 2401.1,292.7 2401.3,317.9 2401.5,300.6 2401.8,306.4 2402.0,310.3 2402.3,331.7 2402.5,300.6 2402.7,263.3 2403.0,292.0 2403.2,325.5 2403.5,313.3 2403.7,331.7 2403.9,347.3 2404.2,382.0 2404.4,329.1 2404.7,321.5 2404.9,364.4 2405.1,355.0 2405.4,379.1 2405.6,360.9 2405.9,345.8 2406.1,355.2 2406.3,358.5 2406.6,338.5 2406.8,369.3 2407.1,401.4 2407.3,359.6 2407.6,339.3 2407.8,332.2 2408.0,354.7 2408.3,382.0 2408.5,402.6 2408.8,400.4 2409.0,400.6 2409.2,367.6 2409.5,380.3 2409.7,382.9 2410.0,385.3 2410.2,348.5 2410.5,348.2 2410.7,362.8 2411.0,346.0 2411.2,320.1 2411.4,328.3 2411.7,297.7 2411.9,288.0 2412.2,290.8 2412.4,267.6 2412.7,280.8 2412.9,275.1 2413.1,257.5 2413.4,235.7 2413.6,264.5 2413.9,265.2 2414.1,276.5 2414.4,251.9 2414.6,282.4 2414.8,258.0 2415.1,256.3 2415.3,278.7 2415.6,285.3 2415.8,313.9 2416.0,361.5 2416.3,349.5 2416.5,350.9 2416.8,363.4 2417.0,361.4 2417.2,325.3 2417.5,344.8 2417.7,357.5 2418.0,346.6 2418.2,332.8 2418.4,358.9 2418.7,368.5 2418.9,392.1 2419.2,426.9 2419.4,431.0 2419.7,376.5 2419.9,422.3 2420.1,416.1 2420.4,417.5 2420.6,449.4 2420.9,405.6 2421.1,429.9 2421.3,446.8 2421.6,414.1 2421.8,406.6 2422.1,408.7 2422.3,410.0 2422.5,424.3 2422.8,443.4 2423.0,447.6 2423.3,450.7 2423.5,449.6 2423.8,406.7 2424.0,398.4 2424.2,368.4 2424.5,350.7 2424.7,329.6 2425.0,335.3 2425.2,340.1 2425.5,373.1 2425.7,352.5 2425.9,327.1 2426.2,300.2 2426.4,302.5 2426.7,340.7 2426.9,360.0 2427.2,373.4 2427.4,381.9 2427.6,362.2 2427.9,340.9 2428.1,327.4 2428.4,330.1 2428.6,306.3 2428.9,293.0 2429.1,292.1 2429.3,298.8 2429.6,298.6 2429.8,289.5 2430.1,267.5 2430.3,265.3 2430.6,242.3 2430.8,205.8 2431.0,222.0 2431.3,214.2 2431.5,218.5 2431.8,223.9 2432.0,195.3 2432.2,163.2 2432.5,165.7 2432.7,174.3 2433.0,163.3 2433.2,187.6 2433.5,196.8 2433.7,193.6 2433.9,185.0 2434.2,219.2 2434.4,214.3 2434.7,228.9 2434.9,219.6 2435.1,228.3 2435.4,252.9 2435.6,232.2 2435.9,220.8 2436.1,259.1 2436.3,250.6 2436.6,259.3 2436.8,233.8 2437.1,229.9 2437.3,232.6 2437.5,279.8 2437.8,301.7 2438.0,284.6 2438.3,268.0 2438.5,298.9 2438.7,297.1 2439.0,282.7 2439.2,260.2 2439.5,275.8 2439.7,326.4 2439.9,348.1 2440.2,329.1 2440.4,303.5 2440.7,330.6 2440.9,341.1 2441.2,334.2 2441.4,369.0 2441.6,385.9 2441.9,343.6 2442.1,337.5 2442.4,338.4 2442.6,309.0 2442.8,331.4 2443.1,344.0 2443.3,366.2 2443.6,376.7 2443.8,403.9 2444.0,396.4 2444.3,380.9 2444.5,378.6 2444.8,362.9 2445.0,365.5 2445.3,343.8 2445.5,355.6 2445.8,345.0 2446.0,360.1 2446.2,348.3 2446.5,328.2 2446.7,320.4 2447.0,312.1 2447.2,308.5 2447.5,298.1 2447.7,307.4 2448.0,299.9 2448.2,288.9 2448.4,265.6 2448.7,258.5 2448.9,232.8 2449.2,234.5 2449.4,272.6 2449.7,288.8 2449.9,300.2 2450.1,281.7 2450.4,260.1 2450.6,274.9 2450.9,332.5 2451.1,347.3 2451.4,366.2 2451.6,370.6 2451.9,328.3 2452.1,305.4 2452.3,357.6 2452.6,417.4 2452.8,387.8 2453.1,370.1 2453.3,378.8 2453.6,343.2 2453.8,345.3 2454.0,416.1 2454.3,425.5 2454.5,422.3 2454.8,384.8 2455.0,421.6 2455.3,413.0 2455.5,421.6 2455.8,452.0 2456.0,455.2 2456.2,461.0 2456.5,454.2 2456.7,456.0 2457.0,453.5 2457.2,434.0 2457.5,409.3 2457.7,398.9 2457.9,386.0 2458.2,381.1 2458.4,394.6 2458.7,435.8 2458.9,400.5 2459.1,429.0 2459.4,419.0 2459.6,412.3 2459.9,402.6 2460.1,411.0 2460.4,409.6 2460.6,397.3 2460.8,396.9 2461.1,349.6 2461.3,322.4 2461.6,327.9 2461.8,345.2 2462.1,357.3 2462.3,308.6 2462.5,287.4 2462.8,318.9 2463.0,330.2 2463.3,345.1 2463.5,327.5 2463.7,325.4 2464.0,334.7 2464.2,338.6 2464.5,308.0 2464.7,258.1 2465.0,246.6 2465.2,242.5 2465.4,269.5 2465.7,236.9 2465.9,227.2 2466.2,201.9 2466.4,193.7 2466.6,198.5 2466.9,190.8 2467.1,191.0 2467.4,230.1 2467.6,210.1 2467.9,196.3 2468.1,203.9 2468.3,233.0 2468.6,242.9 2468.8,265.4 2469.1,279.3 2469.3,294.0 2469.5,269.1 2469.8,288.6 2470.0,299.4 2470.3,304.1 2470.5,304.2 2470.7,312.2 2471.0,321.4 2471.2,288.2 2471.5,313.0 2471.7,330.0 2471.9,321.2 2472.2,339.9 2472.4,348.0 2472.7,328.6 2472.9,362.8 2473.1,345.4 2473.4,336.3 2473.6,353.8 2473.9,403.2 2474.1,387.8 2474.3,387.0 2474.6,361.5 2474.8,362.1 2475.1,363.7 2475.3,354.7 2475.6,346.1 2475.8,380.6 2476.0,399.3 2476.3,411.8 2476.5,422.5 2476.8,421.8 2477.0,420.0 2477.2,410.1 2477.5,418.0 2477.7,407.6 2478.0,366.9 2478.2,372.8 2478.5,364.8 2478.7,342.2 2479.0,327.8 2479.2,334.1 2479.4,338.9 2479.7,340.9 2479.9,304.2 2480.2,296.6 2480.4,279.0 2480.7,280.3 2480.9,286.8 2481.2,291.9 2481.4,285.6 2481.6,236.4 2481.9,242.4 2482.1,244.6 2482.4,241.4 2482.6,251.7 2482.9,264.9 2483.1,250.6 2483.3,247.0 2483.6,263.1 2483.8,284.9 2484.1,295.6 2484.3,301.7 2484.6,305.4 2484.8,284.1 2485.0,281.7 2485.3,298.0 2485.5,340.0 2485.8,322.0 2486.0,339.8 2486.2,336.2 2486.5,318.2 2486.7,335.3 2487.0,358.7 2487.2,381.8 2487.5,353.8 2487.7,343.7 2487.9,361.7 2488.2,373.9 2488.4,360.1 2488.7,386.6 2488.9,402.9 2489.2,387.6 2489.4,451.2 2489.6,450.0 2489.9,428.3 2490.1,449.8 2490.4,416.9 2490.6,420.5 2490.8,413.3 2491.1,405.8 2491.3,389.2 2491.6,382.5 2491.8,390.9 2492.1,406.2 2492.3,410.2 2492.5,436.2 2492.8,436.9 2493.0,448.2 2493.3,419.0 2493.5,437.9 2493.8,442.9 2494.0,441.1 2494.2,451.1 2494.5,451.4 2494.7,450.3 2495.0,442.6 2495.2,416.1 2495.4,409.4 2495.7,378.2 2495.9,395.1 2496.1,386.3 2496.4,365.9 2496.6,386.1 2496.9,364.0 2497.1,354.1 2497.3,301.0 2497.6,303.6 2497.8,277.5 2498.0,298.5 2498.3,310.2 2498.5,319.3 2498.8,313.8 2499.0,317.8 2499.2,298.6 2499.5,260.6 2499.7,238.1 2499.9,263.1 2500.2,266.9 2500.4,239.8 2500.7,232.1 2500.9,206.2 2501.1,207.3 2501.4,213.2 2501.6,240.5 2501.8,253.3 2502.1,261.9 2502.3,252.3 2502.6,252.0 2502.8,291.4 2503.0,276.5 2503.3,253.6 2503.5,234.4 2503.8,249.5 2504.0,272.0 2504.2,282.4 2504.5,285.6 2504.7,328.2 2505.0,331.0 2505.2,304.1 2505.4,261.2 2505.7,278.1 2505.9,295.2 2506.1,318.0 2506.4,348.8 2506.6,340.3 2506.9,345.6 2507.1,379.1 2507.3,365.5 2507.6,351.4 2507.8,352.2 2508.1,351.9 2508.3,382.2 2508.5,411.7 2508.8,398.5 2509.0,342.4 2509.3,348.1 2509.5,391.7 2509.7,372.7 2510.0,395.4 2510.2,350.6 2510.4,360.3 2510.7,337.4 2510.9,375.3 2511.2,372.3 2511.4,377.2 2511.6,353.0 2511.9,396.9 2512.1,406.2 2512.4,415.7 2512.6,415.3 2512.8,410.9 2513.1,405.7 2513.3,405.0 2513.6,395.9 2513.8,355.9 2514.1,321.6 2514.3,340.5 2514.6,323.4 2514.8,344.3 2515.1,339.0 2515.3,315.6 2515.6,278.5 2515.8,285.4 2516.1,275.0 2516.3,257.1 2516.5,211.9 2516.8,221.7 2517.0,232.7 2517.3,239.0 2517.5,230.7 2517.7,235.2 2518.0,267.6 2518.2,271.6 2518.5,288.6 2518.7,281.5 2518.9,278.0 2519.2,263.8 2519.4,276.7 2519.7,277.0 2519.9,310.6 2520.1,333.4 2520.4,329.1 2520.6,292.1 2520.9,341.7 2521.1,327.5 2521.3,350.0 2521.6,356.4 2521.8,371.3 2522.1,382.6 2522.3,382.3 2522.5,373.7 2522.8,367.0 2523.0,345.2 2523.3,336.5 2523.5,351.4 2523.8,398.6 2524.0,394.4 2524.2,408.8 2524.5,439.9 2524.7,447.8 2525.0,415.5 2525.2,421.1 2525.4,417.7 2525.7,446.6 2525.9,441.5 2526.2,431.6 2526.4,444.9 2526.6,444.7 2526.9,447.9 2527.1,446.7 2527.3,423.6 2527.6,423.3 2527.8,422.6 2528.1,391.3 2528.3,407.2 2528.5,441.6 2528.8,446.6 2529.0,445.6 2529.2,417.3 2529.5,417.5 2529.7,414.9 2530.0,444.0 2530.2,440.6 2530.4,406.6 2530.7,367.7 2530.9,365.1 2531.1,345.6 2531.4,334.3 2531.6,363.0 2531.9,345.2 2532.1,360.1 2532.3,325.0 2532.6,334.5 2532.8,326.3 2533.0,307.9 2533.3,287.9 2533.5,252.2 2533.8,251.6 2534.0,253.5 2534.2,249.5 2534.5,241.2 2534.7,234.4 2534.9,229.0 2535.2,220.6 2535.4,198.0 2535.7,185.5 2535.9,178.3 2536.1,159.1 2536.4,146.6 2536.6,172.9 2536.8,204.2 2537.1,201.7 2537.3,212.2 2537.6,218.5 2537.8,208.4 2538.0,184.4 2538.3,204.8 2538.5,233.2 2538.7,274.0 2539.0,246.0 2539.2,275.3 2539.5,277.8 2539.7,273.4 2539.9,248.8 2540.2,251.5 2540.4,229.8 2540.7,244.0 2540.9,253.7 2541.1,254.8 2541.4,283.8 2541.6,292.7 2541.8,292.9 2542.1,320.1 2542.3,299.1 2542.6,309.8 2542.8,286.0 2543.0,295.1 2543.3,259.2 2543.5,297.8 2543.8,280.0 2544.0,335.9 2544.2,334.0 2544.5,328.2 2544.7,318.8 2544.9,303.3 2545.2,331.5 2545.4,349.0 2545.7,389.0 2545.9,373.8 2546.1,349.5 2546.4,348.7 2546.6,351.5 2546.9,382.4 2547.1,376.3 2547.3,378.9 2547.6,396.7 2547.8,421.3 2548.1,420.2 2548.3,412.6 2548.5,388.1 2548.8,392.9 2549.0,344.6 2549.2,355.1 2549.5,322.3 2549.7,336.5 2550.0,317.9 2550.2,329.3 2550.4,293.4 2550.7,291.5 2550.9,261.5 2551.2,256.9 2551.4,257.7 2551.6,271.6 2551.9,280.7 2552.1,286.5 2552.3,299.7 2552.5,299.3 2552.8,295.9 2553.0,299.7 2553.2,315.4 2553.5,327.1 2553.7,331.0"/>
<polyline stroke="#1f77b4" stroke-width="8.333" stroke-linecap="square" points="297.9,405.4 332.6,355.9 367.3,352.2 402.0,349.1 436.7,349.1 471.5,347.5 506.2,351.2 540.9,343.5 575.6,342.6 610.3,344.4 645.0,341.9 679.7,345.9 714.4,338.8 749.2,340.4 783.9,344.1 818.6,337.3 853.3,343.5 888.0,348.1 922.7,341.9 957.4,338.8 992.1,347.2 1026.9,346.6 1061.6,345.0 1096.3,343.5 1131.0,345.0 1165.7,345.9 1200.4,337.9 1235.1,345.9 1269.9,338.8 1304.6,344.4 1339.3,341.9 1374.0,338.8 1408.7,338.8 1443.4,339.4 1478.1,340.4 1512.8,341.9 1547.6,345.6 1582.3,338.8 1617.0,341.9 1651.7,345.6 1686.4,344.4 1721.1,344.1 1755.8,343.5 1790.5,341.9 1825.3,344.3 1860.0,345.9 1894.7,345.9 1929.4,340.6 1964.1,341.2 1998.8,345.0 2033.5,345.0 2068.2,342.8 2103.0,349.0 2137.7,344.3 2172.4,339.1 2207.1,353.7 2241.8,350.6 2276.5,342.8 2311.2,330.4 2346.0,355.2 2380.7,347.5 2415.4,345.3 2450.1,345.3 2484.8,345.3 2519.5,341.2 2554.2,349.0 2588.9,329.8"/>
<polyline stroke="#ff7f0e" stroke-width="3.6" stroke-linecap="square" points="992.3,269.5 993.0,281.3 993.3,294.7 993.5,283.2 993.8,298.0 994.0,321.7 994.2,329.5 994.5,320.8 994.7,324.8 995.0,345.9 995.2,373.9 995.4,360.5 995.7,363.8 995.9,362.3 996.1,352.7 996.4,363.4 996.6,368.7 996.9,399.1 997.1,381.0 997.3,384.4 997.6,390.5 997.8,383.5 998.1,379.0 998.3,386.5 998.5,372.6 998.8,383.8 999.0,377.3 999.3,386.0 999.5,393.7 999.7,414.1 1000.0,442.9 1000.2,453.3 1000.4,447.2 1000.7,451.6 1000.9,457.6 1001.2,424.5 1001.4,451.9 1001.6,457.0 1001.9,458.4 1002.1,420.7 1002.4,425.9 1002.6,383.5 1002.8,357.4 1003.1,377.6 1003.3,398.8 1003.5,365.7 1003.8,377.9 1004.0,394.9 1004.3,382.6 1004.5,357.4 1004.7,362.1 1005.0,383.6 1005.2,412.9 1005.5,409.2 1005.7,339.1 1005.9,355.2 1006.2,364.7 1006.4,353.5 1006.6,340.6 1006.9,348.5 1007.1,316.8 1007.4,291.4 1007.6,289.3 1007.8,293.8 1008.1,272.1 1008.3,255.3 1008.5,217.3 1008.8,234.5 1009.0,211.1 1009.3,212.3 1009.5,184.4 1009.7,207.2 1010.0,208.5 1010.2,183.8 1010.5,218.2 1010.7,233.2 1010.9,256.2 1011.2,263.7 1011.4,286.7 1011.7,279.0 1011.9,272.4 1012.1,264.6 1012.4,270.5 1012.6,279.1 1012.9,275.7 1013.1,280.0 1013.3,267.4 1013.6,276.8 1013.8,322.4 1014.1,313.2 1014.3,302.6 1014.5,302.7 1014.8,299.7 1015.0,312.0 1015.3,306.3 1015.5,342.8 1015.7,329.5 1016.0,340.2 1016.2,377.8 1016.5,369.0 1016.7,396.6 1017.0,387.0 1017.2,401.5 1017.4,416.1 1017.7,409.3 1017.9,423.1 1018.2,414.5 1018.4,401.0 1018.6,344.3 1018.9,343.2 1019.1,347.4 1019.4,354.9 1019.6,353.4 1019.8,357.1 1020.1,380.6 1020.3,382.0 1020.6,392.3 1020.8,341.6 1021.1,315.7 1021.3,292.9 1021.5,322.4 1021.8,317.2 1022.0,290.8 1022.3,266.7 1022.5,263.2 1022.7,294.2 1023.0,286.0 1023.2,254.9 1023.5,248.0 1023.7,222.9 1023.9,208.8 1024.2,216.4 1024.4,246.3 1024.7,236.0 1024.9,234.3 1025.2,218.6 1025.4,212.9 1025.6,236.4 1025.9,246.8 1026.1,291.6 1026.4,274.2 1026.6,264.6 1026.9,299.5 1027.1,270.4 1027.3,301.4 1027.6,292.3 1027.8,258.5 1028.1,259.4 1028.3,304.6 1028.6,320.6 1028.8,333.1 1029.0,319.0 1029.3,338.1 1029.5,349.8 1029.8,351.4 1030.0,382.0 1030.2,384.8 1030.5,352.6 1030.7,351.0 1031.0,343.1 1031.2,357.0 1031.5,390.1 1031.7,404.5 1031.9,391.1 1032.2,382.2 1032.4,347.7 1032.7,325.1 1032.9,398.5 1033.2,397.5 1033.4,395.2 1033.6,428.0 1033.9,420.3 1034.1,425.9 1034.4,433.1 1034.6,408.7 1034.9,433.4 1035.1,400.3 1035.3,348.1 1035.6,377.1 1035.8,410.5 1036.1,405.9 1036.3,382.4 1036.6,420.2 1036.8,403.5 1037.0,362.0 1037.3,367.4 1037.5,395.8 1037.8,374.3 1038.0,375.3 1038.2,357.8 1038.5,354.3 1038.7,354.7 1039.0,295.5 1039.2,343.9 1039.5,357.9 1039.7,354.5 1039.9,351.0 1040.2,329.9 1040.4,359.7 1040.7,332.1 1040.9,326.1 1041.2,276.2 1041.4,315.9 1041.6,304.6 1041.9,283.5 1042.1,254.9 1042.4,240.4 1042.6,261.9 1042.9,205.0 1043.1,227.8 1043.3,205.2 1043.6,210.8 1043.8,204.5 1044.1,209.9 1044.3,236.2 1044.6,235.4 1044.8,205.1 1045.0,239.9 1045.3,268.5 1045.5,264.0 1045.8,258.4 1046.0,279.5 1046.2,287.9 1046.5,294.7 1046.7,288.8 1047.0,297.7 1047.2,318.5 1047.4,315.0 1047.7,292.0 1047.9,293.2 1048.2,313.9 1048.4,328.9 1048.6,323.8 1048.9,347.7 1049.1,333.5 1049.4,361.3 1049.6,402.8 1049.8,396.1 1050.1,382.5 1050.3,392.4 1050.6,341.2 1050.8,387.9 1051.0,359.0 1051.3,346.4 1051.5,361.2 1051.8,357.6 1052.0,375.6 1052.3,377.7 1052.5,385.1 1052.7,418.4 1053.0,414.4 1053.2,406.3 1053.5,422.5 1053.7,410.3 1053.9,415.5 1054.2,419.0 1054.4,413.0 1054.7,405.6 1054.9,406.0 1055.2,377.1 1055.4,386.5 1055.6,405.4 1055.9,365.8 1056.1,383.5 1056.4,350.5 1056.6,374.4 1056.9,367.6 1057.1,365.4 1057.3,337.5 1057.6,352.8 1057.8,337.7 1058.1,316.0 1058.3,332.6 1058.6,300.3 1058.8,288.1 1059.1,282.7 1059.3,278.2 1059.5,282.1 1059.8,288.4 1060.0,252.5 1060.3,263.8 1060.5,232.8 1060.8,237.1 1061.0,236.8 1061.2,251.4 1061.5,250.7 1061.7,263.3 1062.0,291.3 1062.2,317.7 1062.4,331.4 1062.7,312.5 1062.9,297.1 1063.2,326.5 1063.4,329.6 1063.6,352.7 1063.9,368.3 1064.1,364.3 1064.4,354.6 1064.6,336.1 1064.8,325.2 1065.1,359.2 1065.3,404.1 1065.6,360.7 1065.8,347.2 1066.0,365.6 1066.3,393.8 1066.5,356.9 1066.8,385.4 1067.0,431.3 1067.2,384.1 1067.5,390.4 1067.7,422.1 1068.0,437.5 1068.2,438.5 1068.4,424.2 1068.7,422.4 1068.9,419.6 1069.2,392.5 1069.4,406.4 1069.6,423.8 1069.9,389.5 1070.1,335.6 1070.3,336.9 1070.6,349.8 1070.8,388.0 1071.1,376.9 1071.3,379.2 1071.5,435.9 1071.8,397.2 1072.0,362.7 1072.2,369.2 1072.5,379.2 1072.7,387.2 1073.0,367.4 1073.2,328.8 1073.4,295.0 1073.7,294.0 1073.9,303.5 1074.1,283.6 1074.4,274.8 1074.6,287.5 1074.9,295.4 1075.1,294.5 1075.3,329.7 1075.6,329.4 1075.8,287.8 1076.0,302.7 1076.3,274.6 1076.5,250.5 1076.8,254.2 1077.0,298.8 1077.2,281.6 1077.5,250.3 1077.7,235.4 1077.9,241.3 1078.2,231.0 1078.4,214.6 1078.7,204.2 1078.9,204.4 1079.1,211.1 1079.4,203.0 1079.6,222.4 1079.9,219.3 1080.1,260.9 1080.3,271.9 1080.6,247.3 1080.8,297.3 1081.0,297.4 1081.3,277.3 1081.5,289.9 1081.8,293.6 1082.0,316.4 1082.2,329.3 1082.5,354.9 1082.7,319.1 1083.0,337.8 1083.2,325.6 1083.4,296.3 1083.7,304.0 1083.9,312.2 1084.2,352.2 1084.4,364.0 1084.6,380.2 1084.9,380.0 1085.1,389.0 1085.4,401.2 1085.6,385.2 1085.8,402.7 1086.1,416.4 1086.3,420.7 1086.6,434.7 1086.8,431.3 1087.0,430.1 1087.3,430.4 1087.5,409.6 1087.8,432.2 1088.0,424.9 1088.2,408.4 1088.5,344.6 1088.7,342.5 1089.0,361.8 1089.2,343.7 1089.5,373.4 1089.7,407.4 1089.9,383.3 1090.2,361.7 1090.4,367.1 1090.7,371.4 1090.9,304.0 1091.1,292.7 1091.4,324.0 1091.6,306.7 1091.9,269.6 1092.1,287.7 1092.3,258.5 1092.6,276.1 1092.8,285.5 1093.1,261.1 1093.3,240.0 1093.5,239.0 1093.8,239.6 1094.0,237.6 1094.3,232.1 1094.5,228.7 1094.8,229.0 1095.0,243.6 1095.2,239.7 1095.5,244.2 1095.7,251.1 1096.0,271.0 1096.2,297.7 1096.5,305.9 1096.7,297.5 1096.9,335.5 1097.2,364.7 1097.4,348.2 1097.7,317.1 1097.9,330.4 1098.1,358.7 1098.4,327.5 1098.6,307.2 1098.9,293.6 1099.1,315.2 1099.4,317.1 1099.6,328.4 1099.8,332.1 1100.1,311.4 1100.3,345.5 1100.6,382.4 1100.8,329.8 1101.1,349.0 1101.3,356.4 1101.5,360.3 1101.8,383.1 1102.0,362.0 1102.3,398.2 1102.5,387.3 1102.8,363.3 1103.0,390.9 1103.2,397.6 1103.5,436.7 1103.7,425.5 1104.0,414.5 1104.2,460.7 1104.4,449.7 1104.7,455.7 1104.9,463.2 1105.2,463.3 1105.4,468.7 1105.7,458.0 1105.9,460.1 1106.1,456.3 1106.4,454.8 1106.6,441.0 1106.9,417.1 1107.1,366.0 1107.4,381.3 1107.6,377.9 1107.8,426.1 1108.1,404.3 1108.3,411.8 1108.6,417.1 1108.8,378.5 1109.1,354.4 1109.3,386.9 1109.6,396.7 1109.8,336.0 1110.0,342.4 1110.3,371.8 1110.5,335.9 1110.8,329.3 1111.0,319.9 1111.3,299.0 1111.5,280.5 1111.7,235.9 1112.0,227.5 1112.2,247.8 1112.5,262.5 1112.7,287.8 1113.0,302.0 1113.2,294.2 1113.4,262.6 1113.7,235.6 1113.9,222.7 1114.2,228.8 1114.4,205.4 1114.7,191.5 1114.9,213.5 1115.1,207.4 1115.4,214.4 1115.6,227.6 1115.8,239.4 1116.1,244.1 1116.3,282.8 1116.6,270.3 1116.8,295.2 1117.0,296.7 1117.3,316.4 1117.5,286.3 1117.8,341.5 1118.0,372.1 1118.2,351.7 1118.5,362.6 1118.7,360.3 1118.9,381.5 1119.2,375.9 1119.4,345.4 1119.7,346.3 1119.9,352.5 1120.1,358.4 1120.4,329.5 1120.6,346.6 1120.9,386.4 1121.1,393.9 1121.3,369.6 1121.6,417.0 1121.8,410.3 1122.0,414.6 1122.3,415.9 1122.5,420.9 1122.8,435.3 1123.0,443.7 1123.2,443.5 1123.5,426.7 1123.7,413.6 1124.0,400.9 1124.2,401.8 1124.4,371.3 1124.7,349.8 1124.9,335.7 1125.2,368.2 1125.4,396.8 1125.6,378.5 1125.9,373.8 1126.1,367.9 1126.4,333.4 1126.6,338.4 1126.8,361.3 1127.1,354.4 1127.3,317.3 1127.6,282.6 1127.8,261.0 1128.0,279.8 1128.3,246.7 1128.5,231.2 1128.8,239.6 1129.0,232.1 1129.2,264.7 1129.5,276.7 1129.7,275.2 1129.9,295.6 1130.2,280.3 1130.4,276.0 1130.7,272.7 1130.9,304.7 1131.1,303.4 1131.4,282.5 1131.6,282.7 1131.8,312.3 1132.1,328.7 1132.3,323.5 1132.6,320.4 1132.8,348.9 1133.0,343.3 1133.3,333.5 1133.5,329.5 1133.7,305.7 1134.0,347.6 1134.2,353.2 1134.5,379.5 1134.7,436.0 1134.9,404.8 1135.2,409.1 1135.4,391.5 1135.6,382.2 1135.9,384.3 1136.1,391.8 1136.4,411.1 1136.6,438.3 1136.8,443.3 1137.1,427.0 1137.3,438.4 1137.5,429.9 1137.8,439.6 1138.0,444.9 1138.3,435.1 1138.5,439.9 1138.7,430.1 1139.0,432.6 1139.2,433.7 1139.4,428.2 1139.7,445.6 1139.9,441.6 1140.2,441.0 1140.4,420.0 1140.6,431.3 1140.9,426.4 1141.1,419.9 1141.3,423.0 1141.6,416.0 1141.8,409.2 1142.1,423.6 1142.3,411.2 1142.5,444.4 1142.8,377.9 1143.0,416.1 1143.2,379.8 1143.5,356.2 1143.7,339.8 1144.0,345.3 1144.2,362.2 1144.4,363.1 1144.7,367.1 1144.9,340.6 1145.1,323.1 1145.4,304.9 1145.6,313.2 1145.9,314.8 1146.1,339.8 1146.3,305.4 1146.6,283.0 1146.8,274.4 1147.0,262.8 1147.3,254.7 1147.5,234.8 1147.8,212.6 1148.0,209.2 1148.2,212.7 1148.5,188.4 1148.7,188.3 1149.0,199.2 1149.2,189.6 1149.4,178.2 1149.7,184.6 1149.9,182.2 1150.2,203.1 1150.4,209.6 1150.6,221.8 1150.9,243.3 1151.1,243.9 1151.4,277.6 1151.6,291.8 1151.8,297.4 1152.1,310.5 1152.3,266.6 1152.6,278.9 1152.8,318.7 1153.0,301.6 1153.3,336.2 1153.5,339.4 1153.8,342.9 1154.0,343.4 1154.3,329.5 1154.5,316.5 1154.7,308.5 1155.0,350.2 1155.2,366.6 1155.5,385.8 1155.7,367.0 1155.9,389.0 1156.2,428.1 1156.4,407.8 1156.7,404.2 1156.9,408.9 1157.2,422.8 1157.4,423.4 1157.6,432.8 1157.9,427.9 1158.1,413.2 1158.4,428.2 1158.6,380.6 1158.8,366.4 1159.1,354.4 1159.3,346.9 1159.6,381.5 1159.8,387.0 1160.1,381.4 1160.3,374.8 1160.5,359.7 1160.8,352.3 1161.0,358.4 1161.3,335.1 1161.5,327.1 1161.8,309.9 1162.0,310.2 1162.2,309.6 1162.5,296.8 1162.7,297.2 1163.0,269.1 1163.2,253.8 1163.5,246.2 1163.7,227.7 1163.9,238.1 1164.2,227.6 1164.4,244.3 1164.7,266.7 1164.9,257.3 1165.2,258.9 1165.4,269.6 1165.6,278.3 1165.9,270.0 1166.1,257.6 1166.4,282.2 1166.6,307.6 1166.9,316.1 1167.1,338.2 1167.3,315.2 1167.6,336.3 1167.8,341.4 1168.1,332.0 1168.3,314.2 1168.6,326.6 1168.8,339.1 1169.0,361.8 1169.3,322.6 1169.5,369.7 1169.8,383.5 1170.0,370.2 1170.3,340.5 1170.5,344.5 1170.7,381.1 1171.0,401.7 1171.2,407.8 1171.5,365.0 1171.7,369.6 1172.0,392.8 1172.2,403.2 1172.4,399.8 1172.7,419.4 1172.9,441.1 1173.2,433.9 1173.4,443.0 1173.7,428.3 1173.9,416.2 1174.1,415.5 1174.4,442.6 1174.6,402.1 1174.9,415.3 1175.1,397.8 1175.3,403.7 1175.6,390.5 1175.8,410.0 1176.1,410.9 1176.3,427.1 1176.6,440.1 1176.8,382.2 1177.0,373.2 1177.3,375.3 1177.5,379.0 1177.8,370.4 1178.0,341.0 1178.2,382.5 1178.5,336.2 1178.7,353.8 1179.0,340.0 1179.2,330.9 1179.4,347.6 1179.7,315.6 1179.9,321.3 1180.2,314.3 1180.4,288.3 1180.6,293.4 1180.9,291.6 1181.1,288.7 1181.4,287.5 1181.6,248.8 1181.9,223.3 1182.1,222.1 1182.3,201.5 1182.6,237.0 1182.8,216.7 1183.1,209.4 1183.3,201.5 1183.5,205.8 1183.8,218.4 1184.0,225.7 1184.3,248.8 1184.5,244.6 1184.7,278.2 1185.0,268.9 1185.2,235.9 1185.4,252.8 1185.7,256.9 1185.9,241.0 1186.2,280.3 1186.4,279.2 1186.6,256.3 1186.9,276.2 1187.1,318.2 1187.4,309.2 1187.6,345.9 1187.8,349.6 1188.1,378.9 1188.3,367.0 1188.6,374.8 1188.8,284.8 1189.0,273.8 1189.3,281.5 1189.5,314.3 1189.7,365.4 1190.0,376.8 1190.2,376.0 1190.5,317.3 1190.7,309.0 1190.9,331.3 1191.2,357.0 1191.4,362.8 1191.7,348.2 1191.9,325.8 1192.1,375.8 1192.4,363.6 1192.6,369.3 1192.8,380.7 1193.1,397.0 1193.3,403.0 1193.6,428.3 1193.8,424.2 1194.0,397.2 1194.3,348.1 1194.5,383.0 1194.7,420.6 1195.0,390.2 1195.2,389.1 1195.5,380.8 1195.7,372.9 1195.9,356.6 1196.2,352.8 1196.4,351.1 1196.6,350.3 1196.9,350.2 1197.1,314.9 1197.3,335.2 1197.6,321.2 1197.8,310.0 1198.0,295.9 1198.3,266.4 1198.5,269.7 1198.8,257.4 1199.0,255.4 1199.2,253.2 1199.5,244.7 1199.7,251.0 1199.9,244.8 1200.2,245.3 1200.4,262.2 1200.7,298.2 1200.9,312.3 1201.2,312.7 1201.4,325.3 1201.6,350.4 1201.9,321.9 1202.1,326.4 1202.4,308.8 1202.6,314.4 1202.8,326.7 1203.1,351.7 1203.3,356.9 1203.6,370.5 1203.8,358.1 1204.1,360.0 1204.3,360.3 1204.5,369.6 1204.8,392.6 1205.0,403.8 1205.3,384.4 1205.5,385.0 1205.7,382.5 1206.0,401.5 1206.2,416.7 1206.5,432.7 1206.7,408.1 1206.9,415.3 1207.2,402.0 1207.4,388.1 1207.7,409.2 1207.9,418.4 1208.2,434.6 1208.4,452.2 1208.6,440.2 1208.9,453.2 1209.1,452.0 1209.4,449.5 1209.6,453.9 1209.8,443.2 1210.1,420.6 1210.3,445.0 1210.6,430.2 1210.8,394.7 1211.0,414.2 1211.3,380.3 1211.5,409.3 1211.7,400.9 1212.0,398.8 1212.2,446.3 1212.5,420.8 1212.7,373.4 1212.9,335.9 1213.2,354.2 1213.4,346.3 1213.7,312.5 1213.9,314.3 1214.1,321.4 1214.4,291.0 1214.6,301.2 1214.8,307.1 1215.1,295.4 1215.3,322.2 1215.6,285.2 1215.8,262.4 1216.0,272.3 1216.3,250.8 1216.5,218.0 1216.7,192.6 1217.0,197.7 1217.2,182.1 1217.5,172.7 1217.7,163.4 1217.9,156.2 1218.2,192.2 1218.4,205.6 1218.7,170.8 1218.9,192.0 1219.1,197.5 1219.4,199.0 1219.6,228.4 1219.8,260.9 1220.1,259.6 1220.3,222.9 1220.6,242.2 1220.8,259.3 1221.0,261.2 1221.3,301.4 1221.5,305.0 1221.8,316.1 1222.0,317.3 1222.2,337.0 1222.5,324.7 1222.7,301.5 1223.0,321.9 1223.2,315.9 1223.4,291.5 1223.7,277.5 1223.9,306.5 1224.1,331.0 1224.4,384.3 1224.6,362.9 1224.9,350.6 1225.1,359.2 1225.3,386.3 1225.6,349.4 1225.8,366.8 1226.1,409.4 1226.3,415.4 1226.5,408.4 1226.8,408.6 1227.0,411.7 1227.3,382.7 1227.5,366.7 1227.7,352.6 1228.0,399.2 1228.2,365.6 1228.5,353.7 1228.7,373.7 1228.9,364.6 1229.2,381.7 1229.4,367.9 1229.7,355.6 1229.9,342.8 1230.2,303.9 1230.4,332.1 1230.6,330.8 1230.9,325.6 1231.1,320.3 1231.4,290.9 1231.6,291.9 1231.8,267.5 1232.1,262.0 1232.3,245.5 1232.6,247.9 1232.8,265.9 1233.1,261.9 1233.3,231.8 1233.5,227.0 1233.8,232.7 1234.0,220.3 1234.3,226.0 1234.5,203.7 1234.7,207.9 1235.0,220.6 1235.2,233.6 1235.5,243.3 1235.7,236.7 1235.9,267.4 1236.2,287.3 1236.4,286.9 1236.6,286.9 1236.9,299.7 1237.1,268.7 1237.4,293.0 1237.6,297.4 1237.8,324.2 1238.1,290.2 1238.3,293.5 1238.5,315.9 1238.8,335.3 1239.0,331.3 1239.3,363.3 1239.5,349.7 1239.7,360.5 1240.0,360.2 1240.2,347.4 1240.4,334.2 1240.7,332.4 1240.9,334.7 1241.2,361.4 1241.4,351.6 1241.6,346.8 1241.9,384.4 1242.1,393.0 1242.4,404.3 1242.6,397.0 1242.8,427.8 1243.1,428.9 1243.3,424.5 1243.5,423.2 1243.8,418.3 1244.0,427.9 1244.3,432.1 1244.5,430.6 1244.7,428.9 1245.0,414.1 1245.2,411.0 1245.5,405.3 1245.7,424.7 1245.9,410.8 1246.2,389.3 1246.4,352.5 1246.7,328.7 1246.9,357.4 1247.1,356.6 1247.4,372.8 1247.6,372.5 1247.9,378.1 1248.1,357.1 1248.4,389.8 1248.6,371.2 1248.8,347.3 1249.1,333.9 1249.3,265.8 1249.6,257.8 1249.8,289.8 1250.0,305.5 1250.3,271.9 1250.5,225.8 1250.8,218.1 1251.0,239.1 1251.2,227.2 1251.5,239.1 1251.7,216.1 1252.0,210.4 1252.2,200.2 1252.4,221.4 1252.7,215.4 1252.9,212.0 1253.2,212.4 1253.4,261.3 1253.6,296.4 1253.9,272.9 1254.1,237.4 1254.4,253.1 1254.6,273.1 1254.8,239.2 1255.1,248.5 1255.3,289.8 1255.5,304.0 1255.8,277.2 1256.0,307.2 1256.3,337.3 1256.5,368.4 1256.7,372.0 1257.0,382.7 1257.2,386.6 1257.5,359.4 1257.7,415.1 1257.9,402.3 1258.2,398.9 1258.4,387.2 1258.6,402.8 1258.9,413.3 1259.1,413.7 1259.4,413.3 1259.6,413.2 1259.8,394.8 1260.1,399.7 1260.3,411.9 1260.5,416.1 1260.8,402.1 1261.0,401.3 1261.3,410.8 1261.5,410.7 1261.7,394.3 1262.0,374.6 1262.2,349.2 1262.5,347.5 1262.7,392.3 1262.9,375.1 1263.2,348.5 1263.4,361.6 1263.7,416.0 1263.9,371.0 1264.1,327.7 1264.4,297.6 1264.6,264.4 1264.9,289.1 1265.1,299.3 1265.3,289.0 1265.6,295.3 1265.8,297.8 1266.1,265.3 1266.3,271.0 1266.5,273.0 1266.8,236.8 1267.0,249.4 1267.3,244.5 1267.5,200.0 1267.7,228.4 1268.0,196.9 1268.2,222.5 1268.5,216.8 1268.7,201.4 1269.0,231.3 1269.2,230.6 1269.4,242.9 1269.7,280.5 1269.9,235.8 1270.2,222.5 1270.4,215.8 1270.6,244.1 1270.9,269.5 1271.1,291.5 1271.4,287.1 1271.6,327.8 1271.9,325.4 1272.1,345.4 1272.3,381.0 1272.6,390.8 1272.8,380.0 1273.1,367.7 1273.3,376.8 1273.5,395.9 1273.8,367.8 1274.0,350.5 1274.3,363.8 1274.5,409.1 1274.7,421.1 1275.0,413.5 1275.2,388.5 1275.5,372.6 1275.7,407.4 1276.0,395.7 1276.2,432.6 1276.4,408.7 1276.7,433.5 1276.9,448.3 1277.2,447.8 1277.4,449.0 1277.6,422.8 1277.9,443.3 1278.1,452.0 1278.4,432.6 1278.6,392.1 1278.8,389.1 1279.1,388.5 1279.3,409.9 1279.6,383.0 1279.8,395.3 1280.0,366.8 1280.3,385.1 1280.5,372.3 1280.7,384.7 1281.0,438.6 1281.2,436.1 1281.5,413.6 1281.7,404.1 1281.9,390.7 1282.2,379.8 1282.4,374.9 1282.7,355.0 1282.9,349.0 1283.1,367.5 1283.4,371.1 1283.6,377.5 1283.8,348.3 1284.1,325.2 1284.3,362.9 1284.6,307.3 1284.8,312.0 1285.0,309.4 1285.3,303.6 1285.5,268.8 1285.8,260.1 1286.0,225.9 1286.2,220.9 1286.5,203.4 1286.7,237.2 1286.9,228.4 1287.2,213.5 1287.4,233.4 1287.7,218.7 1287.9,191.3 1288.1,190.4 1288.4,192.1 1288.6,207.3 1288.8,221.5 1289.1,216.6 1289.3,235.1 1289.6,220.3 1289.8,224.5 1290.0,242.0 1290.3,278.6 1290.5,316.4 1290.8,314.0 1291.0,343.6 1291.2,339.5 1291.5,335.9 1291.7,367.9 1291.9,369.3 1292.2,352.1 1292.4,357.8 1292.7,334.8 1292.9,372.9 1293.1,369.6 1293.4,334.7 1293.6,388.1 1293.9,400.7 1294.1,383.7 1294.3,393.2 1294.6,408.8 1294.8,397.1 1295.0,409.3 1295.3,423.0 1295.5,420.7 1295.8,430.3 1296.0,404.4 1296.2,425.0 1296.5,430.8 1296.7,418.0 1297.0,419.4 1297.2,413.8 1297.4,414.4 1297.7,402.2 1297.9,410.8 1298.2,428.7 1298.4,396.9 1298.7,412.7 1298.9,384.1 1299.1,346.0 1299.4,356.1 1299.6,317.5 1299.9,310.8 1300.1,330.1 1300.4,315.1 1300.6,311.0 1300.9,297.0 1301.1,297.3 1301.3,267.6 1301.6,271.4 1301.8,281.0 1302.1,264.4 1302.3,276.1 1302.6,272.5 1302.8,252.1 1303.0,223.8 1303.3,213.0 1303.5,198.5 1303.8,207.3 1304.0,231.5 1304.3,217.3 1304.5,244.4 1304.7,236.3 1305.0,239.5 1305.2,260.3 1305.5,275.3 1305.7,303.0 1305.9,308.2 1306.2,313.8 1306.4,316.9 1306.7,326.2 1306.9,319.1 1307.1,308.7 1307.4,304.7 1307.6,312.7 1307.9,300.6 1308.1,322.6 1308.3,318.8 1308.6,365.0 1308.8,336.7 1309.1,377.4 1309.3,389.2 1309.5,433.7 1309.8,397.4 1310.0,401.3 1310.3,380.3 1310.5,375.6 1310.7,392.5 1311.0,421.8 1311.2,446.9 1311.5,428.7 1311.7,406.1 1311.9,409.9 1312.2,436.8 1312.4,439.4 1312.7,447.5 1312.9,443.6 1313.2,449.4 1313.4,440.0 1313.6,445.6 1313.9,430.3 1314.1,445.0 1314.3,404.0 1314.6,406.2 1314.8,412.6 1315.1,360.4 1315.3,382.4 1315.5,369.9 1315.8,410.5 1316.0,401.9 1316.2,381.7 1316.5,374.5 1316.7,339.4 1317.0,328.6 1317.2,324.6 1317.4,281.0 1317.7,303.4 1317.9,309.5 1318.1,310.2 1318.4,315.2 1318.6,275.5 1318.9,276.6 1319.1,261.5 1319.3,253.3 1319.6,230.6 1319.8,223.2 1320.0,221.7 1320.3,196.0 1320.5,197.7 1320.8,181.9 1321.0,185.3 1321.2,176.1 1321.5,199.5 1321.7,200.2 1322.0,219.0 1322.2,247.9 1322.5,276.9 1322.7,243.6 1322.9,259.0 1323.2,250.7 1323.4,258.8 1323.7,282.7 1323.9,281.4 1324.2,308.1 1324.4,316.4 1324.6,331.4 1324.9,305.1 1325.1,359.1 1325.4,325.2 1325.6,322.8 1325.9,313.6 1326.1,361.0 1326.3,370.8 1326.6,363.8 1326.8,401.4 1327.1,373.7 1327.3,355.7 1327.6,372.6 1327.8,364.4 1328.0,367.2 1328.3,373.1 1328.5,378.0 1328.8,389.6 1329.0,361.8 1329.3,412.6 1329.5,408.2 1329.7,400.0 1330.0,402.8 1330.2,433.1 1330.5,446.9 1330.7,425.7 1331.0,417.2 1331.2,415.7 1331.4,396.7 1331.7,408.0 1331.9,362.8 1332.2,356.6 1332.4,355.9 1332.6,392.7 1332.9,420.5 1333.1,403.5 1333.4,390.3 1333.6,347.6 1333.8,329.0 1334.1,343.0 1334.3,363.6 1334.6,352.4 1334.8,325.4 1335.0,318.4 1335.3,338.5 1335.5,352.9 1335.8,336.0 1336.0,306.2 1336.2,296.8 1336.5,269.8 1336.7,269.8 1337.0,275.7 1337.2,257.9 1337.4,216.0 1337.7,238.6 1337.9,203.0 1338.2,218.1 1338.4,237.0 1338.6,256.4 1338.9,259.1 1339.1,281.0 1339.4,281.1 1339.6,254.0 1339.8,250.2 1340.1,289.0 1340.3,264.4 1340.6,227.0 1340.8,251.9 1341.0,278.9 1341.3,310.8 1341.5,315.0 1341.8,330.6 1342.0,334.7 1342.3,350.8 1342.5,312.4 1342.7,338.1 1343.0,348.7 1343.2,349.3 1343.5,367.9 1343.7,323.9 1343.9,355.6 1344.2,377.7 1344.4,349.2 1344.7,358.8 1344.9,370.8 1345.1,325.9 1345.4,353.3 1345.6,357.4 1345.9,368.9 1346.1,337.9 1346.3,369.0 1346.6,410.7 1346.8,431.7 1347.1,428.4 1347.3,435.4 1347.6,433.5 1347.8,436.0 1348.0,424.3 1348.3,422.1 1348.5,405.8 1348.8,411.8 1349.0,393.9 1349.3,394.2 1349.5,376.9 1349.7,381.6 1350.0,410.1 1350.2,429.3 1350.5,375.4 1350.7,384.9 1351.0,382.2 1351.2,383.1 1351.4,371.9 1351.7,368.1 1351.9,339.4 1352.2,344.2 1352.4,364.8 1352.7,312.1 1352.9,339.8 1353.1,305.9 1353.4,305.4 1353.6,280.7 1353.9,296.6 1354.1,287.0 1354.4,302.0 1354.6,257.8 1354.8,259.0 1355.1,269.2 1355.3,262.7 1355.6,221.2 1355.8,225.6 1356.1,247.8 1356.3,238.2 1356.5,232.9 1356.8,189.2 1357.0,173.5 1357.3,190.6 1357.5,203.0 1357.8,231.2 1358.0,221.9 1358.2,221.0 1358.5,216.5 1358.7,241.3 1359.0,254.8 1359.2,272.6 1359.5,264.8 1359.7,291.3 1359.9,273.8 1360.2,273.5 1360.4,279.4 1360.7,284.4 1360.9,321.1 1361.2,339.2 1361.4,320.7 1361.6,356.4 1361.9,367.3 1362.1,356.6 1362.4,348.2 1362.6,338.8 1362.8,348.3 1363.1,361.9 1363.3,370.2 1363.6,385.3 1363.8,388.8 1364.1,369.2 1364.3,387.3 1364.5,393.2 1364.8,348.1 1365.0,382.2 1365.3,419.1 1365.5,428.4 1365.8,432.1 1366.0,424.0 1366.2,409.6 1366.5,409.7 1366.7,404.0 1367.0,355.4 1367.2,380.4 1367.5,386.6 1367.7,428.9 1367.9,393.4 1368.2,384.9 1368.4,354.2 1368.7,357.9 1368.9,338.4 1369.2,335.0 1369.4,343.9 1369.6,300.7 1369.9,264.1 1370.1,276.4 1370.4,278.8 1370.6,293.0 1370.9,294.9 1371.1,269.3 1371.3,261.9 1371.6,244.3 1371.8,243.9 1372.1,246.6 1372.3,215.0 1372.6,192.1 1372.8,194.2 1373.0,221.7 1373.3,255.5 1373.5,264.0 1373.8,253.0 1374.0,262.1 1374.2,272.1 1374.5,293.3 1374.7,293.8 1375.0,299.2 1375.2,314.0 1375.4,275.7 1375.7,255.3 1375.9,300.5 1376.2,272.4 1376.4,323.9 1376.6,340.5 1376.9,348.9 1377.1,373.4 1377.4,397.6 1377.6,378.1 1377.8,381.1 1378.1,349.5 1378.3,328.7 1378.6,325.6 1378.8,377.3 1379.1,378.6 1379.3,410.6 1379.5,372.1 1379.8,357.5 1380.0,379.7 1380.3,407.2 1380.5,388.0 1380.7,396.7 1381.0,390.7 1381.2,433.4 1381.5,437.1 1381.7,434.2 1381.9,430.5 1382.2,439.8 1382.4,439.1 1382.7,410.2 1382.9,389.0 1383.2,436.4 1383.4,427.4 1383.6,428.2 1383.9,434.3 1384.1,382.2 1384.4,384.5 1384.6,389.0 1384.9,383.5 1385.1,343.9 1385.3,321.4 1385.6,383.8 1385.8,360.8 1386.1,378.3 1386.3,395.8 1386.6,394.4 1386.8,301.4 1387.0,290.1 1387.3,292.7 1387.5,327.4 1387.8,304.6 1388.0,276.3 1388.3,298.5 1388.5,308.9 1388.7,296.0 1389.0,262.4 1389.2,264.0 1389.5,246.4 1389.7,253.0 1390.0,251.9 1390.2,235.0 1390.4,216.8 1390.7,210.0 1390.9,211.3 1391.2,194.9 1391.4,180.6 1391.7,201.0 1391.9,216.7 1392.1,215.3 1392.4,240.6 1392.6,219.0 1392.9,237.5 1393.1,250.4 1393.3,275.8 1393.6,294.9 1393.8,306.9 1394.1,308.4 1394.3,282.7 1394.6,348.7 1394.8,339.7 1395.0,351.7 1395.3,363.6 1395.5,371.9 1395.8,360.0 1396.0,366.3 1396.2,342.1 1396.5,339.6 1396.7,402.6 1397.0,405.9 1397.2,380.6 1397.4,366.4 1397.7,363.7 1397.9,375.0 1398.2,417.7 1398.4,415.2 1398.6,409.5 1398.9,378.3 1399.1,421.7 1399.4,424.4 1399.6,393.5 1399.9,415.4 1400.1,411.4 1400.3,404.0 1400.6,393.3 1400.8,395.6 1401.1,393.2 1401.3,375.1 1401.6,348.7 1401.8,312.7 1402.0,328.3 1402.3,314.5 1402.5,320.1 1402.8,337.0 1403.0,305.4 1403.3,284.9 1403.5,312.3 1403.7,285.7 1404.0,267.9 1404.2,259.5 1404.5,263.0 1404.7,248.6 1404.9,237.1 1405.2,247.5 1405.4,224.9 1405.7,218.5 1405.9,196.9 1406.2,198.3 1406.4,199.9 1406.6,222.5 1406.9,249.8 1407.1,239.9 1407.4,219.4 1407.6,248.4 1407.8,236.7 1408.1,236.8 1408.3,245.3 1408.6,280.8 1408.8,302.2 1409.0,297.7 1409.3,282.7 1409.5,310.0 1409.7,349.1 1410.0,347.4 1410.2,362.0 1410.5,366.3 1410.7,365.9 1410.9,378.9 1411.2,375.0 1411.4,424.2 1411.7,412.3 1411.9,397.7 1412.1,405.5 1412.4,422.8 1412.6,419.4 1412.9,429.4 1413.1,436.5 1413.3,431.4 1413.6,386.1 1413.8,432.5 1414.1,433.9 1414.3,462.9 1414.5,397.7 1414.8,431.0 1415.0,383.1 1415.3,403.5 1415.5,412.6 1415.7,444.7 1416.0,395.2 1416.2,436.6 1416.5,430.8 1416.7,466.8 1416.9,464.2 1417.2,398.4 1417.4,395.3 1417.6,410.9 1417.9,415.9 1418.1,387.1 1418.4,385.7 1418.6,424.5 1418.8,406.2 1419.1,379.3 1419.3,381.8 1419.5,360.9 1419.8,362.0 1420.0,353.6 1420.3,366.9 1420.5,356.1 1420.7,375.0 1421.0,337.1 1421.2,323.8 1421.5,348.7 1421.7,337.9 1421.9,331.4 1422.2,310.2 1422.4,299.2 1422.6,274.8 1422.9,287.9 1423.1,283.0 1423.4,268.3 1423.6,275.5 1423.8,292.8 1424.1,242.1 1424.3,267.4 1424.5,245.8 1424.8,232.9 1425.0,238.1 1425.3,236.4 1425.5,229.3 1425.7,224.8 1426.0,186.9 1426.2,170.0 1426.4,167.7 1426.7,173.4 1426.9,170.7 1427.2,187.0 1427.4,236.8 1427.6,261.3 1427.9,273.4 1428.1,258.0 1428.3,268.7 1428.6,295.8 1428.8,307.2 1429.0,275.0 1429.3,293.1 1429.5,300.6 1429.8,343.6 1430.0,320.5 1430.2,269.3 1430.5,302.0 1430.7,342.5 1430.9,312.0 1431.2,354.3 1431.4,380.5 1431.6,376.8 1431.9,355.7 1432.1,366.9 1432.4,363.5 1432.6,387.4 1432.8,417.4 1433.1,417.6 1433.3,403.9 1433.5,416.6 1433.8,413.2 1434.0,423.1 1434.3,416.1 1434.5,411.6 1434.7,422.6 1435.0,406.4 1435.2,361.2 1435.4,412.6 1435.7,401.8 1435.9,397.5 1436.1,389.5 1436.4,368.5 1436.6,321.6 1436.9,343.4 1437.1,337.5 1437.3,344.0 1437.6,354.4 1437.8,348.1 1438.0,335.7 1438.3,367.2 1438.5,362.4 1438.8,344.7 1439.0,305.3 1439.2,301.3 1439.5,297.5 1439.7,279.1 1439.9,268.8 1440.2,257.5 1440.4,268.3 1440.7,264.0 1440.9,255.9 1441.1,251.0 1441.4,249.4 1441.6,244.1 1441.8,218.0 1442.1,231.6 1442.3,250.3 1442.6,240.3 1442.8,245.0 1443.1,235.0 1443.3,273.9 1443.5,260.7 1443.8,252.5 1444.0,276.8 1444.3,285.0 1444.5,297.9 1444.7,278.2 1445.0,298.1 1445.2,324.7 1445.5,307.8 1445.7,350.7 1446.0,331.7 1446.2,337.1 1446.4,338.1 1446.7,324.9 1446.9,350.0 1447.2,313.3 1447.4,333.2 1447.7,313.1 1447.9,349.0 1448.1,323.1 1448.4,351.0 1448.6,345.2 1448.9,376.0 1449.1,363.2 1449.4,402.5 1449.6,397.4 1449.8,386.1 1450.1,370.0 1450.3,365.9 1450.6,342.4 1450.8,383.5 1451.1,351.4 1451.3,384.1 1451.5,383.1 1451.8,396.9 1452.0,402.2 1452.3,418.8 1452.5,435.0 1452.7,449.4 1453.0,434.4 1453.2,401.5 1453.5,406.0 1453.7,377.4 1453.9,390.9 1454.2,418.3 1454.4,391.1 1454.7,404.4 1454.9,417.6 1455.2,369.5 1455.4,318.0 1455.6,335.3 1455.9,355.9 1456.1,333.1 1456.4,343.5 1456.6,347.1 1456.8,354.4 1457.1,359.9 1457.3,344.7 1457.6,307.9 1457.8,285.7 1458.0,252.0 1458.3,271.3 1458.5,295.3 1458.8,243.6 1459.0,243.6 1459.2,238.6 1459.5,255.9 1459.7,245.8 1460.0,195.9 1460.2,183.4 1460.4,149.4 1460.7,169.0 1460.9,163.1 1461.2,182.7 1461.4,195.6 1461.7,225.3 1461.9,246.7 1462.1,285.5 1462.4,253.7 1462.6,269.5 1462.9,266.5 1463.1,255.2 1463.4,268.3 1463.6,297.3 1463.8,311.9 1464.1,339.1 1464.3,331.6 1464.6,344.0 1464.8,339.0 1465.1,279.2 1465.3,316.4 1465.5,333.6 1465.8,338.6 1466.0,369.5 1466.3,395.7 1466.5,358.5 1466.8,380.5 1467.0,366.6 1467.2,377.8 1467.5,381.6 1467.7,382.1 1468.0,423.7 1468.2,411.9 1468.5,412.9 1468.7,379.4 1468.9,442.4 1469.2,441.6 1469.4,443.7 1469.7,422.3 1469.9,427.8 1470.1,413.8 1470.4,397.2 1470.6,396.1 1470.9,419.3 1471.1,397.0 1471.3,405.9 1471.6,362.1 1471.8,345.7 1472.0,328.2 1472.3,357.4 1472.5,317.0 1472.8,295.0 1473.0,320.4 1473.2,339.3 1473.5,354.2 1473.7,293.0 1474.0,264.8 1474.2,295.5 1474.4,299.5 1474.7,280.2 1474.9,277.8 1475.1,285.9 1475.4,282.2 1475.6,235.2 1475.9,221.6 1476.1,206.9 1476.3,211.4 1476.6,228.2 1476.8,234.7 1477.0,245.0 1477.3,254.5 1477.5,292.6 1477.8,336.7 1478.0,315.2 1478.2,289.5 1478.5,303.5 1478.7,299.8 1478.9,326.0 1479.2,313.9 1479.4,302.6 1479.7,310.0 1479.9,309.1 1480.1,314.5 1480.4,323.3 1480.6,328.9 1480.8,296.9 1481.1,322.6 1481.3,343.0 1481.6,323.5 1481.8,350.8 1482.0,344.7 1482.3,357.8 1482.5,345.3 1482.7,376.5 1483.0,393.5 1483.2,420.2 1483.5,416.1 1483.7,424.4 1483.9,427.2 1484.2,440.4 1484.4,424.1 1484.6,442.7 1484.9,404.0 1485.1,427.9 1485.4,420.4 1485.6,454.9 1485.8,453.2 1486.1,426.4 1486.3,450.3 1486.5,453.3 1486.8,469.0 1487.0,468.9 1487.3,471.9 1487.5,447.9 1487.7,431.1 1488.0,424.0 1488.2,403.4 1488.5,382.9 1488.7,393.7 1488.9,383.5 1489.2,378.9 1489.4,358.4 1489.6,366.5 1489.9,345.7 1490.1,331.6 1490.4,315.8 1490.6,308.6 1490.8,336.6 1491.1,352.4 1491.3,344.1 1491.5,311.5 1491.8,280.1 1492.0,282.9 1492.3,279.4 1492.5,290.0 1492.7,282.8 1493.0,294.8 1493.2,271.2 1493.5,298.9 1493.7,261.6 1493.9,246.4 1494.2,234.0 1494.4,207.4 1494.6,179.0 1494.9,216.2 1495.1,244.8 1495.4,221.1 1495.6,173.1 1495.8,198.9 1496.1,205.2 1496.3,195.6 1496.6,194.1 1496.8,224.3 1497.1,214.7 1497.3,226.0 1497.5,253.8 1497.8,273.6 1498.0,284.6 1498.3,300.5 1498.5,294.1 1498.7,311.9 1499.0,314.0 1499.2,302.1 1499.5,315.2 1499.7,339.1 1500.0,368.2 1500.2,414.7 1500.4,372.3 1500.7,350.6 1500.9,337.9 1501.2,367.2 1501.4,333.5 1501.7,331.2 1501.9,360.7 1502.1,385.4 1502.4,361.1 1502.6,393.2 1502.9,408.4 1503.1,421.0 1503.3,410.4 1503.6,422.2 1503.8,425.6 1504.1,415.4 1504.3,409.8 1504.6,423.2 1504.8,391.8 1505.0,424.6 1505.3,421.2 1505.5,422.7 1505.8,424.6 1506.0,418.4 1506.2,427.0 1506.5,413.7 1506.7,402.0 1507.0,395.7 1507.2,416.1 1507.5,403.1 1507.7,370.9 1508.0,373.9 1508.2,348.6 1508.4,369.9 1508.7,363.4 1508.9,339.8 1509.2,325.5 1509.4,330.2 1509.7,307.9 1509.9,283.7 1510.2,297.6 1510.4,274.6 1510.6,268.0 1510.9,267.4 1511.1,282.7 1511.4,253.0 1511.6,256.6 1511.9,255.7 1512.1,294.3 1512.4,305.6 1512.6,340.1 1512.8,321.1 1513.1,311.6 1513.3,308.0 1513.6,345.2 1513.8,345.2 1514.1,310.6 1514.3,307.3 1514.5,310.4 1514.8,307.3 1515.0,349.4 1515.3,347.5 1515.5,359.4 1515.8,372.9 1516.0,352.2 1516.2,360.0 1516.5,363.1 1516.7,407.2 1517.0,422.9 1517.2,406.2 1517.5,443.4 1517.7,444.6 1517.9,425.8 1518.2,377.6 1518.4,406.0 1518.7,426.8 1518.9,391.7 1519.1,387.0 1519.4,404.0 1519.6,441.0 1519.9,448.8 1520.1,442.4 1520.4,459.1 1520.6,455.0 1520.8,441.6 1521.1,451.4 1521.3,441.1 1521.6,456.0 1521.8,456.5 1522.0,411.8 1522.3,422.5 1522.5,395.6 1522.8,367.8 1523.0,435.4 1523.2,444.8 1523.5,458.9 1523.7,433.6 1523.9,406.0 1524.2,393.2 1524.4,387.6 1524.7,387.4 1524.9,352.9 1525.1,393.3 1525.4,358.1 1525.6,374.2 1525.9,334.7 1526.1,334.2 1526.3,318.7 1526.6,312.6 1526.8,311.1 1527.0,289.2 1527.3,290.0 1527.5,276.7 1527.8,265.9 1528.0,267.0 1528.2,268.8 1528.5,274.7 1528.7,252.3 1529.0,217.9 1529.2,215.3 1529.4,216.0 1529.7,202.6 1529.9,211.5 1530.1,226.8 1530.4,207.4 1530.6,184.0 1530.9,190.4 1531.1,193.9 1531.4,201.5 1531.6,224.9 1531.8,238.4 1532.1,235.7 1532.3,290.9 1532.6,274.2 1532.8,260.3 1533.1,282.1 1533.3,308.2 1533.6,318.1 1533.8,304.2 1534.0,341.3 1534.3,305.8 1534.5,312.5 1534.8,336.1 1535.0,320.7 1535.3,353.8 1535.5,368.9 1535.7,383.4 1536.0,395.5 1536.2,411.1 1536.5,411.4 1536.7,414.4 1537.0,378.4 1537.2,403.8 1537.5,411.6 1537.7,428.6 1537.9,450.7 1538.2,441.4 1538.4,445.7 1538.7,444.3 1538.9,443.5 1539.1,442.9 1539.4,428.5 1539.6,423.5 1539.9,423.1 1540.1,416.7 1540.3,400.5 1540.6,385.1 1540.8,399.8 1541.0,378.9 1541.3,361.3 1541.5,386.6 1541.8,366.5 1542.0,355.1 1542.2,360.6 1542.5,343.3 1542.7,331.2 1543.0,339.9 1543.2,352.4 1543.4,316.6 1543.7,313.6 1543.9,314.3 1544.2,325.5 1544.4,313.7 1544.6,296.9 1544.9,265.3 1545.1,266.4 1545.4,262.7 1545.6,231.4 1545.8,231.0 1546.1,228.2 1546.3,211.0 1546.5,205.6 1546.8,226.9 1547.0,239.8 1547.3,266.5 1547.5,279.2 1547.8,280.5 1548.0,271.3 1548.2,265.2 1548.5,270.7 1548.7,287.8 1549.0,281.2 1549.2,273.3 1549.5,306.9 1549.7,330.9 1549.9,352.4 1550.2,323.1 1550.4,311.7 1550.7,338.9 1550.9,377.2 1551.2,402.6 1551.4,400.5 1551.6,399.8 1551.9,355.6 1552.1,389.0 1552.4,390.7 1552.6,344.6 1552.9,397.1 1553.1,421.8 1553.3,402.7 1553.6,371.5 1553.8,423.3 1554.1,419.2 1554.3,392.4 1554.6,399.4 1554.8,427.6 1555.0,429.3 1555.3,453.4 1555.5,453.9 1555.8,449.6 1556.0,427.5 1556.3,412.5 1556.5,403.3 1556.7,386.2 1557.0,413.1 1557.2,392.1 1557.5,339.5 1557.7,354.0 1557.9,313.5 1558.2,341.9 1558.4,379.0 1558.7,365.1 1558.9,333.5 1559.2,337.4 1559.4,371.5 1559.6,366.7 1559.9,329.6 1560.1,314.2 1560.4,329.9 1560.6,336.2 1560.9,350.4 1561.1,328.4 1561.3,270.3 1561.6,293.3 1561.8,326.0 1562.1,324.9 1562.3,270.5 1562.5,269.9 1562.8,250.2 1563.0,283.6 1563.3,268.7 1563.5,230.8 1563.8,223.7 1564.0,259.0 1564.2,258.3 1564.5,237.8 1564.7,208.2 1565.0,188.7 1565.2,233.6 1565.5,208.9 1565.7,192.0 1565.9,190.1 1566.2,187.0 1566.4,194.0 1566.7,195.4 1566.9,197.1 1567.1,216.4 1567.4,230.6 1567.6,236.4 1567.8,237.5 1568.1,242.0 1568.3,253.3 1568.6,256.0 1568.8,275.7 1569.0,299.4 1569.3,304.4 1569.5,320.6 1569.8,336.8 1570.0,296.8 1570.2,309.1 1570.5,317.5 1570.7,320.5 1571.0,307.7 1571.2,375.7 1571.4,325.6 1571.7,334.5 1571.9,360.8 1572.1,321.7 1572.4,332.5 1572.6,356.8 1572.9,349.1 1573.1,372.2 1573.3,318.0 1573.6,318.6 1573.8,392.0 1574.1,389.6 1574.3,396.6 1574.5,381.7 1574.8,409.7 1575.0,393.9 1575.3,408.7 1575.5,402.0 1575.8,388.0 1576.0,390.5 1576.2,355.5 1576.5,341.3 1576.7,324.3 1577.0,327.1 1577.2,341.5 1577.5,348.0 1577.7,314.3 1578.0,323.3 1578.2,344.9 1578.4,302.1 1578.7,302.1 1578.9,267.9 1579.2,246.9 1579.4,239.4 1579.7,232.9 1579.9,226.3 1580.2,217.5 1580.4,222.7 1580.6,238.6 1580.9,266.4 1581.1,277.2 1581.4,270.4 1581.6,280.4 1581.8,283.6 1582.1,278.9 1582.3,303.0 1582.6,307.0 1582.8,305.5 1583.0,299.7 1583.3,294.8 1583.5,321.7 1583.8,325.3 1584.0,357.1 1584.3,347.0 1584.5,352.9 1584.7,353.9 1585.0,384.9 1585.2,352.4 1585.5,354.4 1585.7,366.1 1585.9,362.9 1586.2,369.6 1586.4,381.3 1586.7,425.7 1586.9,439.1 1587.1,437.0 1587.4,454.2 1587.6,443.6 1587.9,450.4 1588.1,455.9 1588.3,405.8 1588.6,380.8 1588.8,391.0 1589.1,389.5 1589.3,417.7 1589.5,406.8 1589.8,437.1 1590.0,423.2 1590.3,434.7 1590.5,410.0 1590.7,431.4 1591.0,397.3 1591.2,430.0 1591.5,456.7 1591.7,459.7 1592.0,458.3 1592.2,459.1 1592.4,452.4 1592.7,448.4 1592.9,428.8 1593.2,420.4 1593.4,396.1 1593.6,394.4 1593.9,358.7 1594.1,385.8 1594.4,415.6 1594.6,416.9 1594.8,404.0 1595.1,378.4 1595.3,336.9 1595.6,339.6 1595.8,382.1 1596.0,375.8 1596.3,309.6 1596.5,277.3 1596.8,283.9 1597.0,258.5 1597.2,239.7 1597.5,264.9 1597.7,224.1 1598.0,221.0 1598.2,235.3 1598.4,235.9 1598.7,194.1 1598.9,188.2 1599.2,183.5 1599.4,187.9 1599.6,191.4 1599.9,205.9 1600.1,192.0 1600.4,213.5 1600.6,199.0 1600.8,235.4 1601.1,246.3 1601.3,242.3 1601.6,296.5 1601.8,293.8 1602.1,288.3 1602.3,265.3 1602.5,312.4 1602.8,311.4 1603.0,314.5 1603.3,320.9 1603.5,318.9 1603.8,346.0 1604.0,322.2 1604.2,332.9 1604.5,373.7 1604.7,347.1 1605.0,368.0 1605.2,401.7 1605.5,365.8 1605.7,410.0 1605.9,411.1 1606.2,406.1 1606.4,402.6 1606.7,402.2 1606.9,418.5 1607.1,419.6 1607.4,396.4 1607.6,407.5 1607.9,422.5 1608.1,421.4 1608.4,421.5 1608.6,420.2 1608.8,402.2 1609.1,393.4 1609.3,372.2 1609.5,362.3 1609.8,354.8 1610.0,355.3 1610.3,351.9 1610.5,369.9 1610.7,339.5 1611.0,357.3 1611.2,348.2 1611.5,297.5 1611.7,305.8 1611.9,343.5 1612.2,320.7 1612.4,295.0 1612.7,276.0 1612.9,276.3 1613.1,269.3 1613.4,260.2 1613.6,237.7 1613.8,205.4 1614.1,190.6 1614.3,188.8 1614.6,173.2 1614.8,171.8 1615.0,173.5 1615.3,194.6 1615.5,195.9 1615.8,198.6 1616.0,221.0 1616.2,232.6 1616.5,239.3 1616.7,258.9 1617.0,256.1 1617.2,247.6 1617.4,267.5 1617.7,283.2 1617.9,275.8 1618.2,274.2 1618.4,243.8 1618.6,252.5 1618.9,250.6 1619.1,280.3 1619.4,305.4 1619.6,283.6 1619.8,301.1 1620.1,341.1 1620.3,345.2 1620.6,315.6 1620.8,323.9 1621.1,349.5 1621.3,376.4 1621.5,381.4 1621.8,380.8 1622.0,383.1 1622.3,388.4 1622.5,371.4 1622.7,381.4 1623.0,372.6 1623.2,389.3 1623.5,341.9 1623.7,366.4 1623.9,365.7 1624.2,403.5 1624.4,377.0 1624.7,403.0 1624.9,399.3 1625.1,410.6 1625.4,415.6 1625.6,408.8 1625.9,446.7 1626.1,453.3 1626.3,432.6 1626.6,417.6 1626.8,389.3 1627.0,395.0 1627.3,413.0 1627.5,424.6 1627.8,393.1 1628.0,408.1 1628.2,375.6 1628.5,380.2 1628.7,347.4 1628.9,373.0 1629.2,366.4 1629.4,334.1 1629.7,367.6 1629.9,380.3 1630.1,328.8 1630.4,321.6 1630.6,332.3 1630.9,325.8 1631.1,300.7 1631.3,284.1 1631.6,277.6 1631.8,278.2 1632.0,308.2 1632.3,271.4 1632.5,274.8 1632.8,278.1 1633.0,248.3 1633.2,248.8 1633.5,239.9 1633.7,255.1 1633.9,214.2 1634.2,206.2 1634.4,236.0 1634.7,253.3 1634.9,246.1 1635.2,243.1 1635.4,267.3 1635.6,254.0 1635.9,249.7 1636.1,294.1 1636.4,314.9 1636.6,305.8 1636.9,296.4 1637.1,337.6 1637.3,320.4 1637.6,344.9 1637.8,348.1 1638.1,356.4 1638.3,366.4 1638.6,350.4 1638.8,349.1 1639.0,353.1 1639.3,399.1 1639.5,410.9 1639.8,418.2 1640.0,394.9 1640.3,395.8 1640.5,358.2 1640.7,372.0 1641.0,386.4 1641.2,357.3 1641.5,372.6 1641.7,356.3 1642.0,385.3 1642.2,422.6 1642.4,425.8 1642.7,415.6 1642.9,423.9 1643.2,425.6 1643.4,426.4 1643.7,416.3 1643.9,424.6 1644.1,393.4 1644.4,413.2 1644.6,419.1 1644.8,378.7 1645.1,381.0 1645.3,365.8 1645.5,373.7 1645.8,330.6 1646.0,303.3 1646.3,299.6 1646.5,288.1 1646.7,280.0 1647.0,254.8 1647.2,238.2 1647.4,241.3 1647.7,220.0 1647.9,201.7 1648.1,232.7 1648.4,251.6 1648.6,245.0 1648.9,257.1 1649.1,252.5 1649.4,263.9 1649.6,263.7 1649.8,274.9 1650.1,273.6 1650.3,318.9 1650.6,326.1 1650.8,329.6 1651.0,332.3 1651.3,307.4 1651.5,324.0 1651.8,311.2 1652.0,325.1 1652.2,357.6 1652.5,345.5 1652.7,335.8 1653.0,349.3 1653.2,365.2 1653.4,387.8 1653.7,383.1 1653.9,402.6 1654.2,400.5 1654.4,411.4 1654.7,382.5 1654.9,370.3 1655.1,387.0 1655.4,387.2 1655.6,363.6 1655.9,394.0 1656.1,402.0 1656.3,411.1 1656.6,420.1 1656.8,413.7 1657.1,400.0 1657.3,412.2 1657.5,406.1 1657.8,418.1 1658.0,432.1 1658.3,430.8 1658.5,403.9 1658.7,391.3 1659.0,421.3 1659.2,408.4 1659.5,437.4 1659.7,448.8 1660.0,438.6 1660.2,429.4 1660.4,395.3 1660.7,409.3 1660.9,393.1 1661.2,370.8 1661.4,399.0 1661.6,384.8 1661.9,402.3 1662.1,395.6 1662.4,428.1 1662.6,419.4 1662.8,371.3 1663.1,381.5 1663.3,321.0 1663.6,330.8 1663.8,368.0 1664.0,350.3 1664.3,360.0 1664.5,371.7 1664.8,371.1 1665.0,378.9 1665.2,337.0 1665.5,325.8 1665.7,326.1 1666.0,328.4 1666.2,286.3 1666.4,267.4 1666.7,247.2 1666.9,260.4 1667.2,274.5 1667.4,259.1 1667.7,248.9 1667.9,257.7 1668.1,218.3 1668.4,210.1 1668.6,195.3 1668.9,212.0 1669.1,204.1 1669.3,192.5 1669.6,228.6 1669.8,259.8 1670.1,249.3 1670.3,264.1 1670.5,299.9 1670.8,310.4 1671.0,296.4 1671.3,288.8 1671.5,329.8 1671.8,319.1 1672.0,314.6 1672.2,317.3 1672.5,315.4 1672.7,299.8 1673.0,330.5 1673.2,335.5 1673.5,328.6 1673.7,351.2 1673.9,356.8 1674.2,366.3 1674.4,390.0 1674.7,365.2 1674.9,387.4 1675.2,372.5 1675.4,424.1 1675.6,383.4 1675.9,402.6 1676.1,374.1 1676.4,414.9 1676.6,415.9 1676.8,417.5 1677.1,402.8 1677.3,397.3 1677.6,397.2 1677.8,408.2 1678.1,427.0 1678.3,420.0 1678.5,425.3 1678.8,419.3 1679.0,419.2 1679.3,396.2 1679.5,349.8 1679.8,360.6 1680.0,340.0 1680.2,351.2 1680.5,374.5 1680.7,426.3 1681.0,408.9 1681.2,367.2 1681.5,340.2 1681.7,303.8 1681.9,310.2 1682.2,336.8 1682.4,319.5 1682.7,286.2 1682.9,322.6 1683.2,307.9 1683.4,284.7 1683.6,282.7 1683.9,271.1 1684.1,245.3 1684.4,213.6 1684.6,189.7 1684.9,187.4 1685.1,215.4 1685.3,217.9 1685.6,224.5 1685.8,218.1 1686.1,225.9 1686.3,220.2 1686.5,235.1 1686.8,233.5 1687.0,282.6 1687.3,262.2 1687.5,257.2 1687.8,278.8 1688.0,271.9 1688.2,297.4 1688.5,303.1 1688.7,303.4 1689.0,328.9 1689.2,355.2 1689.4,353.7 1689.7,347.3 1689.9,362.0 1690.2,358.4 1690.4,365.0 1690.7,346.2 1690.9,362.1 1691.1,365.9 1691.4,372.8 1691.6,374.3 1691.9,403.8 1692.1,401.6 1692.3,395.7 1692.6,447.7 1692.8,434.6 1693.1,446.8 1693.3,434.7 1693.5,412.2 1693.8,431.0 1694.0,425.0 1694.3,442.8 1694.5,452.5 1694.8,440.6 1695.0,453.9 1695.2,453.7 1695.5,452.2 1695.7,450.4 1695.9,453.9 1696.2,415.3 1696.4,437.0 1696.7,428.3 1696.9,422.1 1697.1,413.9 1697.4,441.4 1697.6,406.5 1697.8,436.1 1698.1,440.3 1698.3,432.8 1698.6,390.8 1698.8,355.0 1699.0,369.6 1699.3,370.3 1699.5,341.1 1699.7,330.1 1700.0,289.2 1700.2,303.6 1700.5,274.2 1700.7,278.3 1700.9,283.8 1701.2,291.8 1701.4,277.5 1701.7,256.9 1701.9,257.0 1702.1,234.0 1702.4,210.4 1702.6,204.9 1702.8,201.2 1703.1,199.2 1703.3,227.0 1703.6,215.7 1703.8,215.9 1704.0,204.2 1704.3,201.3 1704.5,258.9 1704.7,262.2 1705.0,250.1 1705.2,254.1 1705.5,265.3 1705.7,271.5 1705.9,298.7 1706.2,286.5 1706.4,291.7 1706.7,308.3 1706.9,300.1 1707.1,311.0 1707.4,314.8 1707.6,338.4 1707.9,348.8 1708.1,291.2 1708.3,319.7 1708.6,337.6 1708.8,327.7 1709.0,306.2 1709.3,357.9 1709.5,336.9 1709.8,350.0 1710.0,338.5 1710.2,369.0 1710.5,352.8 1710.7,356.3 1711.0,383.4 1711.2,375.4 1711.4,363.9 1711.7,396.0 1711.9,342.7 1712.1,379.6 1712.4,427.2 1712.6,415.7 1712.9,430.1 1713.1,415.6 1713.3,432.1 1713.6,425.4 1713.8,419.3 1714.1,410.7 1714.3,427.6 1714.5,429.7 1714.8,402.4 1715.0,373.6 1715.2,354.1 1715.5,355.5 1715.7,370.1 1715.9,400.4 1716.2,366.2 1716.4,316.4 1716.7,323.0 1716.9,332.9 1717.1,340.0 1717.4,323.9 1717.6,344.2 1717.8,327.5 1718.1,334.1 1718.3,320.9 1718.6,306.6 1718.8,295.1 1719.0,256.4 1719.3,225.7 1719.5,218.7 1719.7,240.7 1720.0,239.3 1720.2,233.4 1720.5,225.8 1720.7,229.0 1720.9,248.9 1721.2,273.6 1721.4,267.9 1721.6,274.1 1721.9,257.9 1722.1,261.4 1722.4,296.9 1722.6,313.0 1722.8,313.1 1723.1,311.5 1723.3,329.5 1723.5,339.9 1723.8,352.6 1724.0,330.5 1724.3,353.2 1724.5,343.8 1724.7,358.8 1725.0,362.4 1725.2,402.2 1725.4,405.3 1725.7,366.6 1725.9,382.7 1726.2,400.2 1726.4,413.2 1726.6,427.0 1726.9,419.8 1727.1,450.4 1727.4,400.5 1727.6,392.2 1727.8,357.3 1728.1,360.2 1728.3,360.2 1728.5,368.9 1728.8,418.3 1729.0,414.6 1729.3,448.8 1729.5,445.4 1729.7,455.8 1730.0,462.0 1730.2,459.6 1730.4,460.8 1730.7,463.3 1730.9,466.8 1731.2,464.2 1731.4,464.2 1731.6,466.1 1731.9,433.7 1732.1,391.7 1732.4,412.4 1732.6,406.2 1732.8,391.1 1733.1,419.9 1733.3,447.5 1733.6,453.9 1733.8,410.0 1734.0,442.1 1734.3,437.9 1734.5,378.4 1734.8,373.9 1735.0,358.6 1735.2,327.6 1735.5,343.6 1735.7,345.0 1736.0,312.4 1736.2,263.6 1736.4,269.9 1736.7,277.9 1736.9,271.8 1737.2,279.8 1737.4,302.0 1737.6,283.6 1737.9,247.1 1738.1,209.4 1738.4,212.9 1738.6,195.3 1738.8,204.0 1739.1,216.8 1739.3,187.1 1739.6,179.9 1739.8,192.0 1740.0,185.1 1740.3,168.4 1740.5,187.1 1740.8,250.3 1741.0,240.3 1741.2,243.2 1741.5,256.4 1741.7,266.3 1742.0,277.2 1742.2,295.4 1742.4,309.8 1742.7,323.2 1742.9,318.8 1743.2,365.7 1743.4,373.8 1743.6,362.4 1743.9,371.2 1744.1,378.3 1744.4,412.0 1744.6,404.4 1744.8,413.5 1745.1,424.7 1745.3,420.8 1745.6,413.8 1745.8,427.0 1746.0,410.2 1746.3,418.3 1746.5,416.2 1746.8,421.8 1747.0,408.3 1747.2,389.5 1747.5,408.8 1747.7,388.7 1747.9,400.0 1748.2,395.0 1748.4,381.3 1748.7,353.7 1748.9,371.0 1749.1,384.8 1749.4,373.6 1749.6,391.0 1749.9,373.4 1750.1,361.1 1750.3,366.1 1750.6,344.5 1750.8,350.8 1751.0,368.7 1751.3,364.5 1751.5,338.1 1751.8,336.8 1752.0,340.7 1752.2,323.1 1752.5,320.5 1752.7,317.5 1753.0,315.4 1753.2,294.4 1753.4,285.1 1753.7,290.0 1753.9,272.7 1754.1,252.4 1754.4,258.9 1754.6,286.5 1754.9,283.5 1755.1,295.0 1755.3,290.9 1755.6,295.4 1755.8,294.5 1756.1,298.6 1756.3,284.6 1756.6,301.6 1756.8,323.8 1757.0,344.0 1757.3,346.2 1757.5,361.0 1757.8,343.4 1758.0,347.5 1758.2,343.3 1758.5,332.4 1758.7,341.3 1759.0,328.2 1759.2,360.0 1759.4,384.8 1759.7,403.2 1759.9,373.0 1760.2,422.5 1760.4,433.8 1760.7,412.0 1760.9,392.9 1761.1,416.6 1761.4,428.1 1761.6,433.0 1761.9,444.7 1762.1,459.1 1762.3,453.4 1762.6,456.1 1762.8,433.0 1763.1,427.2 1763.3,393.5 1763.5,426.7 1763.8,422.5 1764.0,424.8 1764.2,416.6 1764.5,433.2 1764.7,458.4 1765.0,453.0 1765.2,435.5 1765.4,402.5 1765.7,373.0 1765.9,393.1 1766.2,397.0 1766.4,430.5 1766.6,407.3 1766.9,355.2 1767.1,375.7 1767.3,356.4 1767.6,368.2 1767.8,336.8 1768.1,336.7 1768.3,329.9 1768.5,323.6 1768.8,312.0 1769.0,327.4 1769.3,307.3 1769.5,276.1 1769.7,273.3 1770.0,285.8 1770.2,298.2 1770.5,291.8 1770.7,285.5 1770.9,293.7 1771.2,290.9 1771.4,279.1 1771.6,279.9 1771.9,293.3 1772.1,279.2 1772.4,255.2 1772.6,251.8 1772.8,249.6 1773.1,227.2 1773.3,212.4 1773.6,209.7 1773.8,196.4 1774.0,194.9 1774.3,195.5 1774.5,204.0 1774.7,196.8 1775.0,227.6 1775.2,246.2 1775.5,274.0 1775.7,306.2 1775.9,296.9 1776.2,297.0 1776.4,295.7 1776.6,289.2 1776.9,363.6 1777.1,366.6 1777.4,348.0 1777.6,389.1 1777.8,370.0 1778.1,369.7 1778.3,396.0 1778.5,387.9 1778.8,397.2 1779.0,400.4 1779.3,364.7 1779.5,392.1 1779.7,403.9 1780.0,408.6 1780.2,420.0 1780.4,423.1 1780.7,419.8 1780.9,411.4 1781.2,421.4 1781.4,412.2 1781.6,395.2 1781.9,374.9 1782.1,376.0 1782.4,421.9 1782.6,355.4 1782.9,318.1 1783.1,341.8 1783.3,389.6 1783.6,362.9 1783.8,378.1 1784.1,356.3 1784.3,354.5 1784.5,345.4 1784.8,301.9 1785.0,283.5 1785.3,296.8 1785.5,307.5 1785.7,324.2 1786.0,313.7 1786.2,317.0 1786.5,300.6 1786.7,315.2 1786.9,320.5 1787.2,295.3 1787.4,277.0 1787.7,285.3 1787.9,297.7 1788.1,288.5 1788.4,269.7 1788.6,265.3 1788.9,271.8 1789.1,247.1 1789.3,213.8 1789.6,208.8 1789.8,225.2 1790.1,206.9 1790.3,232.4 1790.5,212.8 1790.8,214.8 1791.0,213.0 1791.3,213.2 1791.5,215.4 1791.7,217.3 1792.0,211.2 1792.2,235.0 1792.5,235.7 1792.7,260.6 1792.9,303.4 1793.2,274.9 1793.4,291.1 1793.7,300.1 1793.9,300.8 1794.1,322.6 1794.4,338.2 1794.6,337.1 1794.9,357.7 1795.1,321.1 1795.3,334.2 1795.6,336.8 1795.8,309.4 1796.0,369.4 1796.3,358.0 1796.5,362.2 1796.8,389.2 1797.0,399.5 1797.2,396.8 1797.5,401.8 1797.7,379.4 1798.0,355.6 1798.2,346.8 1798.4,374.4 1798.7,417.5 1798.9,381.2 1799.2,421.6 1799.4,392.5 1799.6,405.8 1799.9,441.6 1800.1,430.9 1800.3,420.1 1800.6,441.7 1800.8,416.6 1801.1,399.2 1801.3,372.2 1801.6,369.1 1801.8,372.8 1802.0,359.8 1802.3,364.6 1802.5,374.7 1802.8,349.9 1803.0,369.5 1803.2,336.5 1803.5,351.0 1803.7,305.5 1804.0,326.8 1804.2,324.8 1804.4,321.2 1804.7,283.7 1804.9,275.4 1805.2,253.6 1805.4,267.7 1805.6,237.6 1805.9,221.2 1806.1,201.3 1806.4,187.0 1806.6,197.3 1806.8,206.3 1807.1,199.9 1807.3,195.9 1807.6,191.1 1807.8,227.2 1808.1,196.7 1808.3,213.6 1808.5,220.8 1808.8,203.5 1809.0,252.4 1809.3,266.1 1809.5,242.0 1809.8,265.8 1810.0,277.2 1810.2,308.1 1810.5,301.7 1810.7,321.4 1811.0,343.6 1811.2,311.8 1811.4,323.1 1811.7,320.0 1811.9,316.5 1812.2,324.6 1812.4,345.0 1812.7,340.7 1812.9,355.3 1813.1,344.7 1813.4,357.8 1813.6,363.8 1813.9,365.0 1814.1,372.5 1814.3,400.7 1814.6,415.2 1814.8,403.7 1815.1,370.6 1815.3,346.8 1815.6,348.1 1815.8,366.6 1816.0,423.9 1816.3,417.3 1816.5,398.2 1816.8,418.1 1817.0,430.8 1817.2,426.2 1817.5,415.4 1817.7,392.1 1818.0,385.1 1818.2,391.1 1818.4,384.8 1818.7,365.6 1818.9,389.6 1819.1,410.6 1819.4,385.9 1819.6,379.0 1819.8,396.7 1820.1,382.7 1820.3,357.8 1820.5,340.9 1820.8,345.6 1821.0,333.9 1821.2,318.6 1821.5,311.9 1821.7,302.2 1822.0,295.7 1822.2,300.8 1822.4,284.2 1822.7,252.4 1822.9,256.9 1823.1,278.7 1823.4,292.2 1823.6,295.2 1823.9,298.6 1824.1,305.7 1824.3,294.2 1824.6,307.0 1824.8,339.8 1825.1,323.1 1825.3,340.0 1825.5,340.2 1825.8,357.2 1826.0,337.2 1826.3,328.4 1826.5,373.1 1826.7,360.7 1827.0,364.4 1827.2,378.7 1827.5,327.9 1827.7,369.0 1827.9,417.4 1828.2,409.1 1828.4,370.5 1828.7,337.7 1828.9,375.8 1829.1,428.0 1829.4,425.4 1829.6,432.0 1829.9,454.5 1830.1,430.8 1830.3,458.3 1830.6,413.6 1830.8,418.4 1831.1,424.8 1831.3,433.8 1831.5,419.5 1831.8,445.3 1832.0,461.6 1832.3,457.0 1832.5,458.8 1832.7,441.4 1833.0,441.9 1833.2,449.2 1833.5,406.2 1833.7,372.5 1833.9,405.0 1834.2,378.7 1834.4,401.5 1834.7,409.3 1834.9,396.7 1835.1,375.8 1835.4,402.7 1835.6,428.1 1835.9,388.6 1836.1,398.6 1836.3,406.7 1836.6,395.7 1836.8,366.8 1837.1,358.4 1837.3,320.9 1837.5,341.2 1837.8,323.4 1838.0,345.4 1838.3,350.5 1838.5,345.0 1838.7,342.8 1839.0,361.4 1839.2,333.8 1839.5,362.1 1839.7,348.3 1840.0,312.4 1840.2,286.7 1840.4,308.8 1840.7,307.3 1840.9,264.5 1841.2,279.7 1841.4,299.5 1841.6,293.4 1841.9,251.0 1842.1,259.2 1842.4,264.7 1842.6,233.4 1842.8,232.3 1843.1,204.9 1843.3,203.7 1843.6,208.7 1843.8,209.5 1844.0,217.7 1844.3,208.7 1844.5,205.1 1844.8,220.6 1845.0,261.5 1845.3,278.2 1845.5,272.8 1845.7,245.8 1846.0,277.1 1846.2,307.6 1846.5,296.0 1846.7,313.2 1847.0,291.5 1847.2,297.6 1847.4,341.5 1847.7,362.5 1847.9,353.3 1848.2,339.7 1848.4,359.7 1848.7,359.7 1848.9,355.6 1849.1,378.1 1849.4,413.1 1849.6,403.3 1849.9,426.8 1850.1,417.4 1850.4,418.3 1850.6,379.8 1850.8,375.4 1851.1,386.6 1851.3,379.1 1851.6,412.3 1851.8,430.0 1852.1,428.2 1852.3,430.2 1852.5,420.4 1852.8,416.1 1853.0,428.8 1853.2,423.3 1853.5,407.1 1853.7,388.6 1854.0,370.3 1854.2,360.6 1854.4,355.2 1854.7,371.3 1854.9,378.9 1855.2,381.0 1855.4,356.8 1855.6,357.9 1855.9,369.5 1856.1,405.5 1856.3,383.9 1856.6,343.3 1856.8,321.2 1857.1,294.2 1857.3,312.6 1857.5,293.5 1857.8,310.2 1858.0,278.7 1858.3,272.9 1858.5,273.3 1858.7,255.0 1859.0,233.5 1859.2,244.5 1859.4,242.1 1859.7,241.0 1859.9,249.9 1860.2,262.2 1860.4,294.4 1860.6,296.2 1860.9,295.6 1861.1,327.8 1861.3,322.2 1861.6,325.4 1861.8,334.8 1862.1,347.8 1862.3,339.4 1862.5,335.2 1862.8,373.4 1863.0,359.7 1863.2,349.9 1863.5,353.4 1863.7,347.5 1864.0,350.4 1864.2,368.1 1864.4,374.8 1864.7,390.5 1864.9,411.5 1865.1,364.9 1865.4,414.9 1865.6,445.9 1865.9,416.4 1866.1,429.1 1866.3,407.2 1866.6,422.9 1866.8,454.1 1867.0,438.0 1867.3,447.3 1867.5,426.4 1867.8,435.0 1868.0,415.1 1868.2,443.2 1868.5,458.4 1868.7,455.3 1868.9,456.2 1869.2,411.7 1869.4,407.3 1869.7,435.6 1869.9,436.4 1870.1,407.0 1870.4,421.5 1870.6,447.5 1870.9,428.5 1871.1,455.4 1871.3,434.6 1871.6,411.9 1871.8,387.4 1872.1,390.0 1872.3,389.4 1872.5,347.3 1872.8,325.9 1873.0,354.0 1873.2,381.8 1873.5,352.8 1873.7,322.4 1874.0,320.8 1874.2,319.8 1874.4,307.7 1874.7,326.1 1874.9,303.0 1875.2,263.2 1875.4,255.0 1875.6,240.6 1875.9,266.2 1876.1,264.4 1876.4,256.6 1876.6,235.7 1876.8,229.7 1877.1,206.5 1877.3,215.0 1877.5,223.8 1877.8,240.0 1878.0,250.6 1878.3,277.2 1878.5,226.8 1878.8,265.7 1879.0,280.7 1879.2,286.0 1879.5,307.4 1879.7,316.7 1880.0,321.1 1880.2,286.3 1880.4,315.8 1880.7,293.6 1880.9,274.5 1881.2,276.7 1881.4,311.2 1881.6,328.0 1881.9,325.3 1882.1,338.1 1882.4,363.8 1882.6,404.8 1882.8,393.7 1883.1,374.9 1883.3,373.8 1883.6,390.5 1883.8,363.6 1884.0,363.5 1884.3,383.5 1884.5,421.7 1884.8,412.4 1885.0,371.9 1885.2,366.1 1885.5,417.2 1885.7,379.8 1886.0,369.8 1886.2,384.1 1886.5,410.6 1886.7,427.6 1886.9,411.5 1887.2,391.4 1887.4,379.8 1887.6,367.9 1887.9,400.0 1888.1,376.9 1888.3,372.8 1888.6,366.2 1888.8,369.3 1889.1,363.5 1889.3,401.1 1889.5,342.9 1889.8,366.1 1890.0,338.6 1890.2,294.1 1890.5,320.1 1890.7,295.0 1890.9,305.0 1891.2,267.3 1891.4,242.1 1891.6,245.0 1891.9,245.5 1892.1,189.8 1892.4,203.6 1892.6,186.3 1892.8,193.9 1893.1,190.5 1893.3,221.6 1893.6,222.0 1893.8,239.7 1894.0,265.6 1894.3,249.5 1894.5,249.4 1894.8,235.5 1895.0,231.8 1895.2,246.8 1895.5,266.6 1895.7,273.7 1896.0,280.1 1896.2,284.2 1896.4,272.0 1896.7,286.8 1896.9,323.9 1897.2,306.1 1897.4,282.5 1897.7,317.5 1897.9,326.5 1898.1,329.4 1898.4,352.1 1898.6,328.5 1898.9,357.6 1899.1,366.3 1899.3,351.1 1899.6,350.1 1899.8,374.6 1900.1,405.9 1900.3,397.8 1900.5,436.7 1900.8,396.9 1901.0,400.3 1901.3,409.2 1901.5,414.9 1901.7,436.0 1902.0,429.3 1902.2,456.1 1902.5,460.4 1902.7,457.5 1903.0,431.0 1903.2,426.2 1903.4,416.6 1903.7,422.3 1903.9,398.7 1904.1,429.8 1904.4,445.8 1904.6,400.6 1904.9,392.0 1905.1,411.9 1905.3,429.8 1905.6,409.6 1905.8,407.1 1906.1,368.3 1906.3,338.8 1906.5,323.5 1906.8,377.6 1907.0,415.3 1907.3,353.9 1907.5,341.5 1907.7,346.3 1908.0,354.4 1908.2,345.5 1908.5,334.6 1908.7,278.4 1908.9,287.5 1909.2,260.0 1909.4,252.4 1909.6,254.5 1909.9,224.7 1910.1,222.1 1910.4,242.3 1910.6,260.2 1910.8,259.1 1911.1,267.6 1911.3,247.4 1911.6,255.8 1911.8,232.6 1912.0,226.0 1912.3,203.4 1912.5,194.3 1912.8,182.8 1913.0,181.2 1913.2,201.3 1913.5,195.8 1913.7,203.9 1914.0,196.1 1914.2,182.0 1914.4,213.6 1914.7,226.6 1914.9,239.7 1915.2,265.2 1915.4,304.3 1915.6,304.9 1915.9,300.9 1916.1,285.2 1916.4,308.1 1916.6,275.5 1916.8,254.1 1917.1,272.9 1917.3,319.7 1917.6,325.3 1917.8,334.1 1918.0,332.8 1918.3,348.0 1918.5,326.6 1918.8,353.2 1919.0,304.1 1919.2,315.1 1919.5,335.4 1919.7,307.7 1920.0,379.2 1920.2,417.6 1920.5,412.6 1920.7,384.0 1920.9,425.0 1921.2,427.9 1921.4,432.2 1921.7,423.5 1921.9,424.1 1922.1,423.2 1922.4,429.0 1922.6,432.8 1922.9,411.4 1923.1,388.5 1923.3,340.7 1923.6,352.6 1923.8,342.5 1924.0,373.8 1924.3,382.8 1924.5,368.4 1924.7,345.4 1925.0,347.0 1925.2,353.0 1925.4,370.1 1925.7,378.1 1925.9,322.5 1926.2,305.6 1926.4,313.2 1926.6,324.9 1926.9,288.7 1927.1,282.2 1927.3,285.7 1927.6,250.8 1927.8,214.8 1928.0,230.6 1928.3,227.0 1928.5,208.4 1928.8,217.0 1929.0,245.1 1929.2,256.6 1929.5,242.6 1929.7,261.0 1930.0,264.5 1930.2,267.5 1930.5,241.0 1930.7,254.7 1930.9,301.2 1931.2,302.0 1931.4,310.7 1931.7,279.2 1931.9,266.5 1932.2,281.9 1932.4,316.1 1932.7,336.3 1932.9,341.7 1933.1,360.0 1933.4,351.9 1933.6,350.6 1933.9,363.2 1934.1,362.2 1934.4,363.9 1934.6,348.8 1934.8,369.1 1935.1,381.2 1935.3,380.3 1935.6,327.3 1935.8,398.8 1936.1,389.7 1936.3,393.5 1936.5,380.9 1936.8,370.6 1937.0,411.3 1937.3,406.4 1937.5,433.1 1937.8,446.2 1938.0,444.0 1938.2,435.6 1938.5,420.1 1938.7,426.9 1939.0,444.2 1939.2,424.6 1939.5,409.6 1939.7,415.3 1939.9,393.2 1940.2,421.8 1940.4,388.8 1940.7,405.3 1940.9,359.8 1941.2,340.7 1941.4,394.9 1941.6,370.9 1941.9,420.6 1942.1,396.7 1942.4,395.0 1942.6,365.2 1942.9,377.1 1943.1,338.3 1943.3,356.9 1943.6,312.7 1943.8,282.5 1944.1,277.1 1944.3,269.1 1944.6,263.1 1944.8,268.8 1945.0,246.9 1945.3,249.2 1945.5,248.6 1945.8,250.9 1946.0,234.2 1946.3,221.6 1946.5,210.6 1946.7,188.3 1947.0,189.3 1947.2,222.7 1947.5,196.3 1947.7,214.4 1947.9,229.8 1948.2,266.4 1948.4,256.7 1948.6,237.6 1948.9,268.1 1949.1,266.9 1949.4,243.0 1949.6,255.1 1949.8,292.2 1950.1,303.6 1950.3,303.5 1950.5,274.1 1950.8,284.3 1951.0,305.1 1951.3,357.7 1951.5,346.3 1951.7,341.5 1952.0,366.7 1952.2,359.7 1952.5,355.6 1952.7,365.7 1952.9,370.4 1953.2,342.2 1953.4,380.1 1953.6,379.8 1953.9,386.1 1954.1,359.1 1954.4,402.7 1954.6,400.5 1954.8,405.3 1955.1,428.9 1955.3,424.7 1955.6,405.7 1955.8,415.6 1956.0,426.4 1956.3,401.8 1956.5,375.5 1956.8,360.1 1957.0,365.5 1957.3,373.1 1957.5,391.9 1957.7,391.3 1958.0,355.4 1958.2,352.3 1958.5,323.6 1958.7,335.2 1959.0,329.6 1959.2,318.3 1959.4,312.9 1959.7,292.0 1959.9,294.0 1960.2,293.1 1960.4,275.3 1960.7,282.6 1960.9,247.6 1961.1,248.1 1961.4,260.5 1961.6,250.3 1961.9,227.0 1962.1,230.7 1962.4,272.6 1962.6,258.8 1962.8,273.3 1963.1,281.2 1963.3,278.1 1963.6,285.3 1963.8,310.8 1964.0,282.1 1964.3,314.4 1964.5,295.5 1964.8,298.5 1965.0,318.6 1965.3,351.1 1965.5,355.9 1965.7,382.5 1966.0,367.8 1966.2,374.4 1966.5,379.7 1966.7,350.5 1966.9,343.3 1967.2,347.0 1967.4,348.6 1967.7,386.5 1967.9,385.2 1968.1,399.6 1968.4,429.6 1968.6,395.2 1968.9,414.7 1969.1,390.0 1969.3,396.6 1969.6,391.9 1969.8,351.1 1970.1,367.4 1970.3,390.0 1970.6,409.3 1970.8,383.0 1971.0,387.6 1971.3,426.1 1971.5,440.2 1971.8,446.9 1972.0,442.9 1972.2,444.0 1972.5,443.1 1972.7,436.9 1972.9,411.5 1973.2,411.4 1973.4,383.5 1973.7,366.6 1973.9,388.6 1974.1,350.2 1974.4,369.8 1974.6,398.2 1974.9,373.1 1975.1,373.9 1975.3,349.4 1975.6,384.8 1975.8,362.7 1976.0,375.9 1976.3,338.4 1976.5,335.5 1976.8,295.0 1977.0,286.6 1977.2,274.5 1977.5,270.3 1977.7,297.5 1978.0,298.6 1978.2,299.3 1978.4,291.4 1978.7,290.9 1978.9,282.9 1979.1,253.7 1979.4,266.9 1979.6,239.3 1979.9,229.7 1980.1,218.7 1980.3,249.6 1980.6,263.7 1980.8,268.8 1981.0,274.3 1981.3,281.7 1981.5,266.2 1981.8,265.5 1982.0,291.1 1982.2,321.6 1982.5,328.5 1982.7,322.8 1982.9,304.8 1983.2,324.3 1983.4,314.0 1983.7,353.1 1983.9,328.2 1984.1,351.3 1984.4,362.6 1984.6,365.7 1984.9,409.0 1985.1,359.4 1985.3,384.0 1985.6,379.3 1985.8,367.3 1986.0,376.2 1986.3,374.6 1986.5,372.9 1986.8,357.7 1987.0,357.0 1987.2,405.0 1987.5,402.3 1987.7,409.2 1987.9,408.5 1988.2,409.7 1988.4,409.0 1988.7,406.2 1988.9,408.2 1989.1,381.2 1989.4,373.7 1989.6,382.2 1989.9,385.0 1990.1,391.6 1990.3,362.2 1990.6,326.7 1990.8,377.8 1991.1,335.5 1991.3,356.1 1991.5,366.8 1991.8,356.5 1992.0,352.7 1992.3,348.5 1992.5,346.8 1992.8,331.1 1993.0,323.0 1993.2,352.5 1993.5,333.6 1993.7,345.1 1994.0,339.5 1994.2,349.9 1994.4,340.8 1994.7,341.4 1994.9,328.0 1995.2,302.1 1995.4,288.9 1995.6,314.5 1995.9,284.4 1996.1,294.1 1996.4,266.1 1996.6,263.5 1996.8,285.1 1997.1,264.0 1997.3,245.5 1997.6,225.8 1997.8,222.5 1998.0,257.2 1998.3,243.6 1998.5,237.1 1998.8,268.6 1999.0,283.2 1999.2,288.6 1999.5,295.7 1999.7,303.6 1999.9,336.2 2000.2,333.8 2000.4,345.6 2000.7,368.0 2000.9,362.2 2001.1,368.5 2001.4,388.2 2001.6,367.9 2001.9,377.4 2002.1,375.5 2002.3,362.9 2002.6,364.7 2002.8,406.4 2003.0,407.2 2003.3,413.7 2003.5,443.5 2003.8,463.7 2004.0,403.7 2004.2,423.7 2004.5,440.9 2004.7,459.3 2005.0,465.4 2005.2,428.8 2005.4,441.7 2005.7,432.2 2005.9,461.7 2006.1,470.0 2006.4,451.9 2006.6,468.9 2006.9,462.2 2007.1,460.5 2007.3,453.0 2007.6,456.0 2007.8,446.4 2008.1,454.3 2008.3,445.9 2008.5,422.7 2008.8,426.8 2009.0,421.3 2009.2,432.7 2009.5,389.1 2009.7,403.6 2010.0,425.2 2010.2,402.8 2010.4,401.8 2010.7,438.1 2010.9,433.9 2011.2,357.1 2011.4,373.0 2011.6,390.4 2011.9,376.4 2012.1,376.8 2012.3,351.2 2012.6,350.4 2012.8,330.1 2013.1,334.3 2013.3,351.5 2013.5,348.5 2013.8,339.1 2014.0,297.0 2014.3,270.4 2014.5,258.9 2014.7,255.7 2015.0,248.5 2015.2,239.2 2015.5,213.7 2015.7,209.5 2015.9,191.0 2016.2,184.5 2016.4,176.1 2016.6,185.4 2016.9,176.3 2017.1,197.9 2017.4,215.7 2017.6,218.3 2017.8,251.9 2018.1,293.8 2018.3,267.6 2018.6,242.8 2018.8,255.0 2019.0,287.1 2019.3,269.9 2019.5,282.7 2019.8,296.9 2020.0,325.0 2020.2,322.1 2020.5,290.4 2020.7,314.1 2020.9,265.6 2021.2,283.4 2021.4,322.2 2021.7,326.8 2021.9,318.1 2022.1,330.7 2022.4,329.2 2022.6,347.4 2022.9,349.5 2023.1,370.4 2023.3,357.1 2023.6,329.5 2023.8,378.9 2024.1,372.9 2024.3,351.5 2024.5,375.8 2024.8,375.6 2025.0,381.3 2025.3,371.2 2025.5,366.0 2025.7,358.5 2026.0,377.3 2026.2,358.3 2026.4,365.6 2026.7,399.5 2026.9,436.0 2027.2,417.0 2027.4,383.5 2027.6,411.5 2027.9,385.2 2028.1,401.2 2028.4,401.5 2028.6,412.2 2028.9,381.7 2029.1,369.8 2029.3,381.1 2029.6,414.6 2029.8,398.9 2030.1,382.0 2030.3,360.4 2030.5,318.2 2030.8,326.2 2031.0,314.0 2031.3,281.3 2031.5,290.0 2031.7,247.8 2032.0,253.9 2032.2,246.8 2032.5,234.4 2032.7,216.5 2032.9,222.0 2033.2,239.9 2033.4,259.9 2033.7,262.1 2033.9,272.0 2034.1,289.7 2034.4,268.3 2034.6,285.3 2034.9,273.5 2035.1,288.3 2035.3,323.4 2035.6,286.6 2035.8,276.3 2036.1,283.5 2036.3,291.3 2036.5,333.7 2036.8,313.6 2037.0,335.0 2037.3,366.4 2037.5,388.7 2037.8,419.1 2038.0,397.1 2038.2,397.1 2038.5,393.2 2038.7,414.4 2039.0,397.5 2039.2,415.0 2039.4,434.4 2039.7,428.8 2039.9,397.0 2040.2,430.6 2040.4,450.5 2040.6,438.6 2040.9,456.9 2041.1,438.2 2041.4,439.7 2041.6,437.2 2041.8,455.1 2042.1,450.9 2042.3,459.1 2042.6,447.9 2042.8,453.0 2043.0,382.0 2043.3,431.1 2043.5,438.7 2043.8,409.0 2044.0,382.0 2044.2,347.4 2044.5,398.4 2044.7,426.7 2045.0,386.1 2045.2,406.0 2045.5,361.5 2045.7,385.4 2045.9,380.8 2046.2,343.0 2046.4,349.7 2046.7,324.3 2046.9,283.5 2047.1,312.9 2047.4,304.2 2047.6,260.6 2047.9,283.5 2048.1,280.1 2048.3,245.1 2048.6,238.3 2048.8,253.6 2049.1,244.9 2049.3,220.7 2049.5,201.5 2049.8,205.1 2050.0,177.3 2050.3,191.7 2050.5,182.2 2050.7,180.3 2051.0,178.2 2051.2,183.9 2051.5,198.0 2051.7,242.8 2052.0,273.7 2052.2,276.8 2052.4,308.6 2052.7,298.8 2052.9,304.4 2053.2,311.4 2053.4,313.4 2053.6,319.8 2053.9,321.8 2054.1,307.6 2054.4,298.2 2054.6,313.0 2054.8,350.4 2055.1,339.2 2055.3,329.4 2055.6,324.0 2055.8,352.6 2056.0,363.5 2056.3,350.0 2056.5,371.7 2056.8,377.1 2057.0,396.5 2057.3,383.8 2057.5,404.9 2057.7,406.9 2058.0,416.7 2058.2,398.5 2058.5,390.7 2058.7,388.3 2058.9,388.6 2059.2,396.1 2059.4,363.1 2059.7,354.0 2059.9,360.2 2060.1,366.5 2060.4,343.8 2060.6,344.1 2060.9,393.1 2061.1,353.8 2061.3,310.0 2061.6,305.2 2061.8,318.9 2062.0,326.2 2062.3,309.0 2062.5,292.6 2062.8,266.1 2063.0,272.5 2063.2,289.4 2063.5,296.1 2063.7,279.1 2064.0,259.7 2064.2,259.7 2064.4,255.2 2064.7,233.1 2064.9,236.7 2065.2,231.2 2066.3,252.7 2067.4,269.5 2068.5,297.0"/>
<polyline stroke="#ff7f0e" stroke-width="8.333" stroke-linecap="square" points="1026.9,346.6 1061.6,345.0 1096.3,343.5 1131.0,345.0 1165.7,345.9 1200.4,337.9 1235.1,345.9 1269.9,338.8 1304.6,344.4 1339.3,341.9 1374.0,338.8 1408.7,338.8 1443.4,339.4 1478.1,340.4 1512.8,341.9 1547.6,345.6 1582.3,338.8 1617.0,341.9 1651.7,345.6 1686.4,344.4 1721.1,344.1 1755.8,343.5 1790.5,341.9 1825.3,344.3 1860.0,345.9 1894.7,345.9 1929.4,340.6 1964.1,341.2 1998.8,345.0 2033.5,345.0 2068.2,342.8 2103.0,294.9"/>
</g>
<g stroke="#000" stroke-width="3.333" fill="none">
<line x1="332.60" y1="1248.5" x2="332.60" y2="1263.08"/>
<line x1="679.73" y1="1248.5" x2="679.73" y2="1263.08"/>
<line x1="1026.86" y1="1248.5" x2="1026.86" y2="1263.08"/>
<line x1="1373.99" y1="1248.5" x2="1373.99" y2="1263.08"/>
<line x1="1721.12" y1="1248.5" x2="1721.12" y2="1263.08"/>
<line x1="2068.25" y1="1248.5" x2="2068.25" y2="1263.08"/>
<line x1="2415.38" y1="1248.5" x2="2415.38" y2="1263.08"/>
<line x1="263.6" y1="214.57" x2="249.02" y2="214.57"/>
<line x1="263.6" y1="367.23" x2="249.02" y2="367.23"/>
<line x1="263.6" y1="519.89" x2="249.02" y2="519.89"/>
<line x1="263.6" y1="672.55" x2="249.02" y2="672.55"/>
<line x1="263.6" y1="825.21" x2="249.02" y2="825.21"/>
<line x1="263.6" y1="977.87" x2="249.02" y2="977.87"/>
<line x1="263.6" y1="1130.53" x2="249.02" y2="1130.53"/>
<rect x="263.6" y="93.5" width="2325.0" height="1155.0" stroke-linejoin="miter"/>
</g>
<rect x="284.4" y="1092.3" width="1012.5" height="134.4" rx="8.33" ry="8.33" fill="#fff" fill-opacity="0.8" stroke="#ccc" stroke-opacity="0.8" stroke-width="4.167"/>
<line x1="301.1" y1="1124.8" x2="384.4" y2="1124.8" stroke="#1f77b4" stroke-width="8.333" stroke-linecap="square"/>
<line x1="301.1" y1="1186" x2="384.4" y2="1186" stroke="#ff7f0e" stroke-width="8.333" stroke-linecap="square"/>
<g style="will-change:transform">
<text x="332.90" y="1308.3" text-anchor="middle" letter-spacing="0.6">1960</text>
<text x="680.03" y="1308.3" text-anchor="middle" letter-spacing="0.6">1970</text>
<text x="1027.16" y="1308.3" text-anchor="middle" letter-spacing="0.6">1980</text>
<text x="1374.29" y="1308.3" text-anchor="middle" letter-spacing="0.6">1990</text>
<text x="1721.42" y="1308.3" text-anchor="middle" letter-spacing="0.6">2000</text>
<text x="2068.55" y="1308.3" text-anchor="middle" letter-spacing="0.6">2010</text>
<text x="2415.68" y="1308.3" text-anchor="middle" letter-spacing="0.6">2020</text>
<text x="234.43" y="229.37" text-anchor="end">0.2</text>
<text x="234.43" y="382.03" text-anchor="end">0.0</text>
<text x="234.43" y="534.69" text-anchor="end">−0.2</text>
<text x="234.43" y="687.35" text-anchor="end">−0.4</text>
<text x="234.43" y="840.01" text-anchor="end">−0.6</text>
<text x="234.43" y="992.67" text-anchor="end">−0.8</text>
<text x="234.43" y="1145.33" text-anchor="end">−1.0</text>
<text x="263.6" y="80">1e10</text>
<text x="1426.10" y="68" text-anchor="middle" font-size="50.0" letter-spacing="0.05">total_fsitherm: Water Melt/Form from Sea Ice Area Integrated</text>
<text transform="translate(61.5 671.00) rotate(-90)" text-anchor="middle">Water Melt/Form from Sea Ice</text>
<text transform="translate(106 672.40) rotate(-90)" text-anchor="middle" letter-spacing="0.1">Area Integrated [kg s-1]</text>
<text x="417.7" y="1140">25km-iaf-test-for-AK-expt-7df5ef4c</text>
<text x="417.7" y="1200.5">MC_25km_jra_iaf-1.0-beta-gm4-9fd08880</text>
</g>
</svg>
</body></html>
